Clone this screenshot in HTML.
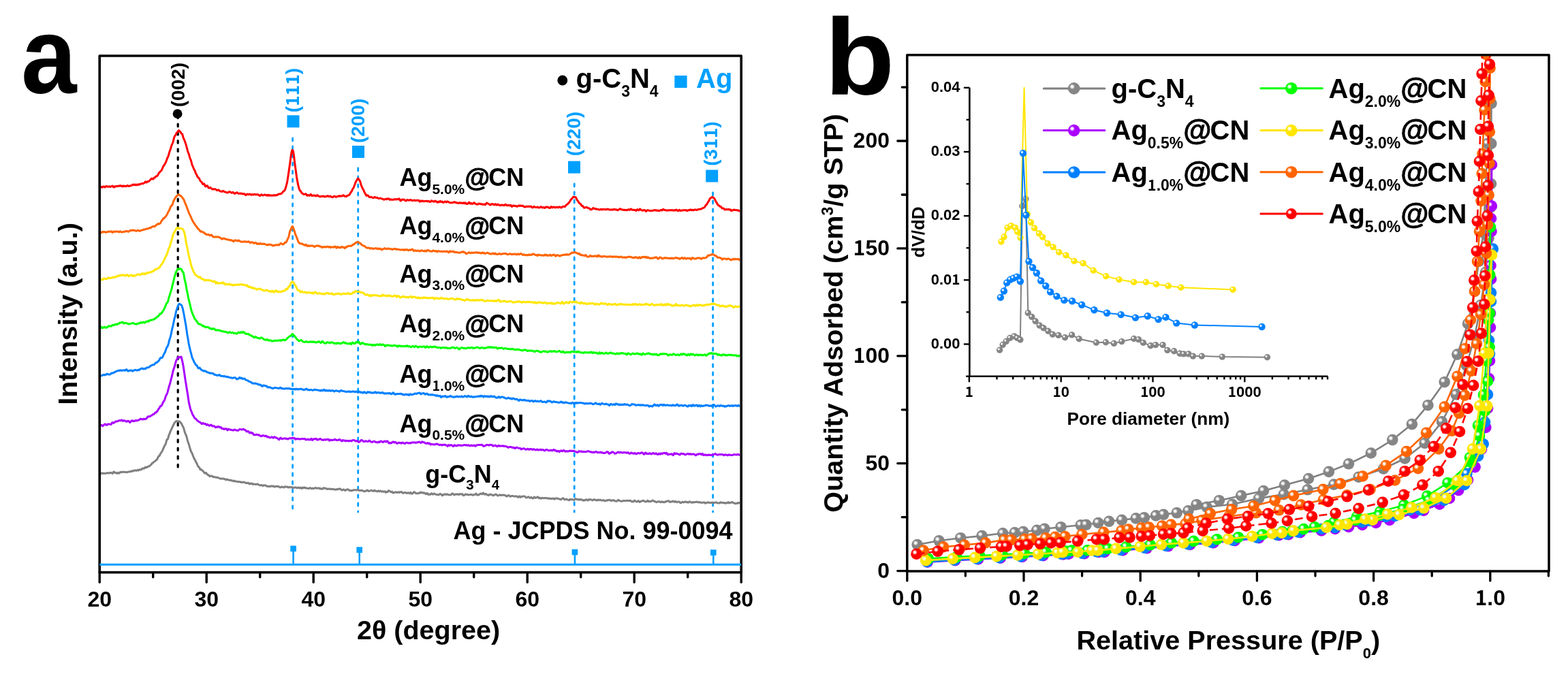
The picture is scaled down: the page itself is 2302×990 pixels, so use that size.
<!DOCTYPE html><html><head><meta charset="utf-8"><style>html,body{margin:0;padding:0;background:#fff;overflow:hidden}svg{display:block}text{font-family:'Liberation Sans',Arial,sans-serif;font-weight:bold}</style></head><body>
<svg width="2302" height="990" viewBox="0 0 2302 990">
<defs><clipPath id="clipA"><rect x="148" y="83.8" width="938.4" height="755.2"/></clipPath></defs>
<rect width="2302" height="990" fill="#fff"/>
<line x1="261.2" y1="170" x2="261.2" y2="692" stroke="#000" stroke-width="3.2" stroke-dasharray="3.6 8.6" stroke-linecap="round"/>
<line x1="429.6" y1="203" x2="429.6" y2="752" stroke="#00A0FF" stroke-width="2.8" stroke-dasharray="4 8" stroke-linecap="round"/>
<line x1="525.7" y1="247" x2="525.7" y2="752" stroke="#00A0FF" stroke-width="2.8" stroke-dasharray="4 8" stroke-linecap="round"/>
<line x1="843.2" y1="270" x2="843.2" y2="752" stroke="#00A0FF" stroke-width="2.8" stroke-dasharray="4 8" stroke-linecap="round"/>
<line x1="1046.6" y1="283" x2="1046.6" y2="752" stroke="#00A0FF" stroke-width="2.8" stroke-dasharray="4 8" stroke-linecap="round"/>
<g clip-path="url(#clipA)">
<polyline fill="none" stroke="#808080" stroke-width="3" stroke-linejoin="round" points="147.5,695.5 148.3,695.7 149.1,695.2 149.9,694.8 150.7,695.3 151.5,695.4 152.3,695.1 153.1,695.3 153.9,695.4 154.7,695.3 155.5,695.2 156.3,695.1 157.1,694.7 157.9,694.6 158.7,694.8 159.5,695.1 160.3,695 161.1,694.5 161.9,694.3 162.7,694.5 163.5,694.6 164.3,694.9 165.1,695.5 165.9,694.8 166.7,693.1 167.5,693 168.3,693.9 169.1,694.3 169.9,694.5 170.7,695.1 171.5,695.2 172.3,694.2 173.1,694.4 173.9,695.3 174.7,695.2 175.5,694.5 176.3,693.6 177.1,693.2 177.9,693.7 178.7,693.7 179.5,693.1 180.3,693.2 181.1,693.3 181.9,693.2 182.7,693.3 183.5,693.6 184.3,693.4 185.1,693.3 185.9,693.7 186.7,693.8 187.5,693.3 188.3,692.9 189.1,692.9 189.9,693 190.7,692.8 191.5,692.5 192.3,692.7 193.1,692.3 193.9,691.6 194.7,691.7 195.5,692 196.3,691.8 197.1,691 197.9,690.8 198.7,691.1 199.5,691.1 200.3,691.3 201.1,690.9 201.9,690.2 202.7,690.6 203.5,691 204.3,690.1 205.1,689.7 205.9,690 206.7,690 207.5,689.7 208.3,688.7 209.1,687.9 209.9,688 210.7,688.2 211.5,688.2 212.3,687.5 213.1,686.2 213.9,686.2 214.7,686.9 215.5,686.6 216.3,685.6 217.1,685.3 217.9,685.2 218.7,685 219.5,684.6 220.3,683.8 221.1,682.9 221.9,682.4 222.7,681.6 223.5,680.2 224.3,679.8 225.1,679.4 225.9,678.4 226.7,677.9 227.5,677.4 228.3,676.8 229.1,676 229.9,675.3 230.7,674.6 231.5,673 232.3,671 233.1,670 233.9,669.8 234.7,668.3 235.5,666.5 236.3,665.3 237.1,664.2 237.9,663 238.7,661.3 239.5,659.4 240.3,657.6 241.1,656 241.9,654.2 242.7,653.1 243.5,651.3 244.3,647.9 245.1,645.5 245.9,645.3 246.7,644.1 247.5,640.7 248.3,638.2 249.1,636.6 249.9,634.5 250.7,632.4 251.5,630.8 252.3,629.2 253.1,627.4 253.9,625.7 254.7,624 255.5,622.3 256.3,621 257.1,620.1 257.9,619.3 258.7,618.4 259.5,618.4 260.3,619.1 261.1,619 261.9,618.8 262.7,618.9 263.5,619 264.3,619.6 265.1,620.8 265.9,621.6 266.7,622.7 267.5,624.6 268.3,626.1 269.1,627.5 269.9,629.7 270.7,632.7 271.5,635.4 272.3,637.3 273.1,639.1 273.9,641.3 274.7,644.5 275.5,647.7 276.3,649.8 277.1,652 277.9,654.8 278.7,657.6 279.5,660.3 280.3,662.8 281.1,664.2 281.9,665.6 282.7,667.7 283.5,669.8 284.3,671.8 285.1,673.6 285.9,674.9 286.7,676.3 287.5,678.3 288.3,679.6 289.1,680.8 289.9,683 290.7,684.8 291.5,685.7 292.3,686.2 293.1,687.6 293.9,689.6 294.7,690 295.5,689.5 296.3,690.3 297.1,691.1 297.9,691.7 298.7,692.7 299.5,693.8 300.3,695 301.1,695 301.9,694.3 302.7,694.8 303.5,695.8 304.3,697 305.1,697.7 305.9,697.6 306.7,698 307.5,699.4 308.3,699.8 309.1,699 309.9,699 310.7,699.3 311.5,699.3 312.3,699.9 313.1,700.7 313.9,700.5 314.7,700.5 315.5,701 316.3,701 317.1,701 317.9,701.3 318.7,701.4 319.5,701.3 320.3,701.7 321.1,702.1 321.9,702.4 322.7,702.6 323.5,703 324.3,703.3 325.1,703.2 325.9,703.1 326.7,703.1 327.5,703 328.3,703.2 329.1,703.7 329.9,703.5 330.7,703.8 331.5,704.6 332.3,704.8 333.1,704.2 333.9,704 334.7,704.9 335.5,705.1 336.3,705 337.1,705.4 337.9,705.3 338.7,705.1 339.5,705.7 340.3,706.1 341.1,705.9 341.9,706.1 342.7,706.9 343.5,706.5 344.3,706.1 345.1,706.8 345.9,707.1 346.7,707.2 347.5,707.2 348.3,707.4 349.1,707.5 349.9,707.6 350.7,707.9 351.5,707.7 352.3,707.6 353.1,708.2 353.9,708.5 354.7,708.3 355.5,708.3 356.3,708.4 357.1,707.9 357.9,708.1 358.7,708.5 359.5,708.6 360.3,709 361.1,709.6 361.9,709.8 362.7,709.3 363.5,709.4 364.3,709.3 365.1,709.7 365.9,710.9 366.7,710.5 367.5,710.1 368.3,710.7 369.1,710.4 369.9,710 370.7,710.9 371.5,711.4 372.3,711 373.1,711 373.9,711.2 374.7,711.2 375.5,711.5 376.3,711.6 377.1,711.1 377.9,710.9 378.7,711.3 379.5,711.8 380.3,712.4 381.1,712.7 381.9,712.8 382.7,712.8 383.5,712.5 384.3,712.5 385.1,713.3 385.9,713.8 386.7,713.1 387.5,712.7 388.3,712.9 389.1,712.9 389.9,713 390.7,713.3 391.5,713.9 392.3,714.4 393.1,714.3 393.9,714.3 394.7,714.5 395.5,714.6 396.3,714.7 397.1,714.2 397.9,713.8 398.7,714.1 399.5,714.2 400.3,714 401.1,714 401.9,714.3 402.7,715.1 403.5,715 404.3,714.4 405.1,714.2 405.9,714.5 406.7,714.6 407.5,714.3 408.3,714.3 409.1,714.7 409.9,715.1 410.7,715.8 411.5,716 412.3,715.7 413.1,715.2 413.9,714.9 414.7,715.3 415.5,715.6 416.3,716 417.1,715.8 417.9,714.8 418.7,714.8 419.5,715.2 420.3,715.3 421.1,715 421.9,715.1 422.7,715.8 423.5,716.1 424.3,715.7 425.1,715.3 425.9,715.6 426.7,716.1 427.5,715.7 428.3,715.3 429.1,716 429.9,716.6 430.7,716.5 431.5,716.3 432.3,716.1 433.1,715.9 433.9,716 434.7,716.2 435.5,716.7 436.3,716.7 437.1,716.1 437.9,716.1 438.7,716.6 439.5,717.1 440.3,716.7 441.1,716.1 441.9,716.6 442.7,717.5 443.5,717.3 444.3,716.1 445.1,716.2 445.9,716.8 446.7,716 447.5,715.9 448.3,716.9 449.1,717.2 449.9,716.8 450.7,716.9 451.5,717.4 452.3,717.6 453.1,717.5 453.9,717.2 454.7,716.7 455.5,716.6 456.3,717.2 457.1,717.7 457.9,717.4 458.7,717 459.5,717.5 460.3,717.7 461.1,717.2 461.9,717 462.7,716.7 463.5,716.4 464.3,717 465.1,717.3 465.9,717.2 466.7,717.2 467.5,716.8 468.3,716.7 469.1,717.6 469.9,718 470.7,717.4 471.5,717.7 472.3,718.3 473.1,718.3 473.9,718.1 474.7,716.9 475.5,716.5 476.3,717.3 477.1,717.3 477.9,717.1 478.7,717.4 479.5,718.3 480.3,718.4 481.1,718 481.9,718.3 482.7,718.3 483.5,718 484.3,718 485.1,718.2 485.9,718.5 486.7,718.4 487.5,718.4 488.3,718.5 489.1,718.3 489.9,718.5 490.7,719 491.5,719.1 492.3,719 493.1,719.3 493.9,719 494.7,718.4 495.5,718.4 496.3,718.8 497.1,718.6 497.9,717.9 498.7,717.8 499.5,718.1 500.3,718.7 501.1,719.6 501.9,720.1 502.7,719.8 503.5,719.3 504.3,718.9 505.1,719.2 505.9,720.1 506.7,720.6 507.5,720.1 508.3,719.3 509.1,719.1 509.9,718.9 510.7,718.8 511.5,719.2 512.3,719.9 513.1,720.4 513.9,720.3 514.7,720.7 515.5,720.8 516.3,720.5 517.1,720.7 517.9,720.4 518.7,719.8 519.5,719.8 520.3,719.8 521.1,719.7 521.9,719.8 522.7,720.1 523.5,720 524.3,719.7 525.1,719.5 525.9,719.4 526.7,720 527.5,720.6 528.3,720.5 529.1,720.6 529.9,720.5 530.7,720.1 531.5,720.2 532.3,720.8 533.1,721.1 533.9,721.5 534.7,721.8 535.5,721.4 536.3,721.4 537.1,721.5 537.9,720.7 538.7,720 539.5,720 540.3,720.8 541.1,721.5 541.9,721.3 542.7,721 543.5,720.9 544.3,720.6 545.1,720.2 545.9,720.6 546.7,720.8 547.5,721 548.3,721.5 549.1,720.8 549.9,720.1 550.7,720.7 551.5,721.3 552.3,721.4 553.1,721.6 553.9,721.9 554.7,721.4 555.5,720.8 556.3,721.3 557.1,721.9 557.9,721.2 558.7,720.9 559.5,721.6 560.3,722.1 561.1,722.3 561.9,722 562.7,721.7 563.5,722.2 564.3,722.1 565.1,721.7 565.9,722.9 566.7,723.4 567.5,722.3 568.3,722.3 569.1,722.5 569.9,721.4 570.7,720.6 571.5,721.1 572.3,721.6 573.1,722.1 573.9,722.7 574.7,722.5 575.5,722.1 576.3,723 577.1,724 577.9,723.9 578.7,723.5 579.5,723.2 580.3,723 581.1,722.8 581.9,723 582.7,723.3 583.5,723.6 584.3,723.2 585.1,722.6 585.9,723.2 586.7,723.5 587.5,722.8 588.3,722.5 589.1,722.4 589.9,722.6 590.7,723.7 591.5,724.4 592.3,724.2 593.1,723.8 593.9,723.6 594.7,723.5 595.5,723.5 596.3,724.1 597.1,724.6 597.9,724.3 598.7,723.7 599.5,723.7 600.3,724.2 601.1,724.7 601.9,724 602.7,723.2 603.5,724.2 604.3,725.2 605.1,725.1 605.9,724.7 606.7,723.9 607.5,722.8 608.3,722.6 609.1,723.2 609.9,724 610.7,724.7 611.5,724.7 612.3,724.7 613.1,724.8 613.9,724.5 614.7,724.4 615.5,724.6 616.3,723.8 617.1,722.9 617.9,723.6 618.7,723.8 619.5,723.3 620.3,723.9 621.1,724.3 621.9,723.8 622.7,723.8 623.5,724.3 624.3,725 625.1,725.7 625.9,725.3 626.7,724.3 627.5,724.6 628.3,725.9 629.1,726.5 629.9,726.1 630.7,726.1 631.5,726.4 632.3,725.9 633.1,725 633.9,724.7 634.7,725.6 635.5,726.2 636.3,725.5 637.1,725.1 637.9,725.1 638.7,725.8 639.5,726.3 640.3,726.2 641.1,726.4 641.9,726.6 642.7,726.8 643.5,727.1 644.3,726.7 645.1,725.9 645.9,725.5 646.7,725.6 647.5,726.1 648.3,726.8 649.1,727.9 649.9,727.7 650.7,726.5 651.5,726.4 652.3,726.5 653.1,725.7 653.9,725.9 654.7,726.5 655.5,726 656.3,725.8 657.1,726.3 657.9,726.7 658.7,726.8 659.5,726.8 660.3,726.9 661.1,726.9 661.9,726.9 662.7,726.1 663.5,725.2 664.3,724.9 665.1,725.2 665.9,726.2 666.7,727 667.5,726.8 668.3,726.1 669.1,725.8 669.9,726 670.7,726.2 671.5,726 672.3,725.7 673.1,726.4 673.9,726.6 674.7,725.8 675.5,725.5 676.3,725.7 677.1,726.1 677.9,725.9 678.7,725.6 679.5,726.7 680.3,727.7 681.1,727.5 681.9,727.3 682.7,726.4 683.5,725.8 684.3,726.3 685.1,726.3 685.9,726.1 686.7,726.8 687.5,726.9 688.3,726.7 689.1,726.8 689.9,726.6 690.7,726.5 691.5,726.5 692.3,726.4 693.1,726.6 693.9,727.1 694.7,727.4 695.5,727.1 696.3,726.4 697.1,726.3 697.9,726.2 698.7,725.1 699.5,725.6 700.3,726.9 701.1,727.2 701.9,727 702.7,726.7 703.5,726.5 704.3,725.9 705.1,725.2 705.9,725.1 706.7,725.6 707.5,725.9 708.3,725.1 709.1,724 709.9,724.4 710.7,725.7 711.5,726.3 712.3,726 713.1,725.3 713.9,725.6 714.7,726.6 715.5,726.8 716.3,727.4 717.1,727.7 717.9,726.9 718.7,726.3 719.5,726.2 720.3,726.1 721.1,726.4 721.9,726.8 722.7,727.1 723.5,727.7 724.3,727.7 725.1,727.2 725.9,727 726.7,726.5 727.5,726.1 728.3,726.2 729.1,726.6 729.9,727.5 730.7,728.1 731.5,728 732.3,727.6 733.1,727.3 733.9,726.8 734.7,726.8 735.5,727.5 736.3,727.5 737.1,727.3 737.9,727.2 738.7,727 739.5,727.1 740.3,727.4 741.1,727.2 741.9,727.6 742.7,728.4 743.5,728.9 744.3,729 745.1,728.3 745.9,727.7 746.7,727.6 747.5,727.9 748.3,728.8 749.1,729.4 749.9,729 750.7,728.5 751.5,728.6 752.3,728.6 753.1,728.4 753.9,728.8 754.7,729.1 755.5,728.9 756.3,729 757.1,729.1 757.9,728.8 758.7,729 759.5,729.8 760.3,730.3 761.1,730.3 761.9,729.2 762.7,728.9 763.5,730.1 764.3,730.4 765.1,729.5 765.9,729.1 766.7,729.3 767.5,729.2 768.3,729.1 769.1,729 769.9,729.1 770.7,729.2 771.5,730.1 772.3,731.1 773.1,730.9 773.9,730.7 774.7,730.2 775.5,729.7 776.3,730 777.1,730.8 777.9,731.4 778.7,731.3 779.5,730.6 780.3,730.5 781.1,731.3 781.9,732.1 782.7,732.1 783.5,730.9 784.3,730 785.1,730.3 785.9,731.4 786.7,731.3 787.5,730.9 788.3,730.5 789.1,729.7 789.9,730.1 790.7,731.5 791.5,731.9 792.3,731.4 793.1,731.2 793.9,732 794.7,732.3 795.5,731.5 796.3,731.3 797.1,731.6 797.9,731.8 798.7,731.8 799.5,731.5 800.3,731.4 801.1,731.5 801.9,731.6 802.7,731.7 803.5,732.1 804.3,732.2 805.1,731.8 805.9,732 806.7,732.5 807.5,732.2 808.3,732.2 809.1,732.6 809.9,732.6 810.7,732.4 811.5,732.1 812.3,731.9 813.1,732.6 813.9,733.3 814.7,732.6 815.5,731.9 816.3,732 817.1,732 817.9,732.2 818.7,732.3 819.5,732.3 820.3,732.9 821.1,733.1 821.9,733.2 822.7,733.5 823.5,733.8 824.3,733.3 825.1,732.4 825.9,731.9 826.7,731.7 827.5,732.3 828.3,733.4 829.1,733.9 829.9,733.7 830.7,733.2 831.5,733.1 832.3,733.5 833.1,734.1 833.9,734.1 834.7,734.3 835.5,734.9 836.3,734 837.1,733.2 837.9,733.6 838.7,733.9 839.5,733.6 840.3,733.5 841.1,733.9 841.9,734.2 842.7,734.5 843.5,734.2 844.3,733 845.1,732.5 845.9,732.9 846.7,733.5 847.5,733.8 848.3,733.6 849.1,733.4 849.9,734 850.7,734.2 851.5,733.4 852.3,733.4 853.1,733.9 853.9,733.8 854.7,734.2 855.5,735 856.3,735.2 857.1,734.5 857.9,734.4 858.7,735 859.5,734.6 860.3,733.8 861.1,733.7 861.9,734.3 862.7,735.1 863.5,734.8 864.3,733.8 865.1,733.4 865.9,733.9 866.7,733.7 867.5,733.7 868.3,734.2 869.1,734.3 869.9,734.9 870.7,734.8 871.5,733.9 872.3,733.6 873.1,733.7 873.9,734.4 874.7,734.7 875.5,734.6 876.3,735.1 877.1,734.7 877.9,734 878.7,734.6 879.5,734.8 880.3,734.3 881.1,734.1 881.9,734.5 882.7,735.1 883.5,735.1 884.3,735 885.1,735 885.9,734.5 886.7,734.9 887.5,735.7 888.3,735.7 889.1,735.7 889.9,735.3 890.7,734.7 891.5,734.8 892.3,735 893.1,734.7 893.9,734.4 894.7,734.2 895.5,734.3 896.3,735 897.1,735.6 897.9,735.2 898.7,734.7 899.5,735.2 900.3,735.1 901.1,734.6 901.9,735.2 902.7,735.9 903.5,736 904.3,736.1 905.1,736.3 905.9,736.1 906.7,735.1 907.5,734.2 908.3,734.7 909.1,735.4 909.9,735.5 910.7,735.9 911.5,736.1 912.3,736.2 913.1,736.3 913.9,735.8 914.7,735.7 915.5,735.5 916.3,735.3 917.1,735.6 917.9,735.8 918.7,735.7 919.5,735.4 920.3,735.3 921.1,735.3 921.9,735.4 922.7,735.3 923.5,735.4 924.3,735.6 925.1,735.2 925.9,735.3 926.7,736.4 927.5,736.8 928.3,736.6 929.1,736.9 929.9,736.9 930.7,735.8 931.5,735.1 932.3,735.6 933.1,736.3 933.9,736.7 934.7,737 935.5,736.8 936.3,736.1 937.1,735.5 937.9,736.1 938.7,737.3 939.5,737.4 940.3,736.7 941.1,736.2 941.9,736 942.7,736 943.5,735.5 944.3,735.1 945.1,735.7 945.9,736.3 946.7,736.5 947.5,736.8 948.3,736.9 949.1,736.9 949.9,736.3 950.7,735.2 951.5,735.8 952.3,736.8 953.1,736.3 953.9,736.3 954.7,736.7 955.5,736.6 956.3,736.4 957.1,735.7 957.9,735.1 958.7,735.2 959.5,735.6 960.3,736.3 961.1,736.7 961.9,736.6 962.7,737 963.5,737.8 964.3,737.4 965.1,736.9 965.9,737 966.7,736.7 967.5,736.5 968.3,737 969.1,737.5 969.9,737.7 970.7,737.4 971.5,736.7 972.3,736.9 973.1,737.7 973.9,737.5 974.7,737.3 975.5,737.8 976.3,737.6 977.1,736.6 977.9,736.4 978.7,736.6 979.5,736.2 980.3,735.8 981.1,735.8 981.9,735.7 982.7,736.7 983.5,737.6 984.3,737.3 985.1,736.9 985.9,737.1 986.7,736.7 987.5,736.1 988.3,736.2 989.1,736.6 989.9,737.3 990.7,737.2 991.5,736.3 992.3,736.7 993.1,737.6 993.9,737.7 994.7,737.3 995.5,737 996.3,737.1 997.1,736.9 997.9,737.4 998.7,738.6 999.5,738.8 1000.3,738.3 1001.1,737.8 1001.9,737.2 1002.7,737.4 1003.5,737.9 1004.3,737.7 1005.1,737.1 1005.9,736.8 1006.7,737.4 1007.5,737.7 1008.3,737.2 1009.1,737.5 1009.9,738.3 1010.7,738 1011.5,737.2 1012.3,736.8 1013.1,737 1013.9,737.7 1014.7,738.1 1015.5,738.1 1016.3,738.2 1017.1,737.6 1017.9,737.5 1018.7,738 1019.5,737.6 1020.3,737.3 1021.1,737.6 1021.9,737.5 1022.7,737 1023.5,737.2 1024.3,737.6 1025.1,737.8 1025.9,738 1026.7,737.7 1027.5,737.6 1028.3,738 1029.1,738.2 1029.9,738.3 1030.7,738.4 1031.5,738.2 1032.3,738.1 1033.1,737.8 1033.9,737.8 1034.7,738.6 1035.5,739.3 1036.3,738.8 1037.1,738.4 1037.9,738.5 1038.7,738.1 1039.5,737.7 1040.3,738.1 1041.1,738.5 1041.9,738.5 1042.7,738.2 1043.5,738.3 1044.3,738.6 1045.1,738.5 1045.9,738.1 1046.7,738.1 1047.5,738.5 1048.3,738.6 1049.1,738.4 1049.9,738.2 1050.7,738 1051.5,737.8 1052.3,738.3 1053.1,738.7 1053.9,738.8 1054.7,738.9 1055.5,739.1 1056.3,739.1 1057.1,738.3 1057.9,737.7 1058.7,738.2 1059.5,738.2 1060.3,738.1 1061.1,738.6 1061.9,738.9 1062.7,738.7 1063.5,738.5 1064.3,738.6 1065.1,739.2 1065.9,739.3 1066.7,738.7 1067.5,738.5 1068.3,738.4 1069.1,737.5 1069.9,738 1070.7,738.9 1071.5,738.5 1072.3,738.4 1073.1,738.3 1073.9,737.7 1074.7,737.4 1075.5,738 1076.3,738.6 1077.1,738.5 1077.9,738.9 1078.7,739.6 1079.5,739.8 1080.3,739.4 1081.1,739.6 1081.9,739.6 1082.7,738.6 1083.5,738.4 1084.3,739 1085.1,738.6 1085.9,738.6 1086.7,739.3"/>
<polyline fill="none" stroke="#AA00FF" stroke-width="3" stroke-linejoin="round" points="147.5,625.2 148.3,624.6 149.1,624.4 149.9,624.8 150.7,625.7 151.5,625.5 152.3,624.3 153.1,623.6 153.9,623 154.7,623.1 155.5,623.9 156.3,624.6 157.1,624.2 157.9,623.2 158.7,622.9 159.5,623 160.3,623.1 161.1,623.1 161.9,623.4 162.7,623.6 163.5,622.7 164.3,621.2 165.1,620.5 165.9,621 166.7,621.4 167.5,620.8 168.3,620.2 169.1,619.8 169.9,618.9 170.7,618.8 171.5,619.1 172.3,618.8 173.1,618.4 173.9,618.3 174.7,617.8 175.5,617.4 176.3,617.6 177.1,617.9 177.9,617.5 178.7,616.9 179.5,617.3 180.3,618.3 181.1,618.4 181.9,617.7 182.7,617.7 183.5,618.1 184.3,618.5 185.1,619 185.9,619.3 186.7,618.9 187.5,618.3 188.3,618.3 189.1,618.9 189.9,619.6 190.7,620.5 191.5,619.9 192.3,618.7 193.1,618.3 193.9,617.7 194.7,617.7 195.5,618.7 196.3,618.7 197.1,618.4 197.9,618.5 198.7,617.7 199.5,617.3 200.3,617.9 201.1,617.9 201.9,617.4 202.7,617.3 203.5,617.1 204.3,616.8 205.1,616.1 205.9,615.2 206.7,615.3 207.5,615.8 208.3,615.7 209.1,616 209.9,616 210.7,615.3 211.5,615.4 212.3,615.8 213.1,615.5 213.9,615.4 214.7,615 215.5,614.1 216.3,612.9 217.1,612 217.9,611.7 218.7,612 219.5,611.9 220.3,611.4 221.1,611 221.9,610.5 222.7,610.2 223.5,609.6 224.3,608.8 225.1,608.3 225.9,608.3 226.7,607.9 227.5,606.4 228.3,605.8 229.1,606 229.9,605 230.7,604.1 231.5,603.3 232.3,601.5 233.1,600.2 233.9,599.6 234.7,597.8 235.5,596.5 236.3,596.6 237.1,596.1 237.9,594.4 238.7,592.5 239.5,590.8 240.3,589.4 241.1,588.5 241.9,586.9 242.7,584.1 243.5,581.4 244.3,580.2 245.1,578.8 245.9,576.4 246.7,573.5 247.5,570.3 248.3,567.4 249.1,564.9 249.9,562.1 250.7,558.8 251.5,555.9 252.3,552.9 253.1,549.2 253.9,545.7 254.7,543 255.5,540.7 256.3,538.3 257.1,535.5 257.9,532.2 258.7,529.6 259.5,528.5 260.3,527 261.1,525.3 261.9,524.5 262.7,524.5 263.5,524.9 264.3,525 265.1,524.3 265.9,524 266.7,526.3 267.5,529.8 268.3,533.5 269.1,537.7 269.9,543 270.7,548.5 271.5,554 272.3,559.4 273.1,564 273.9,569.1 274.7,574.2 275.5,578.8 276.3,584.2 277.1,589.8 277.9,593.9 278.7,597.2 279.5,600.4 280.3,602.7 281.1,604.5 281.9,606.8 282.7,608.8 283.5,610.2 284.3,611.4 285.1,612.9 285.9,614.2 286.7,614.9 287.5,615.1 288.3,615.9 289.1,617.3 289.9,617.9 290.7,618.3 291.5,619.4 292.3,619.7 293.1,619.8 293.9,620.5 294.7,621 295.5,621.9 296.3,622.7 297.1,622.2 297.9,621.5 298.7,621.8 299.5,622.5 300.3,622.6 301.1,622.3 301.9,622.7 302.7,624 303.5,624.2 304.3,623.3 305.1,623.7 305.9,624.5 306.7,625 307.5,625.3 308.3,624.9 309.1,624.3 309.9,624 310.7,624.6 311.5,625.8 312.3,626 313.1,625.8 313.9,625.7 314.7,625.9 315.5,626.9 316.3,627.9 317.1,627.6 317.9,627.1 318.7,627.6 319.5,627.1 320.3,626.4 321.1,626.7 321.9,627.4 322.7,627.9 323.5,627.6 324.3,627.6 325.1,628.8 325.9,629.7 326.7,629.4 327.5,629.4 328.3,630.3 329.1,630.5 329.9,629.8 330.7,629.8 331.5,629.7 332.3,629.7 333.1,631.1 333.9,632 334.7,630.7 335.5,630.1 336.3,631 337.1,631 337.9,630.9 338.7,631.3 339.5,631.5 340.3,631.6 341.1,631.8 341.9,632.1 342.7,632.1 343.5,631.6 344.3,631 345.1,631.2 345.9,631.7 346.7,631.9 347.5,632 348.3,632.4 349.1,632.5 349.9,632.1 350.7,631.5 351.5,630.7 352.3,630.4 353.1,630.6 353.9,630.8 354.7,631.1 355.5,631 356.3,630.6 357.1,630.2 357.9,630.6 358.7,631.5 359.5,631.6 360.3,631.6 361.1,632.7 361.9,633.8 362.7,633.9 363.5,633.5 364.3,633.5 365.1,634 365.9,635.3 366.7,636 367.5,635.3 368.3,635.1 369.1,636.1 369.9,636.3 370.7,635.8 371.5,637.1 372.3,638.7 373.1,638.7 373.9,638.5 374.7,638.7 375.5,638.7 376.3,638.1 377.1,638.2 377.9,638.7 378.7,638.9 379.5,638.7 380.3,638.7 381.1,639.7 381.9,640.3 382.7,640.2 383.5,640.5 384.3,640.8 385.1,640 385.9,639.5 386.7,639.8 387.5,640.1 388.3,640.3 389.1,640.7 389.9,640.6 390.7,640.1 391.5,640.7 392.3,641.9 393.1,642 393.9,641.8 394.7,642 395.5,642.4 396.3,642.9 397.1,642.8 397.9,642.3 398.7,642 399.5,641.9 400.3,642.5 401.1,643.3 401.9,642.5 402.7,641.7 403.5,642.1 404.3,642.7 405.1,643 405.9,643.1 406.7,643.5 407.5,644 408.3,644.6 409.1,645.5 409.9,645.7 410.7,644.5 411.5,643.2 412.3,643.1 413.1,644.1 413.9,644.8 414.7,644.7 415.5,644.4 416.3,644 417.1,644.1 417.9,644.1 418.7,643.9 419.5,644.3 420.3,644.5 421.1,644.3 421.9,644.8 422.7,645 423.5,644.4 424.3,643.9 425.1,643.7 425.9,643.7 426.7,643.9 427.5,643.9 428.3,643.7 429.1,643.3 429.9,643 430.7,643.5 431.5,643.9 432.3,643.6 433.1,644.1 433.9,645.3 434.7,645.1 435.5,644.5 436.3,644.4 437.1,644.7 437.9,645 438.7,644.6 439.5,644.8 440.3,645.1 441.1,644.9 441.9,644.9 442.7,644.6 443.5,644.5 444.3,644.6 445.1,644.7 445.9,644.8 446.7,644.6 447.5,644.5 448.3,645.2 449.1,645.8 449.9,646.1 450.7,645.6 451.5,645 452.3,645.6 453.1,645.9 453.9,645.4 454.7,645.8 455.5,646 456.3,644.9 457.1,644.3 457.9,645.4 458.7,646.6 459.5,645.8 460.3,644.7 461.1,644.7 461.9,644.7 462.7,645 463.5,644.8 464.3,644.3 465.1,645.4 465.9,646.2 466.7,645.7 467.5,645.6 468.3,645.7 469.1,645 469.9,644.4 470.7,644.7 471.5,645.4 472.3,645.9 473.1,646 473.9,646.3 474.7,646.5 475.5,646.1 476.3,645.6 477.1,645.9 477.9,646.2 478.7,645.7 479.5,645.5 480.3,645.7 481.1,645.6 481.9,645.2 482.7,645.8 483.5,647.3 484.3,647.1 485.1,646.1 485.9,646.2 486.7,646.5 487.5,646.5 488.3,646.4 489.1,646.1 489.9,646.1 490.7,646.2 491.5,645.6 492.3,645.2 493.1,646 493.9,646.8 494.7,646.6 495.5,646.3 496.3,646.6 497.1,646.4 497.9,645.4 498.7,645.4 499.5,646.2 500.3,646.7 501.1,647.6 501.9,648 502.7,647 503.5,646.4 504.3,646.9 505.1,647 505.9,646.9 506.7,647.6 507.5,648 508.3,647.5 509.1,647.3 509.9,647.7 510.7,647.5 511.5,647.4 512.3,647.9 513.1,647.7 513.9,647.3 514.7,647.3 515.5,647.7 516.3,647.9 517.1,646.9 517.9,646.4 518.7,646.6 519.5,646.6 520.3,646.8 521.1,647.3 521.9,647.9 522.7,648 523.5,647.6 524.3,647.5 525.1,647.9 525.9,648.9 526.7,649.4 527.5,649 528.3,648.6 529.1,647.7 529.9,646.7 530.7,646.6 531.5,646.7 532.3,647.1 533.1,648 533.9,648.7 534.7,648.8 535.5,648.4 536.3,647.9 537.1,647.7 537.9,648.1 538.7,648.4 539.5,648.5 540.3,648.5 541.1,647.9 541.9,647.1 542.7,647.2 543.5,648.2 544.3,649 545.1,648.9 545.9,649.1 546.7,649.5 547.5,649 548.3,648.4 549.1,648.2 549.9,648.2 550.7,648.9 551.5,649.5 552.3,649.5 553.1,649.5 553.9,649.9 554.7,649.9 555.5,649.1 556.3,649 557.1,649.6 557.9,649.2 558.7,648 559.5,648.1 560.3,648.6 561.1,648.8 561.9,649.4 562.7,649.4 563.5,648.7 564.3,648.1 565.1,648 565.9,648.7 566.7,649.1 567.5,648.4 568.3,647.8 569.1,648.2 569.9,649.3 570.7,650.9 571.5,651.1 572.3,650.3 573.1,650.4 573.9,651 574.7,650.7 575.5,649.8 576.3,649.1 577.1,648.9 577.9,649 578.7,649.9 579.5,650 580.3,649.3 581.1,649.7 581.9,650.6 582.7,651.2 583.5,651.4 584.3,650.8 585.1,650.1 585.9,650.3 586.7,650.7 587.5,650.4 588.3,650.7 589.1,651.3 589.9,650.6 590.7,649.9 591.5,650.3 592.3,650.8 593.1,651 593.9,651.5 594.7,651.5 595.5,650.6 596.3,650.3 597.1,650.3 597.9,650.2 598.7,650.6 599.5,650.9 600.3,650.9 601.1,650.4 601.9,650.6 602.7,651.1 603.5,650.5 604.3,649.9 605.1,649.9 605.9,649.9 606.7,649.8 607.5,649.9 608.3,649.8 609.1,649.9 609.9,650.3 610.7,650.5 611.5,650.1 612.3,649.7 613.1,649.7 613.9,649.7 614.7,649.1 615.5,648.9 616.3,649.4 617.1,650 617.9,650.5 618.7,650 619.5,648.8 620.3,648.9 621.1,649.7 621.9,649.7 622.7,649.8 623.5,650.4 624.3,651 625.1,651.1 625.9,651.4 626.7,651.3 627.5,650.6 628.3,650.8 629.1,651.5 629.9,651.2 630.7,651.1 631.5,652.4 632.3,653.1 633.1,652.6 633.9,652.5 634.7,652.6 635.5,652.7 636.3,652.8 637.1,653.1 637.9,653 638.7,652.7 639.5,652.6 640.3,652.3 641.1,652 641.9,652.2 642.7,652.5 643.5,652.7 644.3,653.3 645.1,653.7 645.9,653.5 646.7,653.2 647.5,653.3 648.3,653.8 649.1,653.9 649.9,653.4 650.7,653.1 651.5,653.4 652.3,653.4 653.1,653.1 653.9,653.5 654.7,654 655.5,654 656.3,654.6 657.1,655.4 657.9,654.6 658.7,653.5 659.5,654 660.3,654.5 661.1,654 661.9,653.6 662.7,653.8 663.5,654.1 664.3,654.7 665.1,655.6 665.9,655.6 666.7,654.2 667.5,653.6 668.3,654.6 669.1,654.8 669.9,654.6 670.7,655 671.5,654.6 672.3,653.7 673.1,653.7 673.9,654 674.7,654.2 675.5,654.2 676.3,654 677.1,654.2 677.9,654.6 678.7,654.4 679.5,654.1 680.3,654.1 681.1,653.7 681.9,653.4 682.7,653.7 683.5,653.9 684.3,653.8 685.1,653.8 685.9,654.4 686.7,654.3 687.5,653.7 688.3,653.9 689.1,654.4 689.9,655 690.7,654.7 691.5,654 692.3,654.1 693.1,654.5 693.9,654.8 694.7,654.7 695.5,654.2 696.3,653.9 697.1,654.7 697.9,655.4 698.7,654.8 699.5,654.2 700.3,653.8 701.1,653.6 701.9,653.6 702.7,653.5 703.5,653.6 704.3,653.5 705.1,653.5 705.9,653.6 706.7,653.3 707.5,653.2 708.3,653.7 709.1,654.9 709.9,655.5 710.7,655.2 711.5,655.1 712.3,654.7 713.1,654.2 713.9,653.6 714.7,653.4 715.5,653.6 716.3,653.6 717.1,653.8 717.9,654.2 718.7,653.7 719.5,653.2 720.3,653.4 721.1,653.6 721.9,653.5 722.7,653.8 723.5,655 724.3,655.2 725.1,654.4 725.9,654.5 726.7,654.6 727.5,654.1 728.3,654.7 729.1,655.5 729.9,655.8 730.7,655.4 731.5,654.5 732.3,654.3 733.1,655 733.9,655.3 734.7,655.1 735.5,654.9 736.3,654.9 737.1,655.1 737.9,654.9 738.7,654.7 739.5,655.6 740.3,655.5 741.1,655.2 741.9,655.5 742.7,655.6 743.5,655.9 744.3,656.3 745.1,656.7 745.9,657.3 746.7,657.2 747.5,656.6 748.3,656.5 749.1,656.4 749.9,656.4 750.7,657 751.5,657 752.3,656.9 753.1,657.9 753.9,658.1 754.7,657.3 755.5,657.9 756.3,658.6 757.1,658.3 757.9,657.3 758.7,657 759.5,657.5 760.3,657.9 761.1,658.1 761.9,658.4 762.7,658.5 763.5,658.3 764.3,659.1 765.1,660 765.9,659.6 766.7,659.2 767.5,659.2 768.3,658.9 769.1,658.7 769.9,659.1 770.7,659.5 771.5,660.1 772.3,660.5 773.1,660.1 773.9,659.6 774.7,659.2 775.5,659.7 776.3,660.4 777.1,659.9 777.9,659.4 778.7,659.7 779.5,659.7 780.3,659.6 781.1,660.2 781.9,660.7 782.7,660 783.5,659.6 784.3,660.1 785.1,660.6 785.9,660.8 786.7,660.9 787.5,660.8 788.3,660.1 789.1,660 789.9,660.9 790.7,661.2 791.5,660.9 792.3,660.6 793.1,660.2 793.9,660.3 794.7,661 795.5,661.1 796.3,660.6 797.1,660.6 797.9,660.9 798.7,661.4 799.5,662 800.3,661.7 801.1,660.8 801.9,660.4 802.7,660.6 803.5,660.8 804.3,661.2 805.1,661.7 805.9,661.9 806.7,661.7 807.5,661.6 808.3,661.5 809.1,661.2 809.9,661.5 810.7,662 811.5,661.6 812.3,660.8 813.1,660.4 813.9,661.1 814.7,661.8 815.5,661.4 816.3,661.8 817.1,662.9 817.9,663.1 818.7,662.7 819.5,662.2 820.3,662.9 821.1,663.6 821.9,662.8 822.7,662.2 823.5,662 824.3,662.1 825.1,662.7 825.9,662.7 826.7,661.8 827.5,661.3 828.3,662 829.1,662.8 829.9,663.3 830.7,662.9 831.5,662.4 832.3,662.9 833.1,663.2 833.9,662.8 834.7,662.6 835.5,662.7 836.3,662.2 837.1,662 837.9,662.6 838.7,662.3 839.5,662.2 840.3,662.5 841.1,662.5 841.9,662.3 842.7,662.2 843.5,662.8 844.3,663.1 845.1,663.3 845.9,663.8 846.7,664.2 847.5,664.4 848.3,664.4 849.1,663.4 849.9,662.6 850.7,662.9 851.5,663.3 852.3,663.2 853.1,662.8 853.9,662.9 854.7,663.8 855.5,663.8 856.3,663.3 857.1,663.4 857.9,663.5 858.7,663.5 859.5,663.8 860.3,663.6 861.1,663.4 861.9,663.1 862.7,662.6 863.5,662.8 864.3,663.1 865.1,663 865.9,663.6 866.7,663.9 867.5,663.6 868.3,663.9 869.1,664.5 869.9,664.5 870.7,664 871.5,664.3 872.3,664.7 873.1,664.2 873.9,663.6 874.7,663.5 875.5,663.6 876.3,664.1 877.1,664.9 877.9,664.6 878.7,664.4 879.5,664.7 880.3,664.7 881.1,664.1 881.9,664.1 882.7,664.9 883.5,664.9 884.3,664.6 885.1,664.9 885.9,665.4 886.7,665.5 887.5,665.5 888.3,665.3 889.1,664.9 889.9,664.6 890.7,663.9 891.5,663.5 892.3,663.8 893.1,664.8 893.9,666.1 894.7,666.4 895.5,665.6 896.3,665.3 897.1,665.3 897.9,664.2 898.7,663.7 899.5,664 900.3,664.3 901.1,664.8 901.9,665.5 902.7,666.2 903.5,666.2 904.3,665.9 905.1,665.5 905.9,664.9 906.7,664.3 907.5,664 908.3,664.2 909.1,664.9 909.9,665 910.7,664.2 911.5,664.2 912.3,664.7 913.1,664.8 913.9,665 914.7,665 915.5,664.5 916.3,664.4 917.1,664.8 917.9,664.8 918.7,664.7 919.5,665 920.3,665.4 921.1,665.1 921.9,664.6 922.7,665.1 923.5,665.9 924.3,666.3 925.1,666.2 925.9,665.6 926.7,664.9 927.5,665.2 928.3,665.7 929.1,665.8 929.9,666.3 930.7,666.3 931.5,665.6 932.3,665.6 933.1,666.3 933.9,666.9 934.7,666.5 935.5,665.8 936.3,665.7 937.1,665.4 937.9,665.6 938.7,666 939.5,666.1 940.3,665.9 941.1,665.1 941.9,664.7 942.7,665.1 943.5,665.3 944.3,666 945.1,667.2 945.9,667.1 946.7,665.9 947.5,665 948.3,665.2 949.1,666.3 949.9,666.7 950.7,666.3 951.5,666.2 952.3,666.6 953.1,666.4 953.9,665.6 954.7,666 955.5,666.8 956.3,667 957.1,666.5 957.9,665.8 958.7,665.5 959.5,665.6 960.3,666.2 961.1,666.7 961.9,666.5 962.7,665.8 963.5,666 964.3,667 965.1,667.4 965.9,667.5 966.7,666.8 967.5,666.1 968.3,666.9 969.1,667.2 969.9,666.2 970.7,665.7 971.5,666.4 972.3,666.8 973.1,666 973.9,665.5 974.7,665.5 975.5,665.2 976.3,665.8 977.1,666.4 977.9,665.5 978.7,665.2 979.5,666.4 980.3,667.8 981.1,667.8 981.9,667.1 982.7,667.2 983.5,667.3 984.3,667.1 985.1,666.8 985.9,666.7 986.7,667.3 987.5,668.2 988.3,668.6 989.1,667.3 989.9,665.6 990.7,665.8 991.5,666.8 992.3,666.5 993.1,666 993.9,666.3 994.7,666.7 995.5,666.8 996.3,667.1 997.1,667.7 997.9,668.1 998.7,667.4 999.5,666.4 1000.3,666.1 1001.1,666.5 1001.9,666.7 1002.7,666.7 1003.5,666.5 1004.3,666.8 1005.1,667.5 1005.9,668 1006.7,667.7 1007.5,667.4 1008.3,667.1 1009.1,666.6 1009.9,666.3 1010.7,666.8 1011.5,667.3 1012.3,667 1013.1,666.6 1013.9,667.1 1014.7,667.5 1015.5,667.2 1016.3,667 1017.1,667 1017.9,667 1018.7,667 1019.5,667.3 1020.3,668.1 1021.1,668.8 1021.9,668.7 1022.7,667.9 1023.5,667.2 1024.3,667 1025.1,667.4 1025.9,667.2 1026.7,666.4 1027.5,666.4 1028.3,666.5 1029.1,667.3 1029.9,667.9 1030.7,666.8 1031.5,666.4 1032.3,667.9 1033.1,668.7 1033.9,668.4 1034.7,668.1 1035.5,667.7 1036.3,668.3 1037.1,668.8 1037.9,668.4 1038.7,668.2 1039.5,668.6 1040.3,668.3 1041.1,667.9 1041.9,668.3 1042.7,668.4 1043.5,668.2 1044.3,668.6 1045.1,668.6 1045.9,668.2 1046.7,667.8 1047.5,667.7 1048.3,667.4 1049.1,667 1049.9,666.5 1050.7,666.6 1051.5,667.6 1052.3,667.9 1053.1,668 1053.9,668.2 1054.7,667.9 1055.5,667.5 1056.3,667.6 1057.1,667.7 1057.9,667.6 1058.7,667.6 1059.5,667.5 1060.3,667.4 1061.1,667.7 1061.9,668.5 1062.7,668.8 1063.5,668.2 1064.3,667.7 1065.1,667.8 1065.9,668.3 1066.7,668.3 1067.5,668.3 1068.3,668.9 1069.1,668.5 1069.9,667.7 1070.7,667.9 1071.5,668.3 1072.3,668.4 1073.1,668.5 1073.9,668.6 1074.7,668.4 1075.5,668.4 1076.3,668.3 1077.1,667.6 1077.9,667.4 1078.7,667.6 1079.5,667.8 1080.3,667.9 1081.1,667.9 1081.9,667.9 1082.7,667.5 1083.5,667.3 1084.3,667.9 1085.1,668.3 1085.9,667.9 1086.7,667.9"/>
<polyline fill="none" stroke="#0080FF" stroke-width="3" stroke-linejoin="round" points="147.5,551.6 148.3,552.1 149.1,551.9 149.9,551.4 150.7,551 151.5,550.5 152.3,550.8 153.1,551 153.9,550.3 154.7,550.3 155.5,550.5 156.3,549.8 157.1,549.1 157.9,549.3 158.7,549.9 159.5,549.9 160.3,550 161.1,550 161.9,549.8 162.7,549.1 163.5,548.1 164.3,548 165.1,548 165.9,547.8 166.7,547.8 167.5,547.3 168.3,546.4 169.1,546 169.9,545.9 170.7,545.4 171.5,544.9 172.3,544.8 173.1,544.7 173.9,544.2 174.7,544.2 175.5,544.5 176.3,544 177.1,543.7 177.9,544.2 178.7,544.4 179.5,544.1 180.3,543.8 181.1,543.9 181.9,543.9 182.7,543.8 183.5,544.2 184.3,544.1 185.1,543 185.9,542.7 186.7,543.7 187.5,544.7 188.3,545.2 189.1,544.9 189.9,544.2 190.7,544 191.5,544.3 192.3,544.2 193.1,544 193.9,544.6 194.7,545.2 195.5,544.6 196.3,544.1 197.1,544 197.9,543.4 198.7,543.2 199.5,543.7 200.3,543.9 201.1,544.2 201.9,543.8 202.7,543.1 203.5,543.4 204.3,543.7 205.1,542.8 205.9,542 206.7,541.7 207.5,541.5 208.3,541 209.1,541.1 209.9,541.8 210.7,542 211.5,541.5 212.3,541.5 213.1,541.8 213.9,541.5 214.7,540.5 215.5,539.9 216.3,539.9 217.1,539.7 217.9,539.7 218.7,539.5 219.5,538.7 220.3,538 221.1,537.4 221.9,537 222.7,536.6 223.5,536.2 224.3,535.9 225.1,535.7 225.9,535.7 226.7,535.1 227.5,534.2 228.3,533.5 229.1,532.6 229.9,532.6 230.7,532.4 231.5,531.3 232.3,530.4 233.1,529.9 233.9,528.8 234.7,526.9 235.5,525.8 236.3,525.4 237.1,525.5 237.9,525.4 238.7,524.3 239.5,522.7 240.3,520.8 241.1,519.2 241.9,518.2 242.7,516.4 243.5,513.7 244.3,511.4 245.1,510 245.9,508.9 246.7,507.1 247.5,504.3 248.3,500.8 249.1,498.1 249.9,495.9 250.7,492.8 251.5,489.1 252.3,485.1 253.1,481.7 253.9,478.5 254.7,474.8 255.5,470.7 256.3,467.2 257.1,464.6 257.9,460.8 258.7,457 259.5,454.7 260.3,452.3 261.1,450 261.9,447.9 262.7,446.4 263.5,446.2 264.3,447 265.1,447.5 265.9,447.7 266.7,448.7 267.5,450.7 268.3,453.4 269.1,457.1 269.9,461.3 270.7,465.5 271.5,469.9 272.3,474.5 273.1,479.1 273.9,484.5 274.7,490.4 275.5,495 276.3,499.5 277.1,504.5 277.9,508.5 278.7,511.8 279.5,515.2 280.3,518.1 281.1,521.3 281.9,524.6 282.7,526.6 283.5,528.1 284.3,530.2 285.1,532.1 285.9,533 286.7,534.4 287.5,536.1 288.3,536.5 289.1,536.8 289.9,538.6 290.7,540.4 291.5,540.9 292.3,540.6 293.1,540.1 293.9,541.1 294.7,542.5 295.5,543 296.3,543.7 297.1,544.1 297.9,544.6 298.7,545.1 299.5,544.7 300.3,544.6 301.1,545.3 301.9,545.3 302.7,545.4 303.5,546.4 304.3,546.8 305.1,546.9 305.9,547.2 306.7,547.5 307.5,548 308.3,548.3 309.1,548.2 309.9,547.9 310.7,548.2 311.5,548.6 312.3,548.4 313.1,548.6 313.9,549.4 314.7,550.3 315.5,550.6 316.3,550.6 317.1,550.7 317.9,551.2 318.7,551.5 319.5,551.3 320.3,551.3 321.1,551 321.9,550.4 322.7,551 323.5,552 324.3,552.2 325.1,552.2 325.9,552.4 326.7,552.2 327.5,552.7 328.3,553.1 329.1,552.5 329.9,552.6 330.7,553.1 331.5,553.2 332.3,553.5 333.1,553.7 333.9,553.3 334.7,553.4 335.5,554 336.3,554.2 337.1,554.6 337.9,554.8 338.7,554.6 339.5,554.8 340.3,555.2 341.1,555.4 341.9,555.2 342.7,555 343.5,554.8 344.3,554.7 345.1,554.7 345.9,555.1 346.7,556 347.5,556.9 348.3,556.8 349.1,556.2 349.9,556.2 350.7,555.7 351.5,554.6 352.3,554.5 353.1,555.7 353.9,555.7 354.7,555.1 355.5,556 356.3,556.5 357.1,556.3 357.9,556.3 358.7,556 359.5,556.5 360.3,557.5 361.1,558.1 361.9,558.4 362.7,558.7 363.5,558.9 364.3,559.3 365.1,560 365.9,560.4 366.7,560.7 367.5,560.9 368.3,561.2 369.1,561.8 369.9,562.5 370.7,563.2 371.5,563.2 372.3,562.9 373.1,563.2 373.9,563.3 374.7,563 375.5,563.2 376.3,563.8 377.1,563.8 377.9,563.7 378.7,564.4 379.5,565.1 380.3,565 381.1,564.7 381.9,565.3 382.7,566.1 383.5,565.8 384.3,566.4 385.1,567.5 385.9,567.1 386.7,566.1 387.5,565.9 388.3,566.4 389.1,566.7 389.9,566.9 390.7,566.8 391.5,567.2 392.3,568.4 393.1,568.8 393.9,569 394.7,569 395.5,568.6 396.3,568.7 397.1,569.2 397.9,569.8 398.7,569.9 399.5,570 400.3,570.7 401.1,570.6 401.9,570 402.7,569.8 403.5,569.6 404.3,569.5 405.1,569.7 405.9,569.8 406.7,569.9 407.5,570.1 408.3,570.3 409.1,570.5 409.9,570.3 410.7,569.9 411.5,569.2 412.3,569.4 413.1,570.8 413.9,570.7 414.7,570.4 415.5,571 416.3,570.9 417.1,570.8 417.9,571.1 418.7,571 419.5,570.8 420.3,570.3 421.1,570.5 421.9,570.8 422.7,570.9 423.5,570.7 424.3,570.5 425.1,570.8 425.9,571.2 426.7,571 427.5,571.2 428.3,571.5 429.1,571.4 429.9,571.6 430.7,571.6 431.5,571.3 432.3,571.9 433.1,572.2 433.9,571.4 434.7,571 435.5,571.6 436.3,572.1 437.1,571.5 437.9,571.6 438.7,572 439.5,571.6 440.3,571.4 441.1,571.2 441.9,571.1 442.7,571.7 443.5,572.1 444.3,572 445.1,572.2 445.9,572.8 446.7,572.6 447.5,572 448.3,572.1 449.1,571.6 449.9,571 450.7,571.7 451.5,572.6 452.3,572.5 453.1,572.4 453.9,573.1 454.7,573.1 455.5,572.5 456.3,572.4 457.1,572.6 457.9,572.9 458.7,573.3 459.5,573.3 460.3,573.1 461.1,572.5 461.9,572.2 462.7,572.6 463.5,572.6 464.3,572.7 465.1,572.8 465.9,572.9 466.7,573 467.5,573 468.3,573.4 469.1,573.5 469.9,573.9 470.7,574 471.5,573.1 472.3,573.1 473.1,573.8 473.9,573.8 474.7,573.2 475.5,572.3 476.3,572.5 477.1,573.8 477.9,574.3 478.7,573.5 479.5,573.2 480.3,573.8 481.1,574.2 481.9,574.1 482.7,573.3 483.5,573.2 484.3,574.1 485.1,574.4 485.9,574 486.7,573.5 487.5,573.7 488.3,573.7 489.1,573.8 489.9,574.7 490.7,575 491.5,574.5 492.3,574.2 493.1,573.8 493.9,573.8 494.7,574.1 495.5,574.4 496.3,574.4 497.1,574.3 497.9,575 498.7,575.3 499.5,574.5 500.3,573.5 501.1,573.3 501.9,574 502.7,574.4 503.5,574.4 504.3,574.4 505.1,574.6 505.9,574.9 506.7,575 507.5,575.2 508.3,575.5 509.1,575.4 509.9,575.1 510.7,575.3 511.5,575.3 512.3,574.8 513.1,575 513.9,575.8 514.7,575.7 515.5,575.2 516.3,575.3 517.1,575.3 517.9,574.9 518.7,574.7 519.5,575.2 520.3,575.5 521.1,575.7 521.9,575.7 522.7,575 523.5,575 524.3,575.8 525.1,576.4 525.9,576.5 526.7,575.8 527.5,575.1 528.3,575.7 529.1,576.4 529.9,576.3 530.7,576 531.5,576.4 532.3,577.1 533.1,577.2 533.9,576.4 534.7,575.6 535.5,576.1 536.3,576.7 537.1,577.2 537.9,577.4 538.7,576.5 539.5,575.7 540.3,576.1 541.1,576.5 541.9,576.1 542.7,575.7 543.5,576.2 544.3,577.1 545.1,577 545.9,576.8 546.7,577.2 547.5,577.1 548.3,576.7 549.1,577.1 549.9,576.7 550.7,575.7 551.5,576 552.3,577 553.1,577.3 553.9,576.8 554.7,576.6 555.5,576.6 556.3,576.5 557.1,577 557.9,577.3 558.7,577.1 559.5,577.2 560.3,577 561.1,576.3 561.9,576.6 562.7,577.4 563.5,577.7 564.3,578.2 565.1,578 565.9,577.6 566.7,578 567.5,578.1 568.3,577.9 569.1,577.5 569.9,577.6 570.7,578.1 571.5,578 572.3,577.4 573.1,577.6 573.9,578.6 574.7,578.9 575.5,578.3 576.3,577.6 577.1,576.7 577.9,577.1 578.7,578.7 579.5,579.3 580.3,578.9 581.1,578.8 581.9,579 582.7,578.8 583.5,578.4 584.3,578.5 585.1,578.5 585.9,578.4 586.7,578.6 587.5,578.5 588.3,578.3 589.1,578.3 589.9,578.7 590.7,579.6 591.5,579.5 592.3,579.3 593.1,580 593.9,580.1 594.7,579.5 595.5,579 596.3,579.2 597.1,579.8 597.9,579.9 598.7,579.2 599.5,579.3 600.3,580.4 601.1,580.3 601.9,579.3 602.7,578.7 603.5,579.2 604.3,579.7 605.1,579.7 605.9,579.4 606.7,579.2 607.5,579.1 608.3,578.5 609.1,578 609.9,577.9 610.7,578.4 611.5,578.6 612.3,577.9 613.1,577.6 613.9,577.3 614.7,577.2 615.5,577.3 616.3,577.1 617.1,578 617.9,578.9 618.7,578.5 619.5,577.9 620.3,577.8 621.1,577.7 621.9,577.5 622.7,577.8 623.5,578.7 624.3,579.3 625.1,578.9 625.9,578.3 626.7,578.1 627.5,578.4 628.3,579.5 629.1,580 629.9,579.7 630.7,579.7 631.5,579.8 632.3,580.1 633.1,580 633.9,579.4 634.7,579.8 635.5,580.2 636.3,579.9 637.1,580.1 637.9,580.4 638.7,580.4 639.5,580.9 640.3,581.4 641.1,580.9 641.9,580.5 642.7,581.4 643.5,581.8 644.3,581.8 645.1,581.6 645.9,581.3 646.7,582.2 647.5,583.6 648.3,583.2 649.1,582 649.9,582.1 650.7,582.6 651.5,582.5 652.3,582.1 653.1,581.7 653.9,581.6 654.7,582.4 655.5,583.4 656.3,583.3 657.1,582.6 657.9,582.4 658.7,582.7 659.5,582.8 660.3,582.4 661.1,581.6 661.9,581.5 662.7,582.3 663.5,582.9 664.3,582.9 665.1,583.1 665.9,583.4 666.7,582.9 667.5,582.7 668.3,583.1 669.1,583.1 669.9,582.5 670.7,581.9 671.5,582.1 672.3,582.8 673.1,583 673.9,582.6 674.7,582.4 675.5,582.6 676.3,582.9 677.1,582.7 677.9,581.9 678.7,582.4 679.5,583.2 680.3,582.9 681.1,582.4 681.9,582.1 682.7,581.6 683.5,581.9 684.3,582.4 685.1,582.9 685.9,583.1 686.7,581.9 687.5,581.2 688.3,581.7 689.1,582.3 689.9,582.9 690.7,582.8 691.5,582.4 692.3,582.1 693.1,582.7 693.9,583.3 694.7,583.3 695.5,583 696.3,582.8 697.1,582.9 697.9,582.8 698.7,582.6 699.5,582.4 700.3,582.4 701.1,582.5 701.9,582.2 702.7,581.8 703.5,582.2 704.3,582.5 705.1,581.5 705.9,581.3 706.7,582 707.5,581.8 708.3,581.6 709.1,582.4 709.9,583.1 710.7,582.3 711.5,581.6 712.3,581.9 713.1,582.4 713.9,582.2 714.7,581.8 715.5,582.6 716.3,582.9 717.1,582.1 717.9,582.4 718.7,582.9 719.5,582.6 720.3,581.8 721.1,581.6 721.9,582.5 722.7,582.7 723.5,582.7 724.3,582.6 725.1,581.9 725.9,582.3 726.7,583.3 727.5,583.6 728.3,583.9 729.1,584.3 729.9,584 730.7,584 731.5,583.5 732.3,582.6 733.1,583.2 733.9,584.3 734.7,584 735.5,583.3 736.3,583.1 737.1,583.1 737.9,583.1 738.7,583.6 739.5,584.1 740.3,583.9 741.1,584.2 741.9,585.1 742.7,585.3 743.5,585.3 744.3,585.3 745.1,584.8 745.9,584.2 746.7,584.2 747.5,585 748.3,585.4 749.1,585.1 749.9,585.1 750.7,585.8 751.5,586.2 752.3,585.7 753.1,585 753.9,585.2 754.7,585.7 755.5,585.9 756.3,586.5 757.1,586.8 757.9,586.3 758.7,586.1 759.5,586.6 760.3,587.3 761.1,588.2 761.9,588.5 762.7,587.5 763.5,586.8 764.3,587.1 765.1,587.3 765.9,587.7 766.7,588 767.5,587.9 768.3,587.4 769.1,587.1 769.9,587.8 770.7,588.1 771.5,587.7 772.3,588 773.1,588.5 773.9,588.5 774.7,588.6 775.5,588.3 776.3,588.3 777.1,589.1 777.9,589.6 778.7,589.2 779.5,588.7 780.3,588.6 781.1,588.4 781.9,588.8 782.7,589.9 783.5,589.9 784.3,589 785.1,588.6 785.9,588.7 786.7,589.4 787.5,589.7 788.3,589.2 789.1,589.1 789.9,589.6 790.7,589.8 791.5,589.7 792.3,589.5 793.1,588.9 793.9,588.7 794.7,589 795.5,589.9 796.3,590.6 797.1,590.5 797.9,590.4 798.7,590 799.5,589.9 800.3,590.5 801.1,590.8 801.9,591.1 802.7,590.7 803.5,589.3 804.3,588.7 805.1,589.3 805.9,589.3 806.7,588.9 807.5,589 808.3,589.6 809.1,590.1 809.9,590.8 810.7,591.1 811.5,590.4 812.3,589.9 813.1,589.7 813.9,589.8 814.7,590.5 815.5,590.5 816.3,590.4 817.1,590.7 817.9,590.8 818.7,591 819.5,591.2 820.3,591.4 821.1,591.3 821.9,591 822.7,590.8 823.5,590.1 824.3,590 825.1,590.9 825.9,591.5 826.7,590.9 827.5,591.1 828.3,591.9 829.1,591.6 829.9,591 830.7,590.8 831.5,591.2 832.3,591.6 833.1,591.7 833.9,591.9 834.7,592.1 835.5,592.3 836.3,592.1 837.1,591.9 837.9,592.4 838.7,592.8 839.5,592 840.3,591.2 841.1,591.5 841.9,592.3 842.7,593.2 843.5,592.6 844.3,591.5 845.1,591.9 845.9,592.3 846.7,591.6 847.5,591.5 848.3,591.9 849.1,591.9 849.9,591.8 850.7,591.7 851.5,591.4 852.3,591.4 853.1,591.7 853.9,591.9 854.7,592.1 855.5,592.2 856.3,592.1 857.1,592.2 857.9,592.7 858.7,593.2 859.5,592.9 860.3,592.3 861.1,592.6 861.9,593 862.7,592.8 863.5,592.8 864.3,592.8 865.1,592.5 865.9,592.2 866.7,592.6 867.5,592.6 868.3,592.3 869.1,592.8 869.9,593.6 870.7,593.8 871.5,593.6 872.3,593.4 873.1,592.8 873.9,592 874.7,591.9 875.5,592.7 876.3,593.2 877.1,593.3 877.9,593.6 878.7,593.7 879.5,593 880.3,593.3 881.1,594.3 881.9,594.2 882.7,593 883.5,592.2 884.3,592.5 885.1,593.1 885.9,593.4 886.7,593.6 887.5,593.8 888.3,593.8 889.1,593.2 889.9,593 890.7,593.4 891.5,593.9 892.3,594.1 893.1,594.1 893.9,594.8 894.7,595.7 895.5,594.8 896.3,593.6 897.1,593.5 897.9,593.8 898.7,594.3 899.5,594.6 900.3,594.2 901.1,593.7 901.9,593.9 902.7,594.8 903.5,594.2 904.3,592.8 905.1,593.1 905.9,593.5 906.7,594 907.5,594.5 908.3,593.7 909.1,593.9 909.9,594.9 910.7,594.4 911.5,594.2 912.3,594.5 913.1,594.2 913.9,594.1 914.7,594.7 915.5,594.6 916.3,593.6 917.1,593.4 917.9,594.2 918.7,594.6 919.5,594.3 920.3,594.3 921.1,594.1 921.9,594.4 922.7,594.9 923.5,595.3 924.3,595.9 925.1,595.6 925.9,595.3 926.7,594.7 927.5,593.6 928.3,593.5 929.1,594.1 929.9,594 930.7,594 931.5,594.1 932.3,594.4 933.1,595.2 933.9,595.4 934.7,595.1 935.5,594.8 936.3,594.6 937.1,594.7 937.9,594.9 938.7,595.2 939.5,594.7 940.3,594.7 941.1,595.4 941.9,595.2 942.7,594.7 943.5,594.9 944.3,595 945.1,595.1 945.9,595.4 946.7,595.7 947.5,595.7 948.3,595.6 949.1,595.3 949.9,595.4 950.7,595.6 951.5,595.5 952.3,596.4 953.1,597.2 953.9,596.7 954.7,596.1 955.5,596.4 956.3,596.5 957.1,596.8 957.9,597.1 958.7,596.3 959.5,595.3 960.3,594.3 961.1,594 961.9,595 962.7,595.7 963.5,595.8 964.3,595.1 965.1,594.5 965.9,595.3 966.7,596.4 967.5,596.2 968.3,595.1 969.1,594.5 969.9,594.7 970.7,594.5 971.5,594.3 972.3,595 973.1,595.7 973.9,594.8 974.7,594.2 975.5,594.7 976.3,595.3 977.1,595.5 977.9,595.2 978.7,595 979.5,594.8 980.3,594.9 981.1,595.4 981.9,595.6 982.7,595.6 983.5,595.5 984.3,595.2 985.1,595.4 985.9,595.9 986.7,595.7 987.5,594.8 988.3,595 989.1,595.5 989.9,595.4 990.7,595.6 991.5,596 992.3,595.5 993.1,594.6 993.9,593.9 994.7,594.1 995.5,595.3 996.3,596.2 997.1,596.3 997.9,595.7 998.7,595.3 999.5,595.6 1000.3,595.3 1001.1,595.3 1001.9,595.7 1002.7,596.2 1003.5,596.2 1004.3,595.5 1005.1,595.2 1005.9,595.3 1006.7,595.6 1007.5,596.1 1008.3,596.5 1009.1,597.1 1009.9,597.1 1010.7,595.8 1011.5,595.4 1012.3,595.9 1013.1,596 1013.9,595.3 1014.7,595.5 1015.5,596.6 1016.3,596.2 1017.1,594.7 1017.9,594.7 1018.7,596 1019.5,596.3 1020.3,595.7 1021.1,595.3 1021.9,595.4 1022.7,595 1023.5,595.2 1024.3,596.7 1025.1,596.7 1025.9,595.6 1026.7,595.2 1027.5,596 1028.3,597 1029.1,596.4 1029.9,595.6 1030.7,596.2 1031.5,596.5 1032.3,596.3 1033.1,596 1033.9,595.9 1034.7,596 1035.5,595.6 1036.3,595 1037.1,595.2 1037.9,595.4 1038.7,595.2 1039.5,595.5 1040.3,596 1041.1,596.3 1041.9,596.2 1042.7,595.8 1043.5,595.9 1044.3,596.4 1045.1,596.3 1045.9,595.4 1046.7,594.8 1047.5,594.7 1048.3,594.5 1049.1,595.3 1049.9,596.5 1050.7,597.1 1051.5,597.1 1052.3,596.5 1053.1,596 1053.9,595.7 1054.7,595.8 1055.5,596.3 1056.3,596.7 1057.1,596 1057.9,595.3 1058.7,595.8 1059.5,596.1 1060.3,595.9 1061.1,596.3 1061.9,596.6 1062.7,596.2 1063.5,596.6 1064.3,597.4 1065.1,596.8 1065.9,596.5 1066.7,596.7 1067.5,596.2 1068.3,596 1069.1,595.8 1069.9,595.6 1070.7,596.1 1071.5,596.5 1072.3,596 1073.1,596.1 1073.9,595.8 1074.7,595.6 1075.5,596.4 1076.3,596.3 1077.1,596 1077.9,596 1078.7,595.6 1079.5,595.6 1080.3,595.8 1081.1,595.8 1081.9,596.3 1082.7,596.6 1083.5,595.6 1084.3,595.2 1085.1,595.9 1085.9,596.5 1086.7,596.7"/>
<polyline fill="none" stroke="#00FF00" stroke-width="3" stroke-linejoin="round" points="147.5,480 148.3,479.9 149.1,481 149.9,481.9 150.7,481.5 151.5,480.8 152.3,481 153.1,480.8 153.9,480.2 154.7,480.9 155.5,481.5 156.3,481 157.1,480.8 157.9,480.5 158.7,479.6 159.5,478.8 160.3,478.8 161.1,478.9 161.9,479.1 162.7,479.3 163.5,478.9 164.3,478 165.1,477.5 165.9,477.6 166.7,477.9 167.5,477.6 168.3,476.8 169.1,476.5 169.9,476.3 170.7,476.3 171.5,476.9 172.3,476.3 173.1,475.5 173.9,475.4 174.7,475.1 175.5,474.5 176.3,473.9 177.1,473.8 177.9,474.1 178.7,473.8 179.5,473.1 180.3,473.2 181.1,474.2 181.9,475 182.7,474.9 183.5,474.4 184.3,474.2 185.1,474.6 185.9,474.8 186.7,475.1 187.5,475.6 188.3,476 189.1,476 189.9,475.7 190.7,475.5 191.5,475.6 192.3,475.4 193.1,475.1 193.9,475.1 194.7,474.6 195.5,474.4 196.3,474.9 197.1,475.5 197.9,475.8 198.7,475.8 199.5,476.1 200.3,476.3 201.1,475.8 201.9,475.3 202.7,475 203.5,475.2 204.3,475.1 205.1,474.5 205.9,473.8 206.7,473.5 207.5,473.8 208.3,474.3 209.1,474.2 209.9,473.2 210.7,473 211.5,473.8 212.3,474.3 213.1,473.4 213.9,472.8 214.7,472.6 215.5,472.2 216.3,471.8 217.1,471.8 217.9,472.3 218.7,471.9 219.5,470.7 220.3,470.2 221.1,470.3 221.9,470.2 222.7,470 223.5,470 224.3,469.5 225.1,469 225.9,469.1 226.7,468.8 227.5,467.9 228.3,467.3 229.1,467.1 229.9,466.2 230.7,465.2 231.5,465.2 232.3,464.5 233.1,463.4 233.9,462.4 234.7,461.1 235.5,460.6 236.3,460.7 237.1,460.2 237.9,458.9 238.7,457.5 239.5,456.3 240.3,455.1 241.1,453.7 241.9,452.1 242.7,450.2 243.5,448 244.3,446.1 245.1,444.8 245.9,444.2 246.7,442.6 247.5,439 248.3,435.8 249.1,433.7 249.9,431.1 250.7,428.4 251.5,426.1 252.3,423.2 253.1,419.7 253.9,416.2 254.7,413.1 255.5,409.9 256.3,406.2 257.1,403.4 257.9,401 258.7,399 259.5,397.8 260.3,396.1 261.1,394.9 261.9,395.2 262.7,395.7 263.5,395.2 264.3,394.6 265.1,394.7 265.9,395.2 266.7,396.2 267.5,398.3 268.3,399.3 269.1,399.9 269.9,403.3 270.7,408.4 271.5,412.4 272.3,415.2 273.1,419.4 273.9,424.3 274.7,428.2 275.5,432 276.3,436.2 277.1,440 277.9,443.3 278.7,446.4 279.5,449.8 280.3,453.5 281.1,456.5 281.9,458.6 282.7,460.8 283.5,462.7 284.3,464.6 285.1,466.5 285.9,468.1 286.7,469.2 287.5,470.1 288.3,471.1 289.1,472.3 289.9,473.5 290.7,474.8 291.5,475.8 292.3,475.9 293.1,475.9 293.9,476.3 294.7,476.8 295.5,477.1 296.3,477.4 297.1,478.6 297.9,479.3 298.7,478.8 299.5,478.8 300.3,479.5 301.1,480.4 301.9,480.8 302.7,480.5 303.5,480.3 304.3,480.4 305.1,480.5 305.9,480.8 306.7,481.2 307.5,482.2 308.3,482.7 309.1,482.3 309.9,482.5 310.7,483.3 311.5,483.6 312.3,483.2 313.1,482.4 313.9,482.6 314.7,483.2 315.5,483.7 316.3,484.8 317.1,485.1 317.9,485 318.7,485 319.5,484.7 320.3,485 321.1,484.9 321.9,484.9 322.7,485.6 323.5,485.9 324.3,485.9 325.1,486 325.9,486.5 326.7,486.9 327.5,486.8 328.3,486.8 329.1,487.3 329.9,487.4 330.7,487.2 331.5,487.4 332.3,487.6 333.1,487.9 333.9,488.8 334.7,489.1 335.5,488.4 336.3,488 337.1,487.7 337.9,488.1 338.7,488.8 339.5,488.9 340.3,488.6 341.1,488.3 341.9,488.5 342.7,489.3 343.5,489.5 344.3,489.4 345.1,489.4 345.9,489.5 346.7,490 347.5,490.2 348.3,489.6 349.1,488.7 349.9,488.1 350.7,488.2 351.5,488.8 352.3,488.9 353.1,488 353.9,487.6 354.7,488.2 355.5,488.8 356.3,488.3 357.1,487.4 357.9,487.8 358.7,488.6 359.5,489.1 360.3,490.2 361.1,490.6 361.9,490.1 362.7,490.3 363.5,490.7 364.3,490.4 365.1,490.7 365.9,491.6 366.7,492.4 367.5,492.5 368.3,492.4 369.1,493.1 369.9,493.8 370.7,493.8 371.5,494.3 372.3,495.4 373.1,495.8 373.9,495.2 374.7,494.7 375.5,494.6 376.3,495.3 377.1,496.1 377.9,496.3 378.7,496.4 379.5,496.5 380.3,496.8 381.1,497.3 381.9,496.9 382.7,496.2 383.5,495.9 384.3,495.9 385.1,496.6 385.9,497.2 386.7,497.7 387.5,498.6 388.3,498.9 389.1,499 389.9,499.3 390.7,499.4 391.5,498.8 392.3,498.5 393.1,499.4 393.9,500.1 394.7,499.5 395.5,499.5 396.3,500.3 397.1,500.2 397.9,500.1 398.7,500.7 399.5,500.9 400.3,501 401.1,500.9 401.9,500.4 402.7,500.3 403.5,500.4 404.3,500.1 405.1,500.3 405.9,500.6 406.7,500.3 407.5,500.1 408.3,500.2 409.1,500.4 409.9,500.1 410.7,499.5 411.5,500 412.3,500.5 413.1,499.5 413.9,499.5 414.7,499.8 415.5,499.1 416.3,498.8 417.1,499.5 417.9,499.9 418.7,499.5 419.5,499 420.3,498.6 421.1,497.8 421.9,496.8 422.7,495.9 423.5,495.4 424.3,494.6 425.1,494.1 425.9,493.6 426.7,493.2 427.5,493 428.3,492 429.1,490.6 429.9,490.9 430.7,492.2 431.5,492.6 432.3,493.4 433.1,494.6 433.9,495.5 434.7,496.5 435.5,497.6 436.3,498.5 437.1,499.1 437.9,499.8 438.7,500.8 439.5,500.9 440.3,500.3 441.1,499.9 441.9,499.6 442.7,499.7 443.5,500.5 444.3,501.5 445.1,501.9 445.9,502.1 446.7,502.4 447.5,502.4 448.3,502.1 449.1,501.6 449.9,501.6 450.7,502.3 451.5,502.5 452.3,502.4 453.1,502.3 453.9,502.3 454.7,502.2 455.5,502 456.3,502.3 457.1,502.3 457.9,501.7 458.7,501.9 459.5,502.5 460.3,502.4 461.1,502.1 461.9,501.9 462.7,502.4 463.5,503.1 464.3,503 465.1,502.7 465.9,502.6 466.7,502.3 467.5,501.6 468.3,501.7 469.1,502.3 469.9,502.5 470.7,503.4 471.5,503.4 472.3,502.1 473.1,501.1 473.9,501.5 474.7,502.7 475.5,503.5 476.3,504 477.1,504.2 477.9,504.4 478.7,503.9 479.5,503 480.3,502.8 481.1,502.9 481.9,503 482.7,503.1 483.5,503.6 484.3,504 485.1,503.3 485.9,502.7 486.7,502.9 487.5,503.2 488.3,503.3 489.1,503.4 489.9,503.8 490.7,504.5 491.5,504.4 492.3,504 493.1,504.6 493.9,504.9 494.7,504.1 495.5,503.7 496.3,504 497.1,504.2 497.9,504 498.7,504.2 499.5,504.9 500.3,504.8 501.1,504.3 501.9,504.1 502.7,503.7 503.5,502.9 504.3,502.6 505.1,503.1 505.9,503.9 506.7,503.6 507.5,503.6 508.3,504.5 509.1,504.5 509.9,504.5 510.7,505.1 511.5,505.1 512.3,504.9 513.1,504.4 513.9,503.9 514.7,504.8 515.5,505.7 516.3,504.9 517.1,503.3 517.9,503 518.7,503.8 519.5,504.6 520.3,504.7 521.1,504.6 521.9,503.8 522.7,502.7 523.5,502.1 524.3,502.7 525.1,503.3 525.9,502.5 526.7,502.1 527.5,503.2 528.3,504.7 529.1,505.4 529.9,505.2 530.7,504.4 531.5,503.5 532.3,503.7 533.1,504.4 533.9,504.6 534.7,504.8 535.5,505.6 536.3,506.1 537.1,505.7 537.9,505.5 538.7,505.7 539.5,506.1 540.3,506.1 541.1,506 541.9,506.4 542.7,506.3 543.5,506.1 544.3,506.2 545.1,506.2 545.9,507 546.7,507.6 547.5,507.1 548.3,506.4 549.1,506.5 549.9,507.3 550.7,507 551.5,506.3 552.3,506.5 553.1,506.2 553.9,505.8 554.7,506.1 555.5,506.6 556.3,506.8 557.1,506.1 557.9,505.6 558.7,506 559.5,506.7 560.3,506.9 561.1,506.4 561.9,506 562.7,506 563.5,506.3 564.3,507.1 565.1,508.4 565.9,508.4 566.7,507.2 567.5,507.2 568.3,507.3 569.1,507 569.9,507.1 570.7,507.5 571.5,507.3 572.3,507.2 573.1,507.7 573.9,508 574.7,507.8 575.5,507.7 576.3,508 577.1,508 577.9,507.6 578.7,507.2 579.5,507.3 580.3,507.7 581.1,507.9 581.9,507.8 582.7,508.5 583.5,509.3 584.3,508.4 585.1,507.6 585.9,508.2 586.7,508.2 587.5,507.9 588.3,508.5 589.1,508.7 589.9,508.5 590.7,508.4 591.5,508.5 592.3,508.6 593.1,508.9 593.9,508.7 594.7,508.1 595.5,508.4 596.3,508.7 597.1,508.1 597.9,507.7 598.7,508.2 599.5,508.8 600.3,508.9 601.1,508.7 601.9,508.9 602.7,509.6 603.5,509.8 604.3,509.1 605.1,508.9 605.9,508.6 606.7,508.5 607.5,509.3 608.3,509.8 609.1,509.2 609.9,508.2 610.7,508.2 611.5,508.9 612.3,509.2 613.1,510 613.9,510.3 614.7,509.6 615.5,509.2 616.3,509.2 617.1,509.2 617.9,509.2 618.7,509.4 619.5,509.5 620.3,509.3 621.1,509.1 621.9,509.1 622.7,509.2 623.5,509.5 624.3,510.4 625.1,510.4 625.9,509.1 626.7,508.6 627.5,509.4 628.3,509.8 629.1,510.3 629.9,510.3 630.7,509.4 631.5,509.1 632.3,509.2 633.1,509.7 633.9,509.8 634.7,509.7 635.5,510 636.3,509.7 637.1,509 637.9,509 638.7,509.3 639.5,509.9 640.3,510.1 641.1,509.8 641.9,510.3 642.7,510.8 643.5,510.7 644.3,510.6 645.1,510.4 645.9,510.4 646.7,511 647.5,511.4 648.3,510.9 649.1,510.5 649.9,510.6 650.7,510.4 651.5,510.5 652.3,511 653.1,511.1 653.9,510.7 654.7,510.6 655.5,510.9 656.3,511.3 657.1,511.5 657.9,511.3 658.7,511.6 659.5,511.6 660.3,511.4 661.1,511.7 661.9,511.3 662.7,510.4 663.5,510.4 664.3,510.3 665.1,510.2 665.9,510.2 666.7,510.7 667.5,511.3 668.3,511.5 669.1,511.2 669.9,510.6 670.7,510.5 671.5,510.8 672.3,511.3 673.1,512 673.9,512.9 674.7,512.8 675.5,511.9 676.3,511.1 677.1,510.9 677.9,510.7 678.7,510.8 679.5,511.3 680.3,511.4 681.1,511.3 681.9,511.2 682.7,511.7 683.5,512.1 684.3,511.9 685.1,511.4 685.9,510.8 686.7,510.7 687.5,510.9 688.3,511.2 689.1,511.1 689.9,510.8 690.7,511 691.5,510.7 692.3,510.2 693.1,510.8 693.9,511.2 694.7,511 695.5,511.3 696.3,511.5 697.1,511.2 697.9,510.8 698.7,510.6 699.5,510.5 700.3,509.9 701.1,509.9 701.9,510.4 702.7,510.7 703.5,511.4 704.3,511.5 705.1,511.3 705.9,511.1 706.7,510.6 707.5,510.5 708.3,510.7 709.1,511 709.9,511.5 710.7,511.4 711.5,511.1 712.3,511.2 713.1,511 713.9,510.9 714.7,510.7 715.5,510.2 716.3,509.8 717.1,509.9 717.9,510.5 718.7,510.2 719.5,509.5 720.3,510 721.1,510.7 721.9,510.4 722.7,509.8 723.5,510.3 724.3,510.9 725.1,510.3 725.9,510.4 726.7,510.6 727.5,510.3 728.3,510.4 729.1,510.6 729.9,511.8 730.7,512.3 731.5,511.2 732.3,510.9 733.1,511.3 733.9,511.3 734.7,511.4 735.5,511.1 736.3,510.9 737.1,511.1 737.9,511.6 738.7,512.2 739.5,512.4 740.3,511.9 741.1,511.4 741.9,511.5 742.7,511.7 743.5,512.1 744.3,512.5 745.1,512.5 745.9,512.6 746.7,512.6 747.5,512.6 748.3,512.7 749.1,513.1 749.9,513.1 750.7,512.7 751.5,512.4 752.3,512.4 753.1,513 753.9,513.1 754.7,512.9 755.5,513.5 756.3,513.7 757.1,513.2 757.9,513.3 758.7,513.9 759.5,513.7 760.3,512.9 761.1,513 761.9,513.5 762.7,513.8 763.5,514.1 764.3,514.3 765.1,514.2 765.9,514.5 766.7,515 767.5,514.7 768.3,514.4 769.1,514.3 769.9,513.8 770.7,513.7 771.5,514.3 772.3,514.3 773.1,514.4 773.9,515.3 774.7,515.7 775.5,515.3 776.3,514.9 777.1,514.9 777.9,515.2 778.7,515.3 779.5,514.9 780.3,515.2 781.1,515.3 781.9,515.1 782.7,515.5 783.5,516 784.3,516.7 785.1,516.7 785.9,515.9 786.7,515.4 787.5,515.2 788.3,515.4 789.1,515.5 789.9,515.5 790.7,516.2 791.5,516.5 792.3,516.3 793.1,516.9 793.9,517.4 794.7,517.2 795.5,516.9 796.3,516.3 797.1,516 797.9,516.1 798.7,515.8 799.5,516.3 800.3,516.4 801.1,516.1 801.9,516.3 802.7,516.7 803.5,517.2 804.3,517.2 805.1,516.7 805.9,516.2 806.7,516 807.5,515.7 808.3,515.6 809.1,516.4 809.9,516.4 810.7,515.9 811.5,516.3 812.3,516.2 813.1,515.8 813.9,515.5 814.7,515.9 815.5,516.6 816.3,516.8 817.1,516.7 817.9,516.6 818.7,516.5 819.5,516.1 820.3,515.6 821.1,515.3 821.9,515.9 822.7,516.5 823.5,516.8 824.3,517.5 825.1,517.4 825.9,516.6 826.7,516.1 827.5,516.4 828.3,517.7 829.1,518.2 829.9,517.8 830.7,517.9 831.5,517.5 832.3,517 833.1,517.4 833.9,517.8 834.7,517.5 835.5,516.9 836.3,517.1 837.1,517.9 837.9,517.5 838.7,516.6 839.5,516.2 840.3,516.6 841.1,516.6 841.9,516.5 842.7,517 843.5,517 844.3,517.1 845.1,516.9 845.9,516.6 846.7,517.2 847.5,517.4 848.3,516.6 849.1,516.1 849.9,516.7 850.7,517.3 851.5,517.4 852.3,517.8 853.1,517.9 853.9,517.7 854.7,518.1 855.5,518 856.3,518 857.1,518.6 857.9,518.1 858.7,517.3 859.5,517.4 860.3,517.6 861.1,517.8 861.9,517.8 862.7,518 863.5,518 864.3,517.6 865.1,517.8 865.9,518.2 866.7,517.7 867.5,516.9 868.3,517.1 869.1,518.2 869.9,518.7 870.7,517.8 871.5,517.4 872.3,518.1 873.1,518.3 873.9,518.2 874.7,517.9 875.5,518.1 876.3,518.8 877.1,518.8 877.9,519.2 878.7,519.8 879.5,518.7 880.3,517.6 881.1,518.2 881.9,519.2 882.7,518.8 883.5,518.2 884.3,518.5 885.1,518.9 885.9,519.4 886.7,519.4 887.5,519.2 888.3,518.9 889.1,518.2 889.9,518.1 890.7,518.8 891.5,519.2 892.3,519.1 893.1,519.2 893.9,519 894.7,518.4 895.5,518.3 896.3,518 897.1,518 897.9,518.7 898.7,519.1 899.5,519.3 900.3,519.2 901.1,519.1 901.9,519.6 902.7,519.8 903.5,520.1 904.3,520.1 905.1,519.2 905.9,518.8 906.7,519.4 907.5,520 908.3,519.5 909.1,518.9 909.9,519.3 910.7,519.5 911.5,519.1 912.3,518.5 913.1,518.6 913.9,518.8 914.7,518.7 915.5,519.2 916.3,519.4 917.1,519.4 917.9,519.4 918.7,519.5 919.5,520.5 920.3,521 921.1,519.9 921.9,518.8 922.7,519.1 923.5,519.6 924.3,519.9 925.1,520.3 925.9,520.8 926.7,520.6 927.5,520 928.3,519.4 929.1,519.1 929.9,519.4 930.7,519.8 931.5,520 932.3,519.8 933.1,519.6 933.9,519.6 934.7,519.3 935.5,518.9 936.3,519.2 937.1,520 937.9,520.2 938.7,519.9 939.5,519.8 940.3,520 941.1,520.7 941.9,521.4 942.7,520.6 943.5,519.2 944.3,519 945.1,519.9 945.9,520.5 946.7,520.5 947.5,520.4 948.3,520 949.1,519.8 949.9,519.7 950.7,519.3 951.5,518.9 952.3,518.8 953.1,519.1 953.9,520 954.7,520.2 955.5,519.9 956.3,520.1 957.1,520.3 957.9,520.4 958.7,521.1 959.5,521 960.3,520.1 961.1,520.2 961.9,520.8 962.7,520.9 963.5,520.1 964.3,520.5 965.1,521.7 965.9,521.6 966.7,521.5 967.5,521.6 968.3,521 969.1,519.9 969.9,519.7 970.7,520.1 971.5,520.2 972.3,520 973.1,519.5 973.9,519.7 974.7,520 975.5,519.7 976.3,519.7 977.1,520 977.9,520.1 978.7,519.9 979.5,520.4 980.3,521.5 981.1,522 981.9,521.9 982.7,521.2 983.5,520.6 984.3,520.8 985.1,521.1 985.9,521.3 986.7,521.3 987.5,520.6 988.3,520 989.1,519.8 989.9,520.4 990.7,521.2 991.5,521.2 992.3,521.2 993.1,521.4 993.9,521.1 994.7,520.7 995.5,521 996.3,521.5 997.1,521.9 997.9,521.7 998.7,520.6 999.5,519.9 1000.3,520.5 1001.1,521.1 1001.9,520.4 1002.7,519.6 1003.5,519.6 1004.3,520.1 1005.1,520.8 1005.9,520.6 1006.7,520.7 1007.5,521.6 1008.3,521.9 1009.1,521.4 1009.9,520.4 1010.7,520.1 1011.5,521.2 1012.3,521.9 1013.1,521.2 1013.9,520 1014.7,519.8 1015.5,521 1016.3,520.9 1017.1,520.1 1017.9,520.5 1018.7,520.9 1019.5,521.8 1020.3,522.1 1021.1,521.3 1021.9,520.9 1022.7,520.8 1023.5,520.8 1024.3,521.6 1025.1,522.1 1025.9,521.6 1026.7,521.1 1027.5,521.3 1028.3,521.5 1029.1,521.4 1029.9,521 1030.7,521.4 1031.5,521.9 1032.3,521.6 1033.1,521.4 1033.9,521.2 1034.7,520.7 1035.5,521.1 1036.3,522.2 1037.1,522.2 1037.9,521.7 1038.7,521 1039.5,519.9 1040.3,519.5 1041.1,519.4 1041.9,518.8 1042.7,519.2 1043.5,519.4 1044.3,518.6 1045.1,518.6 1045.9,519.3 1046.7,519.6 1047.5,519.5 1048.3,519.7 1049.1,519.6 1049.9,519.3 1050.7,519.5 1051.5,519.6 1052.3,519.8 1053.1,520.9 1053.9,521.4 1054.7,520.6 1055.5,520.4 1056.3,521.3 1057.1,521.5 1057.9,521.5 1058.7,522 1059.5,522.2 1060.3,521.4 1061.1,520.6 1061.9,521.1 1062.7,521.4 1063.5,520.9 1064.3,521.2 1065.1,521.9 1065.9,521.9 1066.7,521.6 1067.5,522 1068.3,521.8 1069.1,521.3 1069.9,521.2 1070.7,521.1 1071.5,521.4 1072.3,521.7 1073.1,521.2 1073.9,521.3 1074.7,521.7 1075.5,521.7 1076.3,521.7 1077.1,521.9 1077.9,522.1 1078.7,522.2 1079.5,521.9 1080.3,521.6 1081.1,522.1 1081.9,523 1082.7,523 1083.5,522.8 1084.3,523.1 1085.1,522.7 1085.9,522.4 1086.7,522.9"/>
<polyline fill="none" stroke="#FFE600" stroke-width="3" stroke-linejoin="round" points="147.5,412 148.3,410.9 149.1,410.1 149.9,410.8 150.7,410.9 151.5,409.7 152.3,409 153.1,409.3 153.9,409.6 154.7,409.4 155.5,409.6 156.3,409.8 157.1,409.6 157.9,409 158.7,408.1 159.5,408.1 160.3,408.4 161.1,408.3 161.9,408.4 162.7,408.4 163.5,408.2 164.3,408 165.1,407.6 165.9,406.9 166.7,407.1 167.5,407.5 168.3,407.3 169.1,407.2 169.9,406.7 170.7,405.9 171.5,406 172.3,406.1 173.1,405.1 173.9,404.5 174.7,404.9 175.5,405.3 176.3,404.7 177.1,403.9 177.9,404.1 178.7,404.3 179.5,404 180.3,404 181.1,404.3 181.9,404.3 182.7,404.8 183.5,405.4 184.3,404.7 185.1,403.8 185.9,403.7 186.7,403.7 187.5,404 188.3,405.4 189.1,405.8 189.9,405.2 190.7,404.9 191.5,404.5 192.3,403.9 193.1,403.7 193.9,404.6 194.7,405.6 195.5,405.6 196.3,405 197.1,404.7 197.9,405.2 198.7,405.1 199.5,404.2 200.3,403.9 201.1,403.7 201.9,403.2 202.7,402.7 203.5,402.9 204.3,403.4 205.1,403.5 205.9,403.7 206.7,403.6 207.5,402.7 208.3,401.8 209.1,402 209.9,402.4 210.7,401.9 211.5,401.6 212.3,402.5 213.1,402.9 213.9,402.4 214.7,401.7 215.5,400.6 216.3,400.3 217.1,400.8 217.9,400.9 218.7,400.5 219.5,400 220.3,400.1 221.1,400.2 221.9,399.5 222.7,399.2 223.5,399.2 224.3,398.4 225.1,398 225.9,398 226.7,397.1 227.5,395.9 228.3,395.6 229.1,395.8 229.9,395.8 230.7,395 231.5,394.2 232.3,394 233.1,393.6 233.9,393 234.7,392.2 235.5,390.8 236.3,389.3 237.1,388.4 237.9,387.5 238.7,386.3 239.5,385 240.3,383.4 241.1,381.7 241.9,380 242.7,378 243.5,376.4 244.3,375.1 245.1,373.2 245.9,370.9 246.7,368.3 247.5,365.7 248.3,364.1 249.1,362.6 249.9,359.7 250.7,356.8 251.5,354.5 252.3,351.7 253.1,348.6 253.9,345.6 254.7,343.5 255.5,342.3 256.3,340.7 257.1,339 257.9,337.7 258.7,336.3 259.5,335.3 260.3,334.7 261.1,334.5 261.9,334.9 262.7,335.9 263.5,335.9 264.3,335.3 265.1,335.5 265.9,335.7 266.7,335.9 267.5,336.2 268.3,336.5 269.1,337.8 269.9,339.7 270.7,341.8 271.5,345.1 272.3,349.8 273.1,354.9 273.9,359.3 274.7,363 275.5,366.7 276.3,370.7 277.1,375 277.9,378.5 278.7,381.3 279.5,384.5 280.3,388.1 281.1,391.3 281.9,393.2 282.7,395.1 283.5,397.4 284.3,399.2 285.1,400.6 285.9,401.9 286.7,403.5 287.5,404.2 288.3,404.6 289.1,405.2 289.9,405.9 290.7,406.4 291.5,407.2 292.3,407.4 293.1,406.8 293.9,407 294.7,408.1 295.5,409.1 296.3,410 297.1,410.1 297.9,409.7 298.7,410.1 299.5,411.2 300.3,412 301.1,411.8 301.9,411.3 302.7,411.6 303.5,411.5 304.3,411.2 305.1,411.7 305.9,412 306.7,411.7 307.5,411.5 308.3,411.8 309.1,412.1 309.9,412.4 310.7,412.6 311.5,413 312.3,413.6 313.1,413.9 313.9,413.4 314.7,412.8 315.5,413.3 316.3,415.1 317.1,416.2 317.9,414.8 318.7,414.6 319.5,415.8 320.3,416.2 321.1,416.2 321.9,416.1 322.7,416 323.5,415.7 324.3,415.5 325.1,415.8 325.9,416 326.7,415.9 327.5,414.9 328.3,415.1 329.1,416.4 329.9,417.5 330.7,417.9 331.5,417.5 332.3,417.1 333.1,417.4 333.9,417.8 334.7,417.5 335.5,417.9 336.3,417.8 337.1,417 337.9,417.7 338.7,418.5 339.5,418.3 340.3,418 341.1,418.4 341.9,418.8 342.7,419.2 343.5,419 344.3,418.3 345.1,418.1 345.9,418.3 346.7,418.5 347.5,418.3 348.3,418 349.1,418 349.9,418.1 350.7,418.4 351.5,418.4 352.3,417.7 353.1,417.6 353.9,418.1 354.7,418 355.5,417.8 356.3,418.3 357.1,418.5 357.9,418.3 358.7,418.1 359.5,418.5 360.3,419.3 361.1,419.4 361.9,418.9 362.7,418.8 363.5,419.8 364.3,421.2 365.1,421.5 365.9,421.1 366.7,421.5 367.5,421.9 368.3,421.5 369.1,422.1 369.9,423.2 370.7,423.3 371.5,422.5 372.3,422.8 373.1,423.8 373.9,424 374.7,423.8 375.5,424 376.3,424.8 377.1,425.4 377.9,425.2 378.7,424.6 379.5,424.2 380.3,424.1 381.1,424 381.9,424.5 382.7,425 383.5,425.2 384.3,425.3 385.1,425.6 385.9,426.2 386.7,426.8 387.5,427 388.3,426.9 389.1,426.7 389.9,426.8 390.7,426.5 391.5,426 392.3,426.1 393.1,426.8 393.9,427.7 394.7,428 395.5,427.9 396.3,427.7 397.1,427.2 397.9,427.9 398.7,428.9 399.5,428.2 400.3,427.3 401.1,427.9 401.9,429.2 402.7,429.1 403.5,428 404.3,427.1 405.1,426.7 405.9,427.8 406.7,428.4 407.5,427.8 408.3,428.3 409.1,429 409.9,428.9 410.7,428.2 411.5,428.3 412.3,428.8 413.1,428.7 413.9,428.2 414.7,427.7 415.5,427.3 416.3,427.2 417.1,427.2 417.9,427 418.7,426 419.5,424.8 420.3,424.4 421.1,424.9 421.9,424.5 422.7,422.9 423.5,421.5 424.3,420.8 425.1,420.2 425.9,419 426.7,417 427.5,415.1 428.3,414.1 429.1,413.9 429.9,414.2 430.7,414.7 431.5,415.9 432.3,417.6 433.1,418.6 433.9,419.5 434.7,421.1 435.5,422.6 436.3,424.5 437.1,426.1 437.9,426.5 438.7,426.5 439.5,426.6 440.3,427.7 441.1,429.2 441.9,429.1 442.7,428.1 443.5,428.1 444.3,428.9 445.1,429.2 445.9,429.4 446.7,429.3 447.5,428.8 448.3,429.1 449.1,429.9 449.9,430 450.7,429.6 451.5,429.8 452.3,430.2 453.1,430 453.9,429.4 454.7,429.5 455.5,429.9 456.3,430.2 457.1,430.6 457.9,430 458.7,429.9 459.5,431 460.3,431.3 461.1,430.1 461.9,429.1 462.7,429.2 463.5,429.3 464.3,430 465.1,431.1 465.9,431.2 466.7,431 467.5,431 468.3,431 469.1,430.6 469.9,430.8 470.7,431.4 471.5,431.7 472.3,431.7 473.1,431.5 473.9,431.4 474.7,431.7 475.5,432 476.3,432.2 477.1,431.7 477.9,430.9 478.7,430.6 479.5,430.7 480.3,430.9 481.1,430.6 481.9,430.6 482.7,431.6 483.5,431.8 484.3,431.2 485.1,431.5 485.9,431.5 486.7,430.8 487.5,430.8 488.3,431.8 489.1,432.7 489.9,432.6 490.7,432.3 491.5,432 492.3,432.2 493.1,432.1 493.9,431.4 494.7,431.4 495.5,431.4 496.3,431.1 497.1,431.1 497.9,431.2 498.7,431.6 499.5,432.2 500.3,432.4 501.1,432.2 501.9,431.8 502.7,431.4 503.5,431.2 504.3,431.3 505.1,431.5 505.9,431.6 506.7,431.7 507.5,431.3 508.3,431.2 509.1,431.7 509.9,431.3 510.7,430.6 511.5,430.8 512.3,431.3 513.1,431.5 513.9,432 514.7,432 515.5,431.4 516.3,431.5 517.1,431.2 517.9,429.9 518.7,429 519.5,429.4 520.3,429.6 521.1,428.5 521.9,427.6 522.7,427.6 523.5,428.1 524.3,428.6 525.1,428.7 525.9,428.4 526.7,428.2 527.5,428 528.3,428.6 529.1,429.5 529.9,429.7 530.7,429.8 531.5,429.6 532.3,429.8 533.1,430.2 533.9,430.5 534.7,431.5 535.5,432.4 536.3,432.4 537.1,432.8 537.9,433.4 538.7,433 539.5,432.6 540.3,432.9 541.1,433.7 541.9,434.4 542.7,435 543.5,434.4 544.3,433.3 545.1,434 545.9,434.8 546.7,434.3 547.5,433.5 548.3,433.4 549.1,433.7 549.9,433.6 550.7,433.6 551.5,433.8 552.3,433.9 553.1,433.7 553.9,433.9 554.7,434.4 555.5,434.5 556.3,434.4 557.1,434.4 557.9,434.8 558.7,435.1 559.5,435.1 560.3,434.6 561.1,433.1 561.9,433 562.7,434.2 563.5,434.3 564.3,433.9 565.1,433.9 565.9,434.1 566.7,434.8 567.5,435.1 568.3,434.2 569.1,433.7 569.9,434.6 570.7,434.9 571.5,434.3 572.3,433.7 573.1,434.2 573.9,435.1 574.7,435.3 575.5,435.4 576.3,435.4 577.1,435.2 577.9,434.6 578.7,434.3 579.5,434.4 580.3,434 581.1,434.3 581.9,435.6 582.7,436.3 583.5,435.5 584.3,434.4 585.1,434.6 585.9,435.3 586.7,436.1 587.5,437.2 588.3,437.1 589.1,436.5 589.9,436.4 590.7,435.5 591.5,435.4 592.3,436 593.1,435.5 593.9,435.7 594.7,436.5 595.5,436.5 596.3,436.7 597.1,436.6 597.9,436.2 598.7,436.6 599.5,437.1 600.3,436.7 601.1,436.2 601.9,435.9 602.7,435.3 603.5,435.6 604.3,436.5 605.1,437.2 605.9,437 606.7,436 607.5,435.9 608.3,436.2 609.1,436.4 609.9,436.8 610.7,437.2 611.5,437.1 612.3,437.5 613.1,438 613.9,437 614.7,436.8 615.5,437.8 616.3,437.9 617.1,437.9 617.9,437.8 618.7,437.3 619.5,437.4 620.3,438.1 621.1,437.9 621.9,436.9 622.7,436.7 623.5,437.4 624.3,437.5 625.1,437.2 625.9,437.4 626.7,437.5 627.5,437.8 628.3,438.2 629.1,438.1 629.9,437.6 630.7,437.6 631.5,437.5 632.3,437.5 633.1,437.8 633.9,437.7 634.7,437.7 635.5,437.2 636.3,437.2 637.1,438.5 637.9,439.3 638.7,438.5 639.5,437.8 640.3,437.9 641.1,437.9 641.9,437.8 642.7,438.2 643.5,438.7 644.3,438.5 645.1,438.4 645.9,438.8 646.7,438.2 647.5,437.3 648.3,437.7 649.1,438.1 649.9,438.2 650.7,438.2 651.5,438.4 652.3,438.9 653.1,438.9 653.9,438.8 654.7,438.9 655.5,438.5 656.3,438.6 657.1,439.2 657.9,439.2 658.7,439.3 659.5,439.3 660.3,439 661.1,438.7 661.9,438.6 662.7,438.6 663.5,438.3 664.3,438.3 665.1,438.7 665.9,438.9 666.7,439.7 667.5,440.1 668.3,440.1 669.1,440.1 669.9,439.5 670.7,438.6 671.5,438.7 672.3,439.2 673.1,439 673.9,439.1 674.7,439.6 675.5,439.5 676.3,439.1 677.1,439.7 677.9,440.4 678.7,440.7 679.5,440.6 680.3,440.4 681.1,441.1 681.9,441.6 682.7,441.2 683.5,441 684.3,440.4 685.1,439.2 685.9,439.6 686.7,440.3 687.5,440.1 688.3,440.3 689.1,441.1 689.9,441.2 690.7,440.9 691.5,440.9 692.3,441.2 693.1,441.2 693.9,440.6 694.7,440.4 695.5,441.2 696.3,441.7 697.1,441.3 697.9,440.7 698.7,440.8 699.5,441.1 700.3,440.8 701.1,440.6 701.9,441.1 702.7,441.3 703.5,440.8 704.3,440.6 705.1,441.1 705.9,440.9 706.7,440.3 707.5,440.4 708.3,440.8 709.1,441 709.9,441.5 710.7,442.3 711.5,442.4 712.3,442.3 713.1,442.1 713.9,442 714.7,442 715.5,441.3 716.3,440.9 717.1,441.4 717.9,441.9 718.7,442.1 719.5,441.8 720.3,441.8 721.1,441.9 721.9,441.6 722.7,441.7 723.5,441.9 724.3,442.2 725.1,442.3 725.9,442.2 726.7,441.6 727.5,441.5 728.3,442.5 729.1,442.6 729.9,441.6 730.7,441.1 731.5,440.4 732.3,440.3 733.1,441.9 733.9,443.2 734.7,443 735.5,442.7 736.3,442.8 737.1,442.9 737.9,442.5 738.7,442.1 739.5,442.3 740.3,442.8 741.1,442.2 741.9,441.9 742.7,442.7 743.5,443.4 744.3,443.6 745.1,443.3 745.9,442.9 746.7,442.7 747.5,442.6 748.3,442.8 749.1,442.6 749.9,442.4 750.7,442.8 751.5,443.2 752.3,443.5 753.1,444.1 753.9,444.4 754.7,444 755.5,443.9 756.3,443.7 757.1,443.6 757.9,443.6 758.7,443.2 759.5,443.3 760.3,443.4 761.1,442.7 761.9,442.6 762.7,443.1 763.5,443.6 764.3,443.7 765.1,443.5 765.9,444.2 766.7,444.5 767.5,443.7 768.3,443 769.1,443.3 769.9,443.7 770.7,444 771.5,443.9 772.3,443.4 773.1,443.3 773.9,443.8 774.7,443.8 775.5,443.2 776.3,443.2 777.1,443.7 777.9,443.8 778.7,443.9 779.5,444.2 780.3,443.8 781.1,443.5 781.9,443.9 782.7,444.1 783.5,444.7 784.3,444.6 785.1,443.7 785.9,444.3 786.7,445.4 787.5,445.5 788.3,444.7 789.1,444.5 789.9,444.6 790.7,443.8 791.5,443.7 792.3,444.3 793.1,444.4 793.9,444.4 794.7,444.2 795.5,444.5 796.3,445.2 797.1,445.2 797.9,445.1 798.7,444.8 799.5,444.4 800.3,444.2 801.1,444.4 801.9,445 802.7,445.7 803.5,446 804.3,445.5 805.1,445 805.9,445.5 806.7,445.5 807.5,445.1 808.3,445.3 809.1,444.9 809.9,445.1 810.7,446.4 811.5,446.1 812.3,445.3 813.1,445.7 813.9,446.2 814.7,446.1 815.5,445.9 816.3,445.7 817.1,445.2 817.9,444.5 818.7,444.4 819.5,444.7 820.3,444.7 821.1,445.2 821.9,445.6 822.7,446 823.5,445.8 824.3,444.5 825.1,443.4 825.9,443.8 826.7,445.3 827.5,446.1 828.3,445.7 829.1,445.3 829.9,444.5 830.7,443.8 831.5,444.4 832.3,444.4 833.1,444.1 833.9,444.5 834.7,445.3 835.5,445.2 836.3,443.6 837.1,443.1 837.9,443.6 838.7,443.7 839.5,444 840.3,444.1 841.1,443.8 841.9,443.2 842.7,443 843.5,443.4 844.3,443.9 845.1,443.2 845.9,443 846.7,444 847.5,444.4 848.3,444.4 849.1,444.6 849.9,444.9 850.7,445.2 851.5,445.8 852.3,445.9 853.1,444.4 853.9,443.8 854.7,444.6 855.5,445.3 856.3,445.9 857.1,445.9 857.9,445.3 858.7,445 859.5,445.5 860.3,446.5 861.1,446.6 861.9,446.1 862.7,446.2 863.5,446.4 864.3,445.7 865.1,445.5 865.9,446.3 866.7,446.1 867.5,445.7 868.3,445.7 869.1,445.4 869.9,445.4 870.7,445.8 871.5,446 872.3,446.3 873.1,447 873.9,447.2 874.7,446.6 875.5,446.1 876.3,446.3 877.1,446.9 877.9,446.9 878.7,447.1 879.5,447.4 880.3,447 881.1,446.3 881.9,445.4 882.7,445.1 883.5,445.8 884.3,446.1 885.1,445.7 885.9,445.9 886.7,446.5 887.5,446.3 888.3,446 889.1,446 889.9,446.1 890.7,447.1 891.5,447.7 892.3,447.8 893.1,447.1 893.9,446.2 894.7,446.5 895.5,447.1 896.3,447.1 897.1,446.9 897.9,447.3 898.7,447.9 899.5,447.5 900.3,446.9 901.1,446.8 901.9,446.9 902.7,446.5 903.5,446.3 904.3,447.2 905.1,447.9 905.9,447.7 906.7,447.8 907.5,447.7 908.3,447.2 909.1,446.7 909.9,446.5 910.7,447 911.5,447 912.3,446.5 913.1,446.8 913.9,447.2 914.7,447.1 915.5,447.3 916.3,447.3 917.1,447.2 917.9,447.5 918.7,447.5 919.5,447.2 920.3,447.2 921.1,447.4 921.9,447.5 922.7,447.6 923.5,447.4 924.3,447.4 925.1,447.7 925.9,447.4 926.7,447.4 927.5,448 928.3,447.5 929.1,446.5 929.9,446.9 930.7,447.7 931.5,447.3 932.3,446.4 933.1,446.3 933.9,446.9 934.7,447.6 935.5,448 936.3,447.7 937.1,447.2 937.9,447.2 938.7,447.1 939.5,446.7 940.3,447.2 941.1,447.9 941.9,447.7 942.7,447.5 943.5,447.6 944.3,447.6 945.1,447.4 945.9,447.6 946.7,447.7 947.5,446.9 948.3,445.9 949.1,446.1 949.9,446.9 950.7,447.3 951.5,447.4 952.3,447.3 953.1,448 953.9,448.3 954.7,447.7 955.5,447.1 956.3,446.6 957.1,446.5 957.9,446.9 958.7,447.6 959.5,448.1 960.3,448.4 961.1,448.6 961.9,448.3 962.7,447.5 963.5,447.5 964.3,447.9 965.1,447.8 965.9,448.1 966.7,447.7 967.5,447.2 968.3,447.7 969.1,447.8 969.9,446.9 970.7,446.5 971.5,447.5 972.3,448.3 973.1,448.5 973.9,448.1 974.7,447.3 975.5,446.9 976.3,447.7 977.1,448.4 977.9,447.9 978.7,447 979.5,446.2 980.3,446.4 981.1,447.6 981.9,447.8 982.7,447 983.5,447.6 984.3,448.1 985.1,447.8 985.9,448.6 986.7,449.3 987.5,449 988.3,448.7 989.1,448.7 989.9,449 990.7,448.9 991.5,447.7 992.3,446.6 993.1,446.9 993.9,448.2 994.7,448.7 995.5,448.3 996.3,448.4 997.1,448.8 997.9,449.1 998.7,449.1 999.5,448.6 1000.3,448.1 1001.1,448.3 1001.9,448.8 1002.7,449 1003.5,449 1004.3,448.7 1005.1,448.7 1005.9,448.7 1006.7,448.2 1007.5,447.9 1008.3,448.2 1009.1,448.5 1009.9,449.1 1010.7,449.1 1011.5,448.8 1012.3,449.5 1013.1,450.1 1013.9,450.1 1014.7,449.6 1015.5,449.1 1016.3,449 1017.1,448.3 1017.9,448.3 1018.7,448.4 1019.5,448.3 1020.3,449 1021.1,449.3 1021.9,448.3 1022.7,447.5 1023.5,448.1 1024.3,449.1 1025.1,449 1025.9,448.1 1026.7,447.8 1027.5,448.1 1028.3,447.7 1029.1,447.9 1029.9,448.9 1030.7,449 1031.5,448.6 1032.3,448.6 1033.1,449 1033.9,448.9 1034.7,448.2 1035.5,447.7 1036.3,447.8 1037.1,448.1 1037.9,447.5 1038.7,447.1 1039.5,447.5 1040.3,447.4 1041.1,447.3 1041.9,447.4 1042.7,447.1 1043.5,446.6 1044.3,446.3 1045.1,446.4 1045.9,446.6 1046.7,446.4 1047.5,446.2 1048.3,446.2 1049.1,446.4 1049.9,446.8 1050.7,447 1051.5,447.4 1052.3,447.8 1053.1,448.3 1053.9,448.3 1054.7,448.2 1055.5,448.3 1056.3,449 1057.1,449.9 1057.9,449.4 1058.7,449.3 1059.5,449.8 1060.3,449.2 1061.1,448.7 1061.9,449.1 1062.7,449.7 1063.5,449.8 1064.3,450.4 1065.1,450.5 1065.9,450.2 1066.7,450.4 1067.5,450.2 1068.3,449.6 1069.1,449 1069.9,449.1 1070.7,449.4 1071.5,448.9 1072.3,448.6 1073.1,449.1 1073.9,449.5 1074.7,449.5 1075.5,450.5 1076.3,451.5 1077.1,451.4 1077.9,451.3 1078.7,450.6 1079.5,449.8 1080.3,449.8 1081.1,450.1 1081.9,450.7 1082.7,451 1083.5,450.7 1084.3,450.3 1085.1,450.1 1085.9,450.1 1086.7,450.2"/>
<polyline fill="none" stroke="#FF6400" stroke-width="3" stroke-linejoin="round" points="147.5,341 148.3,342 149.1,341.6 149.9,340.5 150.7,340.6 151.5,340.9 152.3,340.7 153.1,340.5 153.9,340.8 154.7,341 155.5,341.3 156.3,341.2 157.1,340.7 157.9,340.5 158.7,340.3 159.5,340 160.3,340.2 161.1,340.5 161.9,340.1 162.7,339.8 163.5,340 164.3,340.8 165.1,341.6 165.9,341.1 166.7,340 167.5,340.1 168.3,340.6 169.1,340.3 169.9,340 170.7,339.9 171.5,340.2 172.3,340.1 173.1,340 173.9,340.6 174.7,341 175.5,340.4 176.3,339.8 177.1,340.2 177.9,340.9 178.7,341.1 179.5,341.1 180.3,340.7 181.1,340.3 181.9,340.3 182.7,340.4 183.5,340.2 184.3,339.8 185.1,339.4 185.9,339.5 186.7,339.5 187.5,339.9 188.3,340.4 189.1,340.1 189.9,339.5 190.7,338.8 191.5,338.2 192.3,338.3 193.1,338.7 193.9,338.5 194.7,338 195.5,338.2 196.3,338.5 197.1,338.3 197.9,338.4 198.7,338.9 199.5,339.2 200.3,339.3 201.1,338.9 201.9,338.3 202.7,338.5 203.5,338.6 204.3,339 205.1,339.4 205.9,338.9 206.7,338.6 207.5,338.4 208.3,338 209.1,337.9 209.9,337.8 210.7,337.3 211.5,336.9 212.3,337 213.1,337 213.9,336.7 214.7,336.2 215.5,335.9 216.3,336.1 217.1,336 217.9,335.5 218.7,335.1 219.5,334.7 220.3,334.8 221.1,334.9 221.9,334.1 222.7,333.5 223.5,333.2 224.3,332.6 225.1,332.4 225.9,332.7 226.7,332.7 227.5,332.5 228.3,331.7 229.1,330.5 229.9,330.1 230.7,329.8 231.5,328.8 232.3,328.7 233.1,329.1 233.9,328.8 234.7,328.3 235.5,327.7 236.3,326.4 237.1,324.5 237.9,323.6 238.7,322.8 239.5,321.1 240.3,320.7 241.1,320.6 241.9,319.5 242.7,318.6 243.5,317.8 244.3,316.6 245.1,315.2 245.9,313.7 246.7,311.9 247.5,310.3 248.3,309.2 249.1,307.2 249.9,305.1 250.7,303.5 251.5,302.1 252.3,301.7 253.1,300.7 253.9,298.1 254.7,295.5 255.5,294 256.3,292.6 257.1,290.9 257.9,289.7 258.7,288.8 259.5,287.8 260.3,287.1 261.1,286.4 261.9,285.7 262.7,285.8 263.5,286.6 264.3,287.4 265.1,287.7 265.9,288.1 266.7,288.9 267.5,289.9 268.3,291.2 269.1,292.2 269.9,293.3 270.7,295.5 271.5,297.6 272.3,299.4 273.1,301.1 273.9,303.2 274.7,305.6 275.5,307.7 276.3,309.8 277.1,311.9 277.9,313.8 278.7,315.4 279.5,317 280.3,318.9 281.1,320.9 281.9,322.5 282.7,324.1 283.5,325.7 284.3,327 285.1,327.9 285.9,329.4 286.7,330.7 287.5,331.5 288.3,332.6 289.1,333.8 289.9,334.8 290.7,336 291.5,336.7 292.3,337.3 293.1,338.3 293.9,339.6 294.7,340.3 295.5,339.8 296.3,340.1 297.1,340.9 297.9,340.9 298.7,341 299.5,341.8 300.3,342.7 301.1,343.1 301.9,343.6 302.7,344.5 303.5,344.5 304.3,344.4 305.1,344.6 305.9,344.3 306.7,344.7 307.5,345.7 308.3,346 309.1,345.6 309.9,345 310.7,345.1 311.5,346.1 312.3,347.4 313.1,347.9 313.9,348 314.7,348.1 315.5,348.2 316.3,347.9 317.1,347.8 317.9,348.2 318.7,348.1 319.5,347.8 320.3,348.2 321.1,348.4 321.9,348.6 322.7,349 323.5,349.2 324.3,349.8 325.1,350.6 325.9,351.2 326.7,351 327.5,350.3 328.3,350.1 329.1,350.2 329.9,350.5 330.7,351.2 331.5,351.4 332.3,351.3 333.1,351.6 333.9,352 334.7,352 335.5,352.2 336.3,352.2 337.1,352.6 337.9,352.9 338.7,352.5 339.5,352.7 340.3,353.2 341.1,353.3 341.9,354 342.7,354.7 343.5,354.2 344.3,353.2 345.1,352.9 345.9,353.1 346.7,353.1 347.5,353.2 348.3,354 349.1,353.9 349.9,353.2 350.7,353.1 351.5,353.7 352.3,354.4 353.1,354.9 353.9,355 354.7,354.9 355.5,355.1 356.3,355.2 357.1,355.3 357.9,355 358.7,354.7 359.5,354.9 360.3,354.8 361.1,355 361.9,355.6 362.7,355.4 363.5,355.1 364.3,355 365.1,354.8 365.9,355.2 366.7,356.2 367.5,356.7 368.3,356.3 369.1,355.8 369.9,355.7 370.7,356 371.5,356.5 372.3,357.2 373.1,357.4 373.9,356.8 374.7,356.7 375.5,356.5 376.3,357 377.1,358.1 377.9,358.5 378.7,358.1 379.5,357.7 380.3,358.4 381.1,358.4 381.9,357.4 382.7,357.4 383.5,358 384.3,358.4 385.1,358.4 385.9,358.1 386.7,358.2 387.5,358.4 388.3,358.3 389.1,358.5 389.9,359 390.7,359.4 391.5,359.7 392.3,359.8 393.1,360 393.9,359.7 394.7,359 395.5,359.2 396.3,359.5 397.1,359.4 397.9,359.6 398.7,359.7 399.5,360.1 400.3,361.1 401.1,361.1 401.9,360.2 402.7,360.3 403.5,360.4 404.3,360 405.1,359.8 405.9,359.9 406.7,359.7 407.5,359.6 408.3,359.9 409.1,360 409.9,359.7 410.7,358.8 411.5,357.8 412.3,357.3 413.1,357.8 413.9,358.3 414.7,358.8 415.5,359 416.3,358.5 417.1,357.9 417.9,356.7 418.7,356 419.5,356.2 420.3,355.5 421.1,353.8 421.9,352 422.7,350.4 423.5,348.9 424.3,346.1 425.1,341.8 425.9,339 426.7,337.7 427.5,335.8 428.3,333.8 429.1,332.6 429.9,333.1 430.7,335.3 431.5,337.4 432.3,339.5 433.1,342.3 433.9,345 434.7,346.5 435.5,348.4 436.3,350.7 437.1,352.7 437.9,354.8 438.7,356.4 439.5,357.2 440.3,357.4 441.1,357.9 441.9,358.2 442.7,357.8 443.5,357.9 444.3,358.4 445.1,359 445.9,359.5 446.7,359.8 447.5,360.4 448.3,360.2 449.1,359.2 449.9,359.6 450.7,361.2 451.5,361.6 452.3,361.2 453.1,360.7 453.9,360.9 454.7,361.4 455.5,361 456.3,360.9 457.1,361.1 457.9,360.9 458.7,360.9 459.5,361.1 460.3,361.6 461.1,362.3 461.9,362.4 462.7,362.1 463.5,361.5 464.3,361.2 465.1,361.1 465.9,361 466.7,361.2 467.5,361 468.3,361.1 469.1,361.9 469.9,362.1 470.7,361.9 471.5,362.3 472.3,363.2 473.1,363.5 473.9,363 474.7,362.7 475.5,362.8 476.3,362.5 477.1,362.4 477.9,362.9 478.7,363 479.5,362.6 480.3,362.2 481.1,362.3 481.9,362.8 482.7,363.1 483.5,362.6 484.3,362.5 485.1,363.5 485.9,363.4 486.7,362.8 487.5,363.1 488.3,362.9 489.1,363 489.9,363.3 490.7,362.5 491.5,361.9 492.3,362.1 493.1,363.2 493.9,364.3 494.7,363.3 495.5,362.4 496.3,363 497.1,363.7 497.9,363.6 498.7,363.4 499.5,363.9 500.3,363.4 501.1,362.5 501.9,362.6 502.7,363.2 503.5,363.1 504.3,362.9 505.1,363.6 505.9,364.6 506.7,364.2 507.5,363 508.3,362.8 509.1,363 509.9,362.1 510.7,361.4 511.5,361.4 512.3,361.3 513.1,361.2 513.9,361.4 514.7,361.3 515.5,361.2 516.3,361.1 517.1,360.2 517.9,359.2 518.7,359.2 519.5,359.1 520.3,358 521.1,357.3 521.9,357.1 522.7,356.3 523.5,355.8 524.3,355.9 525.1,355.7 525.9,355.4 526.7,356 527.5,356.9 528.3,357.2 529.1,357.2 529.9,358.2 530.7,359.4 531.5,359.8 532.3,360.3 533.1,360.8 533.9,361.1 534.7,361.4 535.5,361.7 536.3,362.4 537.1,363.3 537.9,363.7 538.7,364.1 539.5,364.2 540.3,364.1 541.1,363.9 541.9,363.9 542.7,364.8 543.5,365.3 544.3,364.9 545.1,364.5 545.9,364.5 546.7,365 547.5,365.5 548.3,365.5 549.1,365.1 549.9,364.9 550.7,364.9 551.5,364.6 552.3,364.9 553.1,365.5 553.9,364.9 554.7,364.8 555.5,365.7 556.3,365.9 557.1,365.5 557.9,365.1 558.7,365.3 559.5,366.4 560.3,367 561.1,366.4 561.9,365.8 562.7,365.9 563.5,365.5 564.3,364.8 565.1,364.7 565.9,365.1 566.7,365.4 567.5,365.8 568.3,365.7 569.1,365.2 569.9,364.9 570.7,364.9 571.5,365.4 572.3,365.8 573.1,365.8 573.9,365.7 574.7,365.9 575.5,366.3 576.3,366.5 577.1,366.2 577.9,365.6 578.7,365.3 579.5,365.6 580.3,365.7 581.1,365.6 581.9,366.4 582.7,366.5 583.5,366.1 584.3,366.3 585.1,366.3 585.9,366.4 586.7,366.8 587.5,366.9 588.3,366.9 589.1,367 589.9,366.7 590.7,366.9 591.5,366.9 592.3,366.6 593.1,367.4 593.9,367.4 594.7,366.6 595.5,366.9 596.3,367.2 597.1,366.7 597.9,366.5 598.7,367.3 599.5,367.9 600.3,367.5 601.1,366.9 601.9,367 602.7,367.3 603.5,367 604.3,366.4 605.1,366.1 605.9,366.4 606.7,367.6 607.5,368.7 608.3,368.6 609.1,367.7 609.9,367.7 610.7,368.2 611.5,368.6 612.3,368.6 613.1,368.2 613.9,367.9 614.7,368.5 615.5,368.9 616.3,369 617.1,368.8 617.9,368 618.7,367.7 619.5,368.1 620.3,368.3 621.1,368.6 621.9,368.7 622.7,369 623.5,368.8 624.3,368 625.1,368.4 625.9,369.2 626.7,368.4 627.5,367.6 628.3,367.5 629.1,367.7 629.9,368.2 630.7,368.7 631.5,369 632.3,369 633.1,369 633.9,369.3 634.7,369.1 635.5,368.1 636.3,368.1 637.1,368.5 637.9,368.7 638.7,369 639.5,368.7 640.3,368.5 641.1,369.5 641.9,369.9 642.7,369.1 643.5,368.6 644.3,368.9 645.1,369.2 645.9,369.2 646.7,369.3 647.5,369.4 648.3,369.3 649.1,369.4 649.9,369.6 650.7,369.4 651.5,369.1 652.3,369.1 653.1,369.5 653.9,369.7 654.7,369.4 655.5,369.1 656.3,369 657.1,369.5 657.9,370.5 658.7,370.9 659.5,370.5 660.3,369 661.1,368.7 661.9,369.6 662.7,369.8 663.5,369.5 664.3,369.5 665.1,369.1 665.9,369.3 666.7,370.5 667.5,370.5 668.3,370.2 669.1,370.5 669.9,370.4 670.7,370.5 671.5,370.9 672.3,371 673.1,371.1 673.9,371.3 674.7,371.3 675.5,370.9 676.3,370.7 677.1,370.6 677.9,370.5 678.7,369.9 679.5,369.5 680.3,370.1 681.1,370.7 681.9,370.5 682.7,370.8 683.5,371.8 684.3,372.5 685.1,372.6 685.9,372.2 686.7,371.7 687.5,371.2 688.3,370.7 689.1,370.9 689.9,371.4 690.7,371.8 691.5,371.5 692.3,370.9 693.1,371 693.9,371.5 694.7,371.4 695.5,371.3 696.3,371.2 697.1,370.9 697.9,371.1 698.7,370.8 699.5,370.5 700.3,371.3 701.1,371.6 701.9,371 702.7,371.1 703.5,371.5 704.3,371.3 705.1,371.3 705.9,371.6 706.7,372.2 707.5,371.9 708.3,370.9 709.1,371.5 709.9,371.9 710.7,371.4 711.5,372.1 712.3,372.5 713.1,372.1 713.9,371.9 714.7,371.5 715.5,371.2 716.3,371.4 717.1,371.9 717.9,372.3 718.7,372.3 719.5,372.6 720.3,373.2 721.1,373.1 721.9,372.8 722.7,372.4 723.5,371.9 724.3,372.1 725.1,373.2 725.9,373.1 726.7,372 727.5,372.3 728.3,373.2 729.1,373.4 729.9,373.6 730.7,373.6 731.5,373.2 732.3,372.8 733.1,372.3 733.9,372.6 734.7,373.4 735.5,373.6 736.3,373.3 737.1,372.9 737.9,372.8 738.7,372.8 739.5,372.4 740.3,372.4 741.1,372.5 741.9,372.3 742.7,372.4 743.5,372.9 744.3,373.6 745.1,373.7 745.9,373.5 746.7,373.4 747.5,373.2 748.3,372.7 749.1,372.7 749.9,373.2 750.7,373.6 751.5,373.7 752.3,373.3 753.1,373.2 753.9,373.6 754.7,373.2 755.5,372.7 756.3,373.2 757.1,373.5 757.9,373.7 758.7,374 759.5,373.4 760.3,372.8 761.1,373.1 761.9,373.7 762.7,373.6 763.5,372.9 764.3,372.4 765.1,372.6 765.9,373.3 766.7,373.9 767.5,374.5 768.3,374.3 769.1,373.7 769.9,374 770.7,374.7 771.5,374.7 772.3,374.7 773.1,374.8 773.9,374.5 774.7,374.7 775.5,374.9 776.3,373.9 777.1,373.9 777.9,374.5 778.7,374.3 779.5,374.1 780.3,374.2 781.1,374.2 781.9,373.3 782.7,372.9 783.5,373.1 784.3,373.4 785.1,373.9 785.9,374.6 786.7,374.7 787.5,374.2 788.3,374.7 789.1,375.6 789.9,374.9 790.7,374 791.5,374.4 792.3,374.7 793.1,374.6 793.9,374.9 794.7,375.1 795.5,375.1 796.3,375.2 797.1,375.2 797.9,375.3 798.7,374.9 799.5,374 800.3,374.2 801.1,375.1 801.9,374.5 802.7,374.3 803.5,375.3 804.3,375.5 805.1,375.3 805.9,375.3 806.7,374.8 807.5,374.2 808.3,374.6 809.1,375.6 809.9,375.6 810.7,374.9 811.5,374.4 812.3,374.4 813.1,374 813.9,374.4 814.7,375.5 815.5,376.2 816.3,376.1 817.1,375.1 817.9,374.5 818.7,374.8 819.5,375.1 820.3,375.4 821.1,375.9 821.9,376.2 822.7,375.7 823.5,375.2 824.3,375.1 825.1,374.8 825.9,374.5 826.7,374.5 827.5,374.4 828.3,374.4 829.1,374.2 829.9,373.8 830.7,374 831.5,374.3 832.3,373.6 833.1,373.7 833.9,374.2 834.7,374.1 835.5,373.9 836.3,373.4 837.1,373 837.9,372.6 838.7,371.6 839.5,371.1 840.3,371.1 841.1,371.3 841.9,371.2 842.7,370.7 843.5,370.6 844.3,370.9 845.1,370.8 845.9,371.1 846.7,371.8 847.5,371.9 848.3,372.2 849.1,373.1 849.9,373 850.7,372.4 851.5,373.4 852.3,374.7 853.1,374.7 853.9,374.5 854.7,374.8 855.5,374.8 856.3,375.1 857.1,375.3 857.9,375.7 858.7,375.7 859.5,374.6 860.3,374.7 861.1,376.1 861.9,376.8 862.7,377.2 863.5,377.1 864.3,377 865.1,376.8 865.9,375.9 866.7,375.3 867.5,375.8 868.3,376.6 869.1,376.4 869.9,376.3 870.7,376.6 871.5,376.3 872.3,376 873.1,376.3 873.9,376.3 874.7,375.8 875.5,375.9 876.3,376.9 877.1,377 877.9,375.4 878.7,374.8 879.5,375.7 880.3,376.6 881.1,376.7 881.9,376.3 882.7,376.7 883.5,377.3 884.3,377.3 885.1,376.7 885.9,376.4 886.7,376.5 887.5,376.6 888.3,376.5 889.1,376.9 889.9,377.2 890.7,377.1 891.5,377.1 892.3,377.3 893.1,377.2 893.9,376.9 894.7,376.6 895.5,376.9 896.3,377.2 897.1,376.9 897.9,376.7 898.7,377.1 899.5,377.7 900.3,377.4 901.1,376.9 901.9,376.7 902.7,376.9 903.5,377.3 904.3,377.4 905.1,376.9 905.9,377 906.7,377.2 907.5,377.4 908.3,378 909.1,377.8 909.9,377.4 910.7,377.1 911.5,376.9 912.3,377.3 913.1,377.7 913.9,378.2 914.7,378.2 915.5,377.9 916.3,378.2 917.1,377.9 917.9,377.8 918.7,378.5 919.5,378.4 920.3,377.8 921.1,377.6 921.9,377.4 922.7,377.1 923.5,377.5 924.3,377.5 925.1,377.2 925.9,377.4 926.7,377.6 927.5,378 928.3,378.6 929.1,378.4 929.9,378.4 930.7,378.5 931.5,377.8 932.3,378 933.1,378.3 933.9,377.8 934.7,378 935.5,378.6 936.3,379.1 937.1,379.2 937.9,378.3 938.7,377.6 939.5,378.2 940.3,379.2 941.1,378.9 941.9,378.1 942.7,377.6 943.5,377.5 944.3,377.8 945.1,377.6 945.9,377.2 946.7,377.8 947.5,378.2 948.3,377.2 949.1,377.3 949.9,378.7 950.7,378.7 951.5,377.9 952.3,378.2 953.1,379 953.9,379.4 954.7,379.3 955.5,379.3 956.3,379.3 957.1,379 957.9,378.9 958.7,379.2 959.5,379 960.3,378.6 961.1,378.3 961.9,378 962.7,378.2 963.5,378.1 964.3,378.1 965.1,379.2 965.9,380.2 966.7,380.1 967.5,379.3 968.3,378.3 969.1,378 969.9,378.3 970.7,378.6 971.5,379.3 972.3,380.1 973.1,379.9 973.9,379.5 974.7,378.9 975.5,378.6 976.3,379.1 977.1,379.2 977.9,378.8 978.7,378.8 979.5,379.1 980.3,379.2 981.1,379.3 981.9,379.6 982.7,379.3 983.5,379.3 984.3,379.7 985.1,379.5 985.9,378.9 986.7,379 987.5,379.6 988.3,379.7 989.1,379.5 989.9,379.4 990.7,379.1 991.5,378.7 992.3,378.5 993.1,378.5 993.9,379.1 994.7,379.5 995.5,379.3 996.3,379.3 997.1,379.9 997.9,380.5 998.7,379.8 999.5,379.2 1000.3,379.3 1001.1,378.6 1001.9,378.4 1002.7,379.6 1003.5,380.1 1004.3,379.2 1005.1,378.7 1005.9,379.1 1006.7,379.9 1007.5,380.3 1008.3,379.8 1009.1,379.3 1009.9,379.3 1010.7,379.7 1011.5,379.6 1012.3,379.2 1013.1,379.4 1013.9,380.5 1014.7,381 1015.5,379.8 1016.3,378.5 1017.1,378.9 1017.9,379.6 1018.7,379.8 1019.5,380 1020.3,379.9 1021.1,379.9 1021.9,379.9 1022.7,379.4 1023.5,379.1 1024.3,379 1025.1,379 1025.9,379.1 1026.7,379.2 1027.5,379 1028.3,379.3 1029.1,380 1029.9,380.3 1030.7,379.8 1031.5,379 1032.3,378.8 1033.1,379 1033.9,379 1034.7,378.9 1035.5,378.8 1036.3,378.6 1037.1,378.1 1037.9,377.5 1038.7,376.3 1039.5,375 1040.3,375.2 1041.1,375.4 1041.9,374.8 1042.7,374.6 1043.5,374.4 1044.3,374.1 1045.1,373.5 1045.9,373.5 1046.7,374 1047.5,374 1048.3,374.4 1049.1,375.2 1049.9,375.5 1050.7,375.5 1051.5,376 1052.3,377.1 1053.1,377.9 1053.9,378.3 1054.7,378.4 1055.5,378.2 1056.3,378.3 1057.1,378.7 1057.9,379 1058.7,379.2 1059.5,380.3 1060.3,381.1 1061.1,380.3 1061.9,379.9 1062.7,380.2 1063.5,380 1064.3,379.9 1065.1,380.1 1065.9,380.5 1066.7,381 1067.5,380.7 1068.3,380 1069.1,379.9 1069.9,380.2 1070.7,380.5 1071.5,380.9 1072.3,381.7 1073.1,382 1073.9,381.3 1074.7,381.1 1075.5,381.2 1076.3,380.5 1077.1,380.3 1077.9,381 1078.7,380.9 1079.5,380.3 1080.3,380.5 1081.1,380.7 1081.9,380.8 1082.7,380.7 1083.5,380.2 1084.3,380.5 1085.1,381.7 1085.9,381.9 1086.7,381.5"/>
<polyline fill="none" stroke="#FF0000" stroke-width="3" stroke-linejoin="round" points="147.5,274.3 148.3,274.4 149.1,274.8 149.9,275.2 150.7,274.6 151.5,274 152.3,273.9 153.1,274.6 153.9,275.1 154.7,274.4 155.5,273.4 156.3,273.4 157.1,274.1 157.9,274.1 158.7,274.2 159.5,274.3 160.3,273.8 161.1,274.2 161.9,274.5 162.7,273.9 163.5,273.7 164.3,273.6 165.1,273.1 165.9,273.6 166.7,274.8 167.5,274.9 168.3,274 169.1,273.8 169.9,274 170.7,273.7 171.5,273.4 172.3,273.5 173.1,273.3 173.9,273.2 174.7,273.4 175.5,273 176.3,272.5 177.1,273.1 177.9,273.5 178.7,273 179.5,273 180.3,273.9 181.1,273.5 181.9,272.8 182.7,273.5 183.5,273.6 184.3,273.3 185.1,273.7 185.9,273.3 186.7,272.4 187.5,272.4 188.3,273.3 189.1,273.5 189.9,273.2 190.7,273.2 191.5,272.7 192.3,272.4 193.1,272.6 193.9,272.1 194.7,271.3 195.5,270.9 196.3,271.4 197.1,271.8 197.9,270.9 198.7,270.9 199.5,271.9 200.3,271.8 201.1,270.9 201.9,271.2 202.7,271.5 203.5,270.8 204.3,270.8 205.1,270.9 205.9,270.5 206.7,270.2 207.5,269.9 208.3,269.4 209.1,269.5 209.9,269.8 210.7,269.2 211.5,268.9 212.3,268.5 213.1,267.1 213.9,266.8 214.7,267.8 215.5,267.9 216.3,267.2 217.1,266.5 217.9,266.4 218.7,266.3 219.5,265.5 220.3,264.6 221.1,263.7 221.9,262.7 222.7,262.1 223.5,262.4 224.3,263 225.1,263.1 225.9,261.6 226.7,260.8 227.5,260.8 228.3,259.7 229.1,258.9 229.9,258.9 230.7,258.5 231.5,257.6 232.3,256.2 233.1,254.5 233.9,253.3 234.7,252.7 235.5,252 236.3,251.1 237.1,250.1 237.9,248.8 238.7,246.7 239.5,244.7 240.3,243.5 241.1,242.4 241.9,241.2 242.7,239.7 243.5,238.1 244.3,236.1 245.1,233.6 245.9,231.6 246.7,230.4 247.5,228.3 248.3,224.9 249.1,222.3 249.9,220.3 250.7,217.8 251.5,214.9 252.3,212.6 253.1,211.1 253.9,208.9 254.7,205.8 255.5,202.6 256.3,200.2 257.1,199.3 257.9,198.5 258.7,196.5 259.5,194.8 260.3,194.3 261.1,193.4 261.9,191.9 262.7,191.5 263.5,192.4 264.3,193.4 265.1,194.1 265.9,195.6 266.7,196.4 267.5,196.6 268.3,199.2 269.1,202.4 269.9,204 270.7,205.7 271.5,208 272.3,210.1 273.1,212.6 273.9,215.7 274.7,218.7 275.5,221.6 276.3,224 277.1,225.8 277.9,228.4 278.7,231.7 279.5,233.8 280.3,235.3 281.1,238.4 281.9,241.9 282.7,243.6 283.5,245.2 284.3,247.6 285.1,249.2 285.9,250.3 286.7,252.5 287.5,254.8 288.3,255.9 289.1,257.7 289.9,259.6 290.7,260.5 291.5,261.2 292.3,262 293.1,263.5 293.9,265.3 294.7,266.4 295.5,266.9 296.3,267.8 297.1,269.5 297.9,270.5 298.7,270.2 299.5,269.9 300.3,271 301.1,273.3 301.9,274 302.7,273.3 303.5,272.8 304.3,272.7 305.1,273.9 305.9,275.6 306.7,276.2 307.5,276 308.3,275.6 309.1,275.5 309.9,276.4 310.7,277.4 311.5,277.7 312.3,278 313.1,278 313.9,277.7 314.7,277.8 315.5,277.7 316.3,278 317.1,278.5 317.9,278.9 318.7,279.7 319.5,279.6 320.3,278.9 321.1,279 321.9,279.6 322.7,280.6 323.5,280.9 324.3,281.1 325.1,281.6 325.9,281.3 326.7,280.7 327.5,280.4 328.3,280.6 329.1,281.6 329.9,282.1 330.7,282 331.5,282 332.3,282.5 333.1,283 333.9,283.1 334.7,282.9 335.5,282.5 336.3,281.7 337.1,281.4 337.9,282 338.7,282.6 339.5,282.9 340.3,283.3 341.1,282.8 341.9,282.3 342.7,282.9 343.5,283.7 344.3,284.5 345.1,284.2 345.9,283.4 346.7,283.2 347.5,282.8 348.3,282.8 349.1,283.7 349.9,284.2 350.7,284.4 351.5,284.3 352.3,283.9 353.1,284.3 353.9,284.4 354.7,284 355.5,284.4 356.3,284.9 357.1,284.9 357.9,284.5 358.7,284.8 359.5,285.4 360.3,286.4 361.1,286.7 361.9,285.6 362.7,285 363.5,285.2 364.3,285.5 365.1,285.8 365.9,285.3 366.7,285 367.5,285.4 368.3,286 369.1,286.3 369.9,285.7 370.7,285.5 371.5,286.1 372.3,286.1 373.1,285.5 373.9,285.3 374.7,285.5 375.5,285.9 376.3,285.8 377.1,285.6 377.9,285.7 378.7,285.8 379.5,286.3 380.3,286.9 381.1,287.3 381.9,287.6 382.7,286.7 383.5,285.7 384.3,286 385.1,286.5 385.9,286.9 386.7,286.9 387.5,286.5 388.3,286 389.1,286.1 389.9,286.6 390.7,286.7 391.5,287.1 392.3,287.3 393.1,286.3 393.9,286.3 394.7,287.3 395.5,287.1 396.3,286.7 397.1,287.1 397.9,287.3 398.7,287 399.5,287.1 400.3,287.3 401.1,286.9 401.9,286.4 402.7,287 403.5,287.2 404.3,286.8 405.1,286.5 405.9,286.6 406.7,286.8 407.5,286.2 408.3,285.4 409.1,285 409.9,285 410.7,285.1 411.5,284.8 412.3,284.7 413.1,284.3 413.9,283.5 414.7,282.7 415.5,281.7 416.3,280.8 417.1,280.4 417.9,279.7 418.7,278.1 419.5,275.5 420.3,272.6 421.1,269.7 421.9,265.8 422.7,260.7 423.5,255.2 424.3,249.8 425.1,244.3 425.9,238.6 426.7,232.3 427.5,226.4 428.3,222.4 429.1,220.2 429.9,220.7 430.7,223.7 431.5,228.8 432.3,235.6 433.1,242.2 433.9,247.9 434.7,253.9 435.5,259.7 436.3,264.4 437.1,268.6 437.9,272.5 438.7,275.5 439.5,278 440.3,279.9 441.1,280.5 441.9,281.5 442.7,283 443.5,283.9 444.3,284.2 445.1,285 445.9,285.5 446.7,285.3 447.5,285.2 448.3,285 449.1,284.8 449.9,285.9 450.7,287.2 451.5,287.2 452.3,286.5 453.1,286.7 453.9,287.4 454.7,287.2 455.5,286 456.3,285.4 457.1,286.6 457.9,287.6 458.7,287.5 459.5,287.1 460.3,287 461.1,287.2 461.9,287 462.7,287.2 463.5,287.9 464.3,287.9 465.1,287.1 465.9,286.6 466.7,287.2 467.5,288 468.3,288.2 469.1,288.5 469.9,288.9 470.7,288.8 471.5,288.3 472.3,288.4 473.1,288.6 473.9,288 474.7,287.9 475.5,288.9 476.3,289.1 477.1,288.4 477.9,288.5 478.7,288.7 479.5,288.5 480.3,288 481.1,287.6 481.9,287.9 482.7,288.6 483.5,288.9 484.3,288.3 485.1,288 485.9,288.8 486.7,289.4 487.5,289.5 488.3,289.8 489.1,289.3 489.9,288.6 490.7,288.1 491.5,288.3 492.3,288.9 493.1,289.3 493.9,289.2 494.7,288.8 495.5,288.6 496.3,288.3 497.1,288.2 497.9,287.8 498.7,287.6 499.5,288.3 500.3,288.1 501.1,288 501.9,288.1 502.7,287.7 503.5,287 504.3,286.8 505.1,287.8 505.9,288.3 506.7,288.2 507.5,288.6 508.3,288.8 509.1,288 509.9,287.3 510.7,287.2 511.5,286.9 512.3,286.4 513.1,285.9 513.9,284.7 514.7,283 515.5,282.1 516.3,281 517.1,279 517.9,277.4 518.7,276.4 519.5,274.8 520.3,272.5 521.1,270.5 521.9,268.1 522.7,266.3 523.5,265.5 524.3,264 525.1,262.2 525.9,262.2 526.7,263.4 527.5,264.5 528.3,265.7 529.1,267.6 529.9,270.7 530.7,273.4 531.5,274.9 532.3,276.9 533.1,278.2 533.9,279.6 534.7,281.8 535.5,283.1 536.3,284.3 537.1,286.2 537.9,287.4 538.7,287.2 539.5,286.7 540.3,287.1 541.1,288.3 541.9,289.3 542.7,289.6 543.5,289.8 544.3,289.6 545.1,289.2 545.9,289.8 546.7,290.3 547.5,290.4 548.3,290.5 549.1,290.2 549.9,289.5 550.7,289.6 551.5,290.2 552.3,290.4 553.1,290.3 553.9,290.2 554.7,290.9 555.5,291.4 556.3,291.4 557.1,291.3 557.9,291.1 558.7,291.2 559.5,291.6 560.3,291.9 561.1,292 561.9,292.2 562.7,292.8 563.5,293.2 564.3,293 565.1,292.8 565.9,292.3 566.7,292 567.5,292.7 568.3,292.7 569.1,292 569.9,291.7 570.7,291.8 571.5,292.7 572.3,293.5 573.1,292.9 573.9,292.7 574.7,293.2 575.5,293.4 576.3,293.3 577.1,293.3 577.9,293.3 578.7,293 579.5,292.4 580.3,292.6 581.1,293 581.9,293 582.7,292.5 583.5,292.4 584.3,292.8 585.1,292.2 585.9,291.8 586.7,293.1 587.5,294.5 588.3,295.1 589.1,294.3 589.9,293.1 590.7,292.9 591.5,293.3 592.3,293.1 593.1,293.1 593.9,293.7 594.7,294.4 595.5,294.9 596.3,294.9 597.1,294 597.9,293.4 598.7,293.8 599.5,294 600.3,294.3 601.1,294.3 601.9,293.5 602.7,293.4 603.5,293.8 604.3,294.3 605.1,294.8 605.9,294.8 606.7,294.6 607.5,294.1 608.3,294.1 609.1,294.5 609.9,294.7 610.7,294.5 611.5,294.2 612.3,294.4 613.1,294.5 613.9,294.1 614.7,294.3 615.5,295.5 616.3,296.3 617.1,295.4 617.9,294.9 618.7,295.7 619.5,295.5 620.3,294.9 621.1,295.2 621.9,295.8 622.7,295.7 623.5,295.4 624.3,295.6 625.1,295.6 625.9,295.2 626.7,295.3 627.5,295.9 628.3,295.8 629.1,295.3 629.9,295.8 630.7,296.4 631.5,296.6 632.3,296 633.1,294.8 633.9,294.8 634.7,295.6 635.5,295.7 636.3,295.7 637.1,296.3 637.9,296.1 638.7,295 639.5,295.4 640.3,296 641.1,296.1 641.9,297.2 642.7,297.3 643.5,296.2 644.3,296.5 645.1,296.7 645.9,295.5 646.7,295.6 647.5,296.7 648.3,296.4 649.1,296 649.9,297 650.7,297.6 651.5,297.2 652.3,296.6 653.1,295.9 653.9,295.9 654.7,296.9 655.5,297 656.3,296.1 657.1,296 657.9,296.3 658.7,296.6 659.5,297.3 660.3,297.8 661.1,297.8 661.9,297.8 662.7,297.8 663.5,297.8 664.3,297.8 665.1,297.6 665.9,296.9 666.7,296.7 667.5,297.3 668.3,296.9 669.1,297.1 669.9,298 670.7,297.9 671.5,297.8 672.3,298.1 673.1,298.4 673.9,298.4 674.7,297.8 675.5,297.7 676.3,298.2 677.1,298.1 677.9,298 678.7,298.5 679.5,298.7 680.3,298 681.1,297.8 681.9,298.8 682.7,298.5 683.5,297.8 684.3,298.7 685.1,299.6 685.9,299.5 686.7,299.2 687.5,298.5 688.3,297.2 689.1,297.2 689.9,298.7 690.7,299.3 691.5,298.6 692.3,298.6 693.1,299.2 693.9,299.3 694.7,298.9 695.5,298 696.3,297.7 697.1,298.8 697.9,299.2 698.7,299.4 699.5,300 700.3,300 701.1,300.2 701.9,299.9 702.7,299.1 703.5,299.1 704.3,299.3 705.1,299.4 705.9,299.8 706.7,299.9 707.5,299.7 708.3,300 709.1,300.6 709.9,300.4 710.7,299.9 711.5,300.3 712.3,300.8 713.1,300.1 713.9,298.7 714.7,298.1 715.5,298.5 716.3,299.1 717.1,299.3 717.9,299.6 718.7,300.3 719.5,301 720.3,300.9 721.1,300.3 721.9,299.8 722.7,299.4 723.5,299.7 724.3,300.2 725.1,300.8 725.9,300.9 726.7,299.8 727.5,299.8 728.3,300.8 729.1,301.3 729.9,300.8 730.7,299.9 731.5,300.2 732.3,301 733.1,301.5 733.9,301.8 734.7,301.6 735.5,301.1 736.3,301.2 737.1,301.4 737.9,301.1 738.7,301.3 739.5,301.8 740.3,301.6 741.1,301 741.9,300.2 742.7,300.5 743.5,301.5 744.3,301.9 745.1,301.8 745.9,301.5 746.7,301.4 747.5,301.8 748.3,302 749.1,301.3 749.9,301.3 750.7,302.6 751.5,303.5 752.3,303.1 753.1,302.1 753.9,301.8 754.7,302.1 755.5,302.6 756.3,302.7 757.1,302.3 757.9,302.6 758.7,303.2 759.5,303.3 760.3,302.9 761.1,302.3 761.9,301.7 762.7,302.2 763.5,302.6 764.3,302.1 765.1,302.1 765.9,302.5 766.7,302.5 767.5,302.2 768.3,302.6 769.1,303.5 769.9,304.1 770.7,304 771.5,303.8 772.3,303.5 773.1,303.1 773.9,303.5 774.7,303.6 775.5,303.2 776.3,303.1 777.1,303.4 777.9,303.5 778.7,303.1 779.5,303 780.3,304 781.1,304.8 781.9,304.9 782.7,304.4 783.5,303.6 784.3,303.3 785.1,304 785.9,304.6 786.7,304.5 787.5,304.6 788.3,304.5 789.1,303.9 789.9,304.4 790.7,305.1 791.5,304.9 792.3,304.8 793.1,304.5 793.9,303.7 794.7,303.7 795.5,304.4 796.3,305.1 797.1,305.1 797.9,304.5 798.7,304.7 799.5,305.4 800.3,305.3 801.1,304.3 801.9,303.9 802.7,304.3 803.5,304.1 804.3,303.9 805.1,304.7 805.9,305.2 806.7,305.5 807.5,305.6 808.3,304.5 809.1,303.5 809.9,303.9 810.7,304.9 811.5,304.8 812.3,304.2 813.1,303.9 813.9,304.2 814.7,304.8 815.5,305 816.3,304.5 817.1,304.1 817.9,304.2 818.7,304.7 819.5,305 820.3,304.2 821.1,303.8 821.9,304.1 822.7,304.3 823.5,305 824.3,305 825.1,304.1 825.9,303.7 826.7,303.5 827.5,303.1 828.3,303.6 829.1,303.8 829.9,302.9 830.7,301.9 831.5,300.9 832.3,300.2 833.1,300 833.9,299.2 834.7,298.2 835.5,297.4 836.3,296.4 837.1,295 837.9,293.5 838.7,292.6 839.5,292 840.3,291 841.1,289.8 841.9,289.1 842.7,289.3 843.5,289.5 844.3,289.4 845.1,289.6 845.9,290.9 846.7,292.9 847.5,294.2 848.3,294.9 849.1,296.3 849.9,297.7 850.7,298.6 851.5,299.2 852.3,299.5 853.1,300.6 853.9,302.3 854.7,302.6 855.5,302.5 856.3,303.6 857.1,304.9 857.9,305.3 858.7,304.9 859.5,304.8 860.3,304.5 861.1,304.2 861.9,304.8 862.7,305.4 863.5,305.6 864.3,305.7 865.1,305.9 865.9,306.8 866.7,307.7 867.5,307.5 868.3,307.7 869.1,307.5 869.9,306.2 870.7,305.6 871.5,305.8 872.3,306.3 873.1,306.9 873.9,306.5 874.7,306.7 875.5,307.2 876.3,307.1 877.1,307.4 877.9,307.6 878.7,307.5 879.5,308 880.3,308.1 881.1,307.8 881.9,307.3 882.7,307.5 883.5,308.1 884.3,307.7 885.1,307.3 885.9,307.4 886.7,307.7 887.5,307.7 888.3,307.4 889.1,307.7 889.9,307.9 890.7,307.4 891.5,307.2 892.3,307.1 893.1,307.5 893.9,307.7 894.7,307.9 895.5,308.2 896.3,307.9 897.1,308.1 897.9,308.2 898.7,307.8 899.5,307.7 900.3,308.1 901.1,307.9 901.9,307.2 902.7,307.4 903.5,308.1 904.3,308.1 905.1,307.8 905.9,308.2 906.7,308.8 907.5,308.6 908.3,308.1 909.1,307.6 909.9,306.7 910.7,306.8 911.5,307.4 912.3,307.7 913.1,308.1 913.9,308.1 914.7,308.1 915.5,308.4 916.3,308.4 917.1,308.3 917.9,308.5 918.7,308.5 919.5,308.6 920.3,308.8 921.1,308.5 921.9,307.9 922.7,307.7 923.5,308 924.3,308.4 925.1,308 925.9,306.9 926.7,307 927.5,308 928.3,308.2 929.1,308.2 929.9,308.3 930.7,308.5 931.5,308.4 932.3,308.3 933.1,309.1 933.9,309.5 934.7,308.6 935.5,307.6 936.3,307.9 937.1,308.8 937.9,308.9 938.7,307.8 939.5,306.9 940.3,307.6 941.1,308.5 941.9,308.7 942.7,309.1 943.5,309.2 944.3,309.1 945.1,308.5 945.9,308.6 946.7,308.8 947.5,309.3 948.3,310.5 949.1,310.1 949.9,309 950.7,308.8 951.5,308.7 952.3,308.9 953.1,309.4 953.9,309.6 954.7,309.7 955.5,309.4 956.3,309.4 957.1,309.7 957.9,309.5 958.7,309.1 959.5,309.1 960.3,308.8 961.1,308.5 961.9,309 962.7,309 963.5,308.7 964.3,309.3 965.1,309.4 965.9,309 966.7,309.4 967.5,309.8 968.3,309.4 969.1,309 969.9,308.6 970.7,308.6 971.5,309.1 972.3,308.8 973.1,307.7 973.9,307.2 974.7,308 975.5,308.5 976.3,308.6 977.1,308.7 977.9,308.8 978.7,309.2 979.5,309.3 980.3,308.9 981.1,308.7 981.9,308.8 982.7,309 983.5,308.8 984.3,308.7 985.1,308.9 985.9,308.7 986.7,308.6 987.5,308.9 988.3,309.2 989.1,308.8 989.9,308.8 990.7,309.2 991.5,308.9 992.3,308.2 993.1,308.1 993.9,308.7 994.7,309.5 995.5,309.8 996.3,309.1 997.1,308.2 997.9,308.6 998.7,309.5 999.5,309.5 1000.3,309.2 1001.1,309.1 1001.9,308.8 1002.7,308.9 1003.5,308.8 1004.3,308.6 1005.1,308.8 1005.9,308.8 1006.7,308.6 1007.5,308.6 1008.3,309.6 1009.1,309.8 1009.9,309 1010.7,308.5 1011.5,308.7 1012.3,308.8 1013.1,308.2 1013.9,307.8 1014.7,308.5 1015.5,308.8 1016.3,308.3 1017.1,308.5 1017.9,308.9 1018.7,308.5 1019.5,308.1 1020.3,308 1021.1,308 1021.9,308.3 1022.7,308.4 1023.5,308.3 1024.3,308.1 1025.1,307.5 1025.9,307.3 1026.7,307.5 1027.5,307.4 1028.3,307 1029.1,307.1 1029.9,306.9 1030.7,306.3 1031.5,305.6 1032.3,305.4 1033.1,305.2 1033.9,304.6 1034.7,304 1035.5,302.6 1036.3,301.2 1037.1,300.8 1037.9,299.8 1038.7,298.2 1039.5,296.9 1040.3,295.7 1041.1,294.3 1041.9,292.3 1042.7,291.2 1043.5,291 1044.3,290.2 1045.1,289.6 1045.9,289.6 1046.7,289.9 1047.5,290.6 1048.3,291.1 1049.1,292 1049.9,293.8 1050.7,295.6 1051.5,296.9 1052.3,298 1053.1,299.4 1053.9,300.8 1054.7,301.7 1055.5,301.9 1056.3,302.6 1057.1,303.3 1057.9,303.3 1058.7,303.9 1059.5,305.3 1060.3,306.1 1061.1,306 1061.9,305.9 1062.7,306.3 1063.5,307.3 1064.3,308 1065.1,307.7 1065.9,307.6 1066.7,307.6 1067.5,307.8 1068.3,307.8 1069.1,307.2 1069.9,307.4 1070.7,308.1 1071.5,307.8 1072.3,307.8 1073.1,309.2 1073.9,309.7 1074.7,308.8 1075.5,308.7 1076.3,308.8 1077.1,308.2 1077.9,308 1078.7,308.6 1079.5,308.6 1080.3,308.4 1081.1,308.6 1081.9,308.8 1082.7,309 1083.5,308.8 1084.3,308.9 1085.1,309.9 1085.9,310 1086.7,309.4"/>
</g>
<circle cx="260.6" cy="167.2" r="6.9" fill="#000"/>
<rect x="421.5" y="169.3" width="18" height="18" fill="#00A0FF"/>
<rect x="517" y="214" width="18" height="18" fill="#00A0FF"/>
<rect x="834" y="236.6" width="18" height="18" fill="#00A0FF"/>
<rect x="1036.2" y="249.5" width="18" height="18" fill="#00A0FF"/>
<text x="270.6" y="157.2" font-size="28" text-anchor="start" fill="#000" transform="rotate(-90 270.6 157.2)">(002)</text>
<text x="438.6" y="165.3" font-size="28" text-anchor="start" fill="#00A0FF" transform="rotate(-90 438.6 165.3)">(<tspan font-family="Noto Sans CJK SC" font-size="26.4">1</tspan><tspan font-family="Noto Sans CJK SC" font-size="26.4">1</tspan><tspan font-family="Noto Sans CJK SC" font-size="26.4">1</tspan>)</text>
<text x="535.2" y="210.1" font-size="28" text-anchor="start" fill="#00A0FF" transform="rotate(-90 535.2 210.1)">(200)</text>
<text x="851.9" y="229.3" font-size="28" text-anchor="start" fill="#00A0FF" transform="rotate(-90 851.9 229.3)">(220)</text>
<text x="1053.4" y="243.7" font-size="28" text-anchor="start" fill="#00A0FF" transform="rotate(-90 1053.4 243.7)">(3<tspan font-family="Noto Sans CJK SC" font-size="26.4">1</tspan><tspan font-family="Noto Sans CJK SC" font-size="26.4">1</tspan>)</text>
<rect x="146.2" y="82" width="942" height="758.8" fill="none" stroke="#000" stroke-width="3.6" stroke-linejoin="round"/>
<line x1="146.2" y1="840.8" x2="146.2" y2="855.3" stroke="#000" stroke-width="3.4" stroke-linecap="round"/>
<line x1="224.7" y1="840.8" x2="224.7" y2="847.8" stroke="#000" stroke-width="3.4" stroke-linecap="round"/>
<line x1="303.2" y1="840.8" x2="303.2" y2="855.3" stroke="#000" stroke-width="3.4" stroke-linecap="round"/>
<line x1="381.7" y1="840.8" x2="381.7" y2="847.8" stroke="#000" stroke-width="3.4" stroke-linecap="round"/>
<line x1="460.2" y1="840.8" x2="460.2" y2="855.3" stroke="#000" stroke-width="3.4" stroke-linecap="round"/>
<line x1="538.7" y1="840.8" x2="538.7" y2="847.8" stroke="#000" stroke-width="3.4" stroke-linecap="round"/>
<line x1="617.2" y1="840.8" x2="617.2" y2="855.3" stroke="#000" stroke-width="3.4" stroke-linecap="round"/>
<line x1="695.7" y1="840.8" x2="695.7" y2="847.8" stroke="#000" stroke-width="3.4" stroke-linecap="round"/>
<line x1="774.2" y1="840.8" x2="774.2" y2="855.3" stroke="#000" stroke-width="3.4" stroke-linecap="round"/>
<line x1="852.7" y1="840.8" x2="852.7" y2="847.8" stroke="#000" stroke-width="3.4" stroke-linecap="round"/>
<line x1="931.2" y1="840.8" x2="931.2" y2="855.3" stroke="#000" stroke-width="3.4" stroke-linecap="round"/>
<line x1="1009.7" y1="840.8" x2="1009.7" y2="847.8" stroke="#000" stroke-width="3.4" stroke-linecap="round"/>
<line x1="1088.2" y1="840.8" x2="1088.2" y2="855.3" stroke="#000" stroke-width="3.4" stroke-linecap="round"/>
<text x="146.2" y="890.5" font-size="32" text-anchor="middle" fill="#000">20</text>
<text x="303.2" y="890.5" font-size="32" text-anchor="middle" fill="#000">30</text>
<text x="460.2" y="890.5" font-size="32" text-anchor="middle" fill="#000">40</text>
<text x="617.2" y="890.5" font-size="32" text-anchor="middle" fill="#000">50</text>
<text x="774.2" y="890.5" font-size="32" text-anchor="middle" fill="#000">60</text>
<text x="931.2" y="890.5" font-size="32" text-anchor="middle" fill="#000">70</text>
<text x="1088.2" y="890.5" font-size="32" text-anchor="middle" fill="#000">80</text>
<line x1="146.2" y1="829.3" x2="1088.2" y2="829.3" stroke="#00A0FF" stroke-width="3"/>
<line x1="430.6" y1="805.6" x2="430.6" y2="829.3" stroke="#00A0FF" stroke-width="2.6"/>
<rect x="426.3" y="801.6" width="8.6" height="8.6" fill="#00A0FF"/>
<line x1="527.7" y1="807.4" x2="527.7" y2="829.3" stroke="#00A0FF" stroke-width="2.6"/>
<rect x="523.4" y="803.4" width="8.6" height="8.6" fill="#00A0FF"/>
<line x1="843.9" y1="810.7" x2="843.9" y2="829.3" stroke="#00A0FF" stroke-width="2.6"/>
<rect x="839.6" y="806.7" width="8.6" height="8.6" fill="#00A0FF"/>
<line x1="1047.3" y1="811.3" x2="1047.3" y2="829.3" stroke="#00A0FF" stroke-width="2.6"/>
<rect x="1043" y="807.3" width="8.6" height="8.6" fill="#00A0FF"/>
<text x="665.5" y="791.5" font-size="36" text-anchor="start" fill="#000">Ag - JCPDS No. 99-0094</text>
<circle cx="825.8" cy="118" r="7.4" fill="#000"/>
<text x="845.5" y="128.8" font-size="40">g-C<tspan font-size="23" dy="13.2">3</tspan><tspan dy="-13.2">N</tspan><tspan font-size="23" dy="13.2">4</tspan></text>
<rect x="990.3" y="111" width="18.3" height="18" fill="#00A0FF"/>
<text x="1022" y="128.8" font-size="40" text-anchor="start" fill="#00A0FF">Ag</text>
<text x="586.4" y="272.7" font-size="36">Ag<tspan font-size="21" dy="11.8">5.0%</tspan><tspan dy="-10.3" font-size="38" stroke="#000" stroke-width="0.8">@</tspan><tspan dy="-1.5" dx="-2.1">CN</tspan></text>
<text x="586.4" y="344.2" font-size="36">Ag<tspan font-size="21" dy="11.8">4.0%</tspan><tspan dy="-10.3" font-size="38" stroke="#000" stroke-width="0.8">@</tspan><tspan dy="-1.5" dx="-2.1">CN</tspan></text>
<text x="586.4" y="414.5" font-size="36">Ag<tspan font-size="21" dy="11.8">3.0%</tspan><tspan dy="-10.3" font-size="38" stroke="#000" stroke-width="0.8">@</tspan><tspan dy="-1.5" dx="-2.1">CN</tspan></text>
<text x="586.4" y="488.4" font-size="36">Ag<tspan font-size="21" dy="11.8">2.0%</tspan><tspan dy="-10.3" font-size="38" stroke="#000" stroke-width="0.8">@</tspan><tspan dy="-1.5" dx="-2.1">CN</tspan></text>
<text x="586.4" y="561.9" font-size="36">Ag<tspan font-size="21" dy="11.8"><tspan font-family="Noto Sans CJK SC" font-size="19.8">1</tspan>.0%</tspan><tspan dy="-10.3" font-size="38" stroke="#000" stroke-width="0.8">@</tspan><tspan dy="-1.5" dx="-2.1">CN</tspan></text>
<text x="586.4" y="634.6" font-size="36">Ag<tspan font-size="21" dy="11.8">0.5%</tspan><tspan dy="-10.3" font-size="38" stroke="#000" stroke-width="0.8">@</tspan><tspan dy="-1.5" dx="-2.1">CN</tspan></text>
<text x="624.3" y="708.7" font-size="36">g-C<tspan font-size="20.5" dy="10.5">3</tspan><tspan dy="-10.5">N</tspan><tspan font-size="20.5" dy="10.5">4</tspan></text>
<text x="524" y="938.5" font-size="39.5" text-anchor="start" fill="#000">2θ (degree)</text>
<text x="113.4" y="461" font-size="39.5" text-anchor="middle" fill="#000" transform="rotate(-90 113.4 461)">Intensity (a.u.)</text>
<text x="0" y="0" font-size="160" transform="translate(30.95 136.3) scale(0.916 1)">a</text>
<defs><radialGradient id="g_gray" cx="0.35" cy="0.355" r="0.5"><stop offset="0" stop-color="#fff"/><stop offset="0.14" stop-color="#fff" stop-opacity="0.92"/><stop offset="0.46" stop-color="#858585"/><stop offset="1" stop-color="#858585"/></radialGradient><radialGradient id="g_purple" cx="0.35" cy="0.355" r="0.5"><stop offset="0" stop-color="#fff"/><stop offset="0.14" stop-color="#fff" stop-opacity="0.92"/><stop offset="0.46" stop-color="#AA00FF"/><stop offset="1" stop-color="#AA00FF"/></radialGradient><radialGradient id="g_blue" cx="0.35" cy="0.355" r="0.5"><stop offset="0" stop-color="#fff"/><stop offset="0.14" stop-color="#fff" stop-opacity="0.92"/><stop offset="0.46" stop-color="#0080FF"/><stop offset="1" stop-color="#0080FF"/></radialGradient><radialGradient id="g_green" cx="0.35" cy="0.355" r="0.5"><stop offset="0" stop-color="#fff"/><stop offset="0.14" stop-color="#fff" stop-opacity="0.92"/><stop offset="0.46" stop-color="#00FF00"/><stop offset="1" stop-color="#00FF00"/></radialGradient><radialGradient id="g_yellow" cx="0.35" cy="0.355" r="0.5"><stop offset="0" stop-color="#fff"/><stop offset="0.14" stop-color="#fff" stop-opacity="0.92"/><stop offset="0.46" stop-color="#FFE600"/><stop offset="1" stop-color="#FFE600"/></radialGradient><radialGradient id="g_orange" cx="0.35" cy="0.355" r="0.5"><stop offset="0" stop-color="#fff"/><stop offset="0.14" stop-color="#fff" stop-opacity="0.92"/><stop offset="0.46" stop-color="#FF6400"/><stop offset="1" stop-color="#FF6400"/></radialGradient><radialGradient id="g_red" cx="0.35" cy="0.355" r="0.5"><stop offset="0" stop-color="#fff"/><stop offset="0.14" stop-color="#fff" stop-opacity="0.92"/><stop offset="0.46" stop-color="#FF0000"/><stop offset="1" stop-color="#FF0000"/></radialGradient><clipPath id="clipB"><rect x="1333.5" y="82.4" width="938.8" height="755"/></clipPath></defs>
<g clip-path="url(#clipB)">
<polyline fill="none" stroke="#808080" stroke-width="2.6" stroke-linejoin="round" points="1346.7,800 1378.6,794.3 1410.2,790.2 1441.6,787.1 1472.2,783.3 1489.7,782.3 1502.2,781.1 1522.3,778.8 1533.5,776.8 1557.5,774.2 1586.7,771.3 1594.5,770.8 1612.3,768 1628.2,765.8 1646.9,763.8 1667.7,761.4 1679.8,760.4 1697,757.4 1708.1,755.8 1727.7,753.3 1744.4,750.3 1771.7,744.8 1809.1,740.8 1848.1,732.1 1884.8,726.1 1919.6,719.3 1958.2,711.6 1994.6,700.7 2031,688.5 2062.5,673.5 2091.6,651 2117,619.4 2137.7,579.4 2153,537 2165,494 2174,448 2181,400 2185.5,350 2188,305 2189,270 2189.3,211 2189.5,152"/>
<polyline fill="none" stroke="#808080" stroke-width="2.6" stroke-linejoin="round" points="1727.7,753.3 1744.4,750.3 1756.6,741.2 1789.9,735.2 1822.2,728.1 1855,721 1885.9,712.5 1921,703 1950.9,692.9 1980,681.3 2012.8,665.5 2044.3,646.1 2072.9,623.1 2096.4,595.2 2120.7,561.2 2139.4,520.6 2155.1,475.4 2165,428 2171,384 2178,342 2181,275 2184,211 2189.5,152"/>
<circle cx="1346.7" cy="800" r="8.3" fill="url(#g_gray)"/><circle cx="1378.6" cy="794.3" r="8.3" fill="url(#g_gray)"/><circle cx="1410.2" cy="790.2" r="8.3" fill="url(#g_gray)"/><circle cx="1441.6" cy="787.1" r="8.3" fill="url(#g_gray)"/><circle cx="1472.2" cy="783.3" r="8.3" fill="url(#g_gray)"/><circle cx="1489.7" cy="782.3" r="8.3" fill="url(#g_gray)"/><circle cx="1502.2" cy="781.1" r="8.3" fill="url(#g_gray)"/><circle cx="1522.3" cy="778.8" r="8.3" fill="url(#g_gray)"/><circle cx="1533.5" cy="776.8" r="8.3" fill="url(#g_gray)"/><circle cx="1557.5" cy="774.2" r="8.3" fill="url(#g_gray)"/><circle cx="1586.7" cy="771.3" r="8.3" fill="url(#g_gray)"/><circle cx="1594.5" cy="770.8" r="8.3" fill="url(#g_gray)"/><circle cx="1612.3" cy="768" r="8.3" fill="url(#g_gray)"/><circle cx="1628.2" cy="765.8" r="8.3" fill="url(#g_gray)"/><circle cx="1646.9" cy="763.8" r="8.3" fill="url(#g_gray)"/><circle cx="1667.7" cy="761.4" r="8.3" fill="url(#g_gray)"/><circle cx="1679.8" cy="760.4" r="8.3" fill="url(#g_gray)"/><circle cx="1697" cy="757.4" r="8.3" fill="url(#g_gray)"/><circle cx="1708.1" cy="755.8" r="8.3" fill="url(#g_gray)"/><circle cx="1727.7" cy="753.3" r="8.3" fill="url(#g_gray)"/><circle cx="1744.4" cy="750.3" r="8.3" fill="url(#g_gray)"/><circle cx="1771.7" cy="744.8" r="8.3" fill="url(#g_gray)"/><circle cx="1809.1" cy="740.8" r="8.3" fill="url(#g_gray)"/><circle cx="1848.1" cy="732.1" r="8.3" fill="url(#g_gray)"/><circle cx="1884.8" cy="726.1" r="8.3" fill="url(#g_gray)"/><circle cx="1919.6" cy="719.3" r="8.3" fill="url(#g_gray)"/><circle cx="1958.2" cy="711.6" r="8.3" fill="url(#g_gray)"/><circle cx="1994.6" cy="700.7" r="8.3" fill="url(#g_gray)"/><circle cx="2031" cy="688.5" r="8.3" fill="url(#g_gray)"/><circle cx="2062.5" cy="673.5" r="8.3" fill="url(#g_gray)"/><circle cx="2091.6" cy="651" r="8.3" fill="url(#g_gray)"/><circle cx="2117" cy="619.4" r="8.3" fill="url(#g_gray)"/><circle cx="2137.7" cy="579.4" r="8.3" fill="url(#g_gray)"/><circle cx="2153" cy="537" r="8.3" fill="url(#g_gray)"/><circle cx="2165" cy="494" r="8.3" fill="url(#g_gray)"/><circle cx="2174" cy="448" r="8.3" fill="url(#g_gray)"/><circle cx="2181" cy="400" r="8.3" fill="url(#g_gray)"/><circle cx="2185.5" cy="350" r="8.3" fill="url(#g_gray)"/><circle cx="2188" cy="305" r="8.3" fill="url(#g_gray)"/><circle cx="2189" cy="270" r="8.3" fill="url(#g_gray)"/><circle cx="2189.3" cy="211" r="8.3" fill="url(#g_gray)"/><circle cx="2189.5" cy="152" r="8.3" fill="url(#g_gray)"/><circle cx="1756.6" cy="741.2" r="8.3" fill="url(#g_gray)"/><circle cx="1789.9" cy="735.2" r="8.3" fill="url(#g_gray)"/><circle cx="1822.2" cy="728.1" r="8.3" fill="url(#g_gray)"/><circle cx="1855" cy="721" r="8.3" fill="url(#g_gray)"/><circle cx="1885.9" cy="712.5" r="8.3" fill="url(#g_gray)"/><circle cx="1921" cy="703" r="8.3" fill="url(#g_gray)"/><circle cx="1950.9" cy="692.9" r="8.3" fill="url(#g_gray)"/><circle cx="1980" cy="681.3" r="8.3" fill="url(#g_gray)"/><circle cx="2012.8" cy="665.5" r="8.3" fill="url(#g_gray)"/><circle cx="2044.3" cy="646.1" r="8.3" fill="url(#g_gray)"/><circle cx="2072.9" cy="623.1" r="8.3" fill="url(#g_gray)"/><circle cx="2096.4" cy="595.2" r="8.3" fill="url(#g_gray)"/><circle cx="2120.7" cy="561.2" r="8.3" fill="url(#g_gray)"/><circle cx="2139.4" cy="520.6" r="8.3" fill="url(#g_gray)"/><circle cx="2155.1" cy="475.4" r="8.3" fill="url(#g_gray)"/><circle cx="2165" cy="428" r="8.3" fill="url(#g_gray)"/><circle cx="2171" cy="384" r="8.3" fill="url(#g_gray)"/><circle cx="2178" cy="342" r="8.3" fill="url(#g_gray)"/><circle cx="2181" cy="275" r="8.3" fill="url(#g_gray)"/><circle cx="2184" cy="211" r="8.3" fill="url(#g_gray)"/>
<polyline fill="none" stroke="#AA00FF" stroke-width="2.6" stroke-linejoin="round" points="1361.7,825.6 1402.4,823.1 1436,821.4 1468.8,819.6 1500.7,817.9 1531.6,816.2 1560.9,814.5 1568.9,813.6 1591.9,813.3 1613.1,811 1621.6,811 1648.4,808.4 1683.7,805.3 1715,802.3 1747.4,799.9 1781.7,797.2 1813,794.2 1848.4,790.2 1877.7,786.1 1891.8,785.1 1909,782.1 1940,779.5 1980,774 2020,768 2075.8,754 2113.4,740.7 2141.3,720.1 2165.6,686.1 2181.3,627.9 2186,556 2188,481 2189,410 2189.5,340 2189.9,302.5 2190,242"/>
<polyline fill="none" stroke="#AA00FF" stroke-width="2.6" stroke-linejoin="round" points="1960,777 2000,771 2040,764 2090,750 2128,732 2155,705 2175,660 2184,600 2187,530 2188,460 2188.5,390 2189,321 2190,242"/>
<circle cx="1361.7" cy="825.6" r="8.3" fill="url(#g_purple)"/><circle cx="1402.4" cy="823.1" r="8.3" fill="url(#g_purple)"/><circle cx="1436" cy="821.4" r="8.3" fill="url(#g_purple)"/><circle cx="1468.8" cy="819.6" r="8.3" fill="url(#g_purple)"/><circle cx="1500.7" cy="817.9" r="8.3" fill="url(#g_purple)"/><circle cx="1531.6" cy="816.2" r="8.3" fill="url(#g_purple)"/><circle cx="1560.9" cy="814.5" r="8.3" fill="url(#g_purple)"/><circle cx="1568.9" cy="813.6" r="8.3" fill="url(#g_purple)"/><circle cx="1591.9" cy="813.3" r="8.3" fill="url(#g_purple)"/><circle cx="1613.1" cy="811" r="8.3" fill="url(#g_purple)"/><circle cx="1621.6" cy="811" r="8.3" fill="url(#g_purple)"/><circle cx="1648.4" cy="808.4" r="8.3" fill="url(#g_purple)"/><circle cx="1683.7" cy="805.3" r="8.3" fill="url(#g_purple)"/><circle cx="1715" cy="802.3" r="8.3" fill="url(#g_purple)"/><circle cx="1747.4" cy="799.9" r="8.3" fill="url(#g_purple)"/><circle cx="1781.7" cy="797.2" r="8.3" fill="url(#g_purple)"/><circle cx="1813" cy="794.2" r="8.3" fill="url(#g_purple)"/><circle cx="1848.4" cy="790.2" r="8.3" fill="url(#g_purple)"/><circle cx="1877.7" cy="786.1" r="8.3" fill="url(#g_purple)"/><circle cx="1891.8" cy="785.1" r="8.3" fill="url(#g_purple)"/><circle cx="1909" cy="782.1" r="8.3" fill="url(#g_purple)"/><circle cx="1940" cy="779.5" r="8.3" fill="url(#g_purple)"/><circle cx="1980" cy="774" r="8.3" fill="url(#g_purple)"/><circle cx="2020" cy="768" r="8.3" fill="url(#g_purple)"/><circle cx="2075.8" cy="754" r="8.3" fill="url(#g_purple)"/><circle cx="2113.4" cy="740.7" r="8.3" fill="url(#g_purple)"/><circle cx="2141.3" cy="720.1" r="8.3" fill="url(#g_purple)"/><circle cx="2165.6" cy="686.1" r="8.3" fill="url(#g_purple)"/><circle cx="2181.3" cy="627.9" r="8.3" fill="url(#g_purple)"/><circle cx="2186" cy="556" r="8.3" fill="url(#g_purple)"/><circle cx="2188" cy="481" r="8.3" fill="url(#g_purple)"/><circle cx="2189" cy="410" r="8.3" fill="url(#g_purple)"/><circle cx="2189.5" cy="340" r="8.3" fill="url(#g_purple)"/><circle cx="2189.9" cy="302.5" r="8.3" fill="url(#g_purple)"/><circle cx="2190" cy="242" r="8.3" fill="url(#g_purple)"/><circle cx="1960" cy="777" r="8.3" fill="url(#g_purple)"/><circle cx="2000" cy="771" r="8.3" fill="url(#g_purple)"/><circle cx="2040" cy="764" r="8.3" fill="url(#g_purple)"/><circle cx="2090" cy="750" r="8.3" fill="url(#g_purple)"/><circle cx="2128" cy="732" r="8.3" fill="url(#g_purple)"/><circle cx="2155" cy="705" r="8.3" fill="url(#g_purple)"/><circle cx="2175" cy="660" r="8.3" fill="url(#g_purple)"/><circle cx="2184" cy="600" r="8.3" fill="url(#g_purple)"/><circle cx="2187" cy="530" r="8.3" fill="url(#g_purple)"/><circle cx="2188" cy="460" r="8.3" fill="url(#g_purple)"/><circle cx="2188.5" cy="390" r="8.3" fill="url(#g_purple)"/><circle cx="2189" cy="321" r="8.3" fill="url(#g_purple)"/>
<polyline fill="none" stroke="#0080FF" stroke-width="2.6" stroke-linejoin="round" points="1361,825.1 1401.3,822.6 1434.6,820.9 1467.1,819.1 1498.7,817.4 1529.3,815.7 1558.4,814 1566.2,813.1 1589,812.8 1610.1,810.5 1618.6,810.5 1645.4,807.9 1680.7,804.8 1712,801.8 1744.4,799.4 1778.7,796.7 1810,793.7 1845.4,789.7 1874.7,785.6 1888.8,784.6 1906,781.6 1940,777 1975,771 2010,765 2048,758 2085,749 2120,735 2150,712 2170,670 2180,620 2184,579.4 2187,520 2189,443 2191.8,365.5"/>
<polyline fill="none" stroke="#0080FF" stroke-width="2.6" stroke-linejoin="round" points="1960,775 2000,767 2035,759 2070,749 2105,735 2140,710 2153.4,695.8 2170,665 2177.7,652.2 2182.5,579.4 2186,500 2189,430 2191.8,365.5"/>
<circle cx="1361" cy="825.1" r="8.3" fill="url(#g_blue)"/><circle cx="1401.3" cy="822.6" r="8.3" fill="url(#g_blue)"/><circle cx="1434.6" cy="820.9" r="8.3" fill="url(#g_blue)"/><circle cx="1467.1" cy="819.1" r="8.3" fill="url(#g_blue)"/><circle cx="1498.7" cy="817.4" r="8.3" fill="url(#g_blue)"/><circle cx="1529.3" cy="815.7" r="8.3" fill="url(#g_blue)"/><circle cx="1558.4" cy="814" r="8.3" fill="url(#g_blue)"/><circle cx="1566.2" cy="813.1" r="8.3" fill="url(#g_blue)"/><circle cx="1589" cy="812.8" r="8.3" fill="url(#g_blue)"/><circle cx="1610.1" cy="810.5" r="8.3" fill="url(#g_blue)"/><circle cx="1618.6" cy="810.5" r="8.3" fill="url(#g_blue)"/><circle cx="1645.4" cy="807.9" r="8.3" fill="url(#g_blue)"/><circle cx="1680.7" cy="804.8" r="8.3" fill="url(#g_blue)"/><circle cx="1712" cy="801.8" r="8.3" fill="url(#g_blue)"/><circle cx="1744.4" cy="799.4" r="8.3" fill="url(#g_blue)"/><circle cx="1778.7" cy="796.7" r="8.3" fill="url(#g_blue)"/><circle cx="1810" cy="793.7" r="8.3" fill="url(#g_blue)"/><circle cx="1845.4" cy="789.7" r="8.3" fill="url(#g_blue)"/><circle cx="1874.7" cy="785.6" r="8.3" fill="url(#g_blue)"/><circle cx="1888.8" cy="784.6" r="8.3" fill="url(#g_blue)"/><circle cx="1906" cy="781.6" r="8.3" fill="url(#g_blue)"/><circle cx="1940" cy="777" r="8.3" fill="url(#g_blue)"/><circle cx="1975" cy="771" r="8.3" fill="url(#g_blue)"/><circle cx="2010" cy="765" r="8.3" fill="url(#g_blue)"/><circle cx="2048" cy="758" r="8.3" fill="url(#g_blue)"/><circle cx="2085" cy="749" r="8.3" fill="url(#g_blue)"/><circle cx="2120" cy="735" r="8.3" fill="url(#g_blue)"/><circle cx="2150" cy="712" r="8.3" fill="url(#g_blue)"/><circle cx="2170" cy="670" r="8.3" fill="url(#g_blue)"/><circle cx="2180" cy="620" r="8.3" fill="url(#g_blue)"/><circle cx="2184" cy="579.4" r="8.3" fill="url(#g_blue)"/><circle cx="2187" cy="520" r="8.3" fill="url(#g_blue)"/><circle cx="2189" cy="443" r="8.3" fill="url(#g_blue)"/><circle cx="2191.8" cy="365.5" r="8.3" fill="url(#g_blue)"/><circle cx="1960" cy="775" r="8.3" fill="url(#g_blue)"/><circle cx="2000" cy="767" r="8.3" fill="url(#g_blue)"/><circle cx="2035" cy="759" r="8.3" fill="url(#g_blue)"/><circle cx="2070" cy="749" r="8.3" fill="url(#g_blue)"/><circle cx="2105" cy="735" r="8.3" fill="url(#g_blue)"/><circle cx="2140" cy="710" r="8.3" fill="url(#g_blue)"/><circle cx="2153.4" cy="695.8" r="8.3" fill="url(#g_blue)"/><circle cx="2170" cy="665" r="8.3" fill="url(#g_blue)"/><circle cx="2177.7" cy="652.2" r="8.3" fill="url(#g_blue)"/><circle cx="2182.5" cy="579.4" r="8.3" fill="url(#g_blue)"/><circle cx="2186" cy="500" r="8.3" fill="url(#g_blue)"/><circle cx="2189" cy="430" r="8.3" fill="url(#g_blue)"/>
<polyline fill="none" stroke="#00FF00" stroke-width="2.6" stroke-linejoin="round" points="1363,820.6 1404.3,818.1 1438.4,816.4 1471.7,814.6 1504,812.9 1535.4,811.2 1565.2,809.5 1573.2,808.6 1596.6,808.3 1618.1,806 1626.6,806 1653.4,803.4 1688.7,800.3 1720,797.3 1752.4,794.9 1786.7,792.2 1818,789.2 1853.4,785.2 1882.7,781.1 1896.8,780.1 1914,777.1 1930,774 1958.2,767.4 1992.1,758.9 2026.1,751.6 2061.3,741.9 2095.2,728.6 2125.5,709.2 2159.5,678.8 2172,640 2180,603.7 2184,560 2186.7,510 2187,460 2187.3,403.7 2188.2,333.6"/>
<polyline fill="none" stroke="#00FF00" stroke-width="2.6" stroke-linejoin="round" points="1914,777.1 1950,772 1990,764 2025,757 2060,748 2098,735 2135,712 2158,672 2170,625 2178,580 2182,530 2185,470 2186.5,403.6 2188.2,333.6"/>
<circle cx="1363" cy="820.6" r="8.3" fill="url(#g_green)"/><circle cx="1404.3" cy="818.1" r="8.3" fill="url(#g_green)"/><circle cx="1438.4" cy="816.4" r="8.3" fill="url(#g_green)"/><circle cx="1471.7" cy="814.6" r="8.3" fill="url(#g_green)"/><circle cx="1504" cy="812.9" r="8.3" fill="url(#g_green)"/><circle cx="1535.4" cy="811.2" r="8.3" fill="url(#g_green)"/><circle cx="1565.2" cy="809.5" r="8.3" fill="url(#g_green)"/><circle cx="1573.2" cy="808.6" r="8.3" fill="url(#g_green)"/><circle cx="1596.6" cy="808.3" r="8.3" fill="url(#g_green)"/><circle cx="1618.1" cy="806" r="8.3" fill="url(#g_green)"/><circle cx="1626.6" cy="806" r="8.3" fill="url(#g_green)"/><circle cx="1653.4" cy="803.4" r="8.3" fill="url(#g_green)"/><circle cx="1688.7" cy="800.3" r="8.3" fill="url(#g_green)"/><circle cx="1720" cy="797.3" r="8.3" fill="url(#g_green)"/><circle cx="1752.4" cy="794.9" r="8.3" fill="url(#g_green)"/><circle cx="1786.7" cy="792.2" r="8.3" fill="url(#g_green)"/><circle cx="1818" cy="789.2" r="8.3" fill="url(#g_green)"/><circle cx="1853.4" cy="785.2" r="8.3" fill="url(#g_green)"/><circle cx="1882.7" cy="781.1" r="8.3" fill="url(#g_green)"/><circle cx="1896.8" cy="780.1" r="8.3" fill="url(#g_green)"/><circle cx="1914" cy="777.1" r="8.3" fill="url(#g_green)"/><circle cx="1930" cy="774" r="8.3" fill="url(#g_green)"/><circle cx="1958.2" cy="767.4" r="8.3" fill="url(#g_green)"/><circle cx="1992.1" cy="758.9" r="8.3" fill="url(#g_green)"/><circle cx="2026.1" cy="751.6" r="8.3" fill="url(#g_green)"/><circle cx="2061.3" cy="741.9" r="8.3" fill="url(#g_green)"/><circle cx="2095.2" cy="728.6" r="8.3" fill="url(#g_green)"/><circle cx="2125.5" cy="709.2" r="8.3" fill="url(#g_green)"/><circle cx="2159.5" cy="678.8" r="8.3" fill="url(#g_green)"/><circle cx="2172" cy="640" r="8.3" fill="url(#g_green)"/><circle cx="2180" cy="603.7" r="8.3" fill="url(#g_green)"/><circle cx="2184" cy="560" r="8.3" fill="url(#g_green)"/><circle cx="2186.7" cy="510" r="8.3" fill="url(#g_green)"/><circle cx="2187" cy="460" r="8.3" fill="url(#g_green)"/><circle cx="2187.3" cy="403.7" r="8.3" fill="url(#g_green)"/><circle cx="2188.2" cy="333.6" r="8.3" fill="url(#g_green)"/><circle cx="1950" cy="772" r="8.3" fill="url(#g_green)"/><circle cx="1990" cy="764" r="8.3" fill="url(#g_green)"/><circle cx="2025" cy="757" r="8.3" fill="url(#g_green)"/><circle cx="2060" cy="748" r="8.3" fill="url(#g_green)"/><circle cx="2098" cy="735" r="8.3" fill="url(#g_green)"/><circle cx="2135" cy="712" r="8.3" fill="url(#g_green)"/><circle cx="2158" cy="672" r="8.3" fill="url(#g_green)"/><circle cx="2170" cy="625" r="8.3" fill="url(#g_green)"/><circle cx="2178" cy="580" r="8.3" fill="url(#g_green)"/><circle cx="2182" cy="530" r="8.3" fill="url(#g_green)"/><circle cx="2185" cy="470" r="8.3" fill="url(#g_green)"/><circle cx="2186.5" cy="403.6" r="8.3" fill="url(#g_green)"/>
<polyline fill="none" stroke="#FFE600" stroke-width="2.6" stroke-linejoin="round" points="1359.2,823.1 1398.7,820.6 1431.3,818.9 1463.1,817.1 1494,815.4 1524,813.7 1552.4,812 1560.1,811.1 1582.4,810.8 1603.1,808.5 1611.6,808.5 1638.4,805.9 1673.7,802.8 1705,799.8 1737.4,797.4 1771.7,794.7 1803,791.7 1838.4,787.7 1867.7,783.6 1881.8,782.6 1899,779.6 1947.3,774.7 1977.6,769.8 2015.2,763.7 2054,756 2090.4,746.3 2123.1,731.7 2153.4,706 2174,659.4 2183.3,596.4 2185.5,519 2187.5,440 2190,374.5"/>
<polyline fill="none" stroke="#FFE600" stroke-width="2.6" stroke-linejoin="round" points="1966.7,771 2004.3,762.5 2037,755.2 2072.2,745.5 2107.4,731 2139.5,706 2162,659.4 2172.3,596 2179,519 2184,440 2190,374.5"/>
<circle cx="1359.2" cy="823.1" r="8.3" fill="url(#g_yellow)"/><circle cx="1398.7" cy="820.6" r="8.3" fill="url(#g_yellow)"/><circle cx="1431.3" cy="818.9" r="8.3" fill="url(#g_yellow)"/><circle cx="1463.1" cy="817.1" r="8.3" fill="url(#g_yellow)"/><circle cx="1494" cy="815.4" r="8.3" fill="url(#g_yellow)"/><circle cx="1524" cy="813.7" r="8.3" fill="url(#g_yellow)"/><circle cx="1552.4" cy="812" r="8.3" fill="url(#g_yellow)"/><circle cx="1560.1" cy="811.1" r="8.3" fill="url(#g_yellow)"/><circle cx="1582.4" cy="810.8" r="8.3" fill="url(#g_yellow)"/><circle cx="1603.1" cy="808.5" r="8.3" fill="url(#g_yellow)"/><circle cx="1611.6" cy="808.5" r="8.3" fill="url(#g_yellow)"/><circle cx="1638.4" cy="805.9" r="8.3" fill="url(#g_yellow)"/><circle cx="1673.7" cy="802.8" r="8.3" fill="url(#g_yellow)"/><circle cx="1705" cy="799.8" r="8.3" fill="url(#g_yellow)"/><circle cx="1737.4" cy="797.4" r="8.3" fill="url(#g_yellow)"/><circle cx="1771.7" cy="794.7" r="8.3" fill="url(#g_yellow)"/><circle cx="1803" cy="791.7" r="8.3" fill="url(#g_yellow)"/><circle cx="1838.4" cy="787.7" r="8.3" fill="url(#g_yellow)"/><circle cx="1867.7" cy="783.6" r="8.3" fill="url(#g_yellow)"/><circle cx="1881.8" cy="782.6" r="8.3" fill="url(#g_yellow)"/><circle cx="1899" cy="779.6" r="8.3" fill="url(#g_yellow)"/><circle cx="1947.3" cy="774.7" r="8.3" fill="url(#g_yellow)"/><circle cx="1977.6" cy="769.8" r="8.3" fill="url(#g_yellow)"/><circle cx="2015.2" cy="763.7" r="8.3" fill="url(#g_yellow)"/><circle cx="2054" cy="756" r="8.3" fill="url(#g_yellow)"/><circle cx="2090.4" cy="746.3" r="8.3" fill="url(#g_yellow)"/><circle cx="2123.1" cy="731.7" r="8.3" fill="url(#g_yellow)"/><circle cx="2153.4" cy="706" r="8.3" fill="url(#g_yellow)"/><circle cx="2174" cy="659.4" r="8.3" fill="url(#g_yellow)"/><circle cx="2183.3" cy="596.4" r="8.3" fill="url(#g_yellow)"/><circle cx="2185.5" cy="519" r="8.3" fill="url(#g_yellow)"/><circle cx="2187.5" cy="440" r="8.3" fill="url(#g_yellow)"/><circle cx="2190" cy="374.5" r="8.3" fill="url(#g_yellow)"/><circle cx="1966.7" cy="771" r="8.3" fill="url(#g_yellow)"/><circle cx="2004.3" cy="762.5" r="8.3" fill="url(#g_yellow)"/><circle cx="2037" cy="755.2" r="8.3" fill="url(#g_yellow)"/><circle cx="2072.2" cy="745.5" r="8.3" fill="url(#g_yellow)"/><circle cx="2107.4" cy="731" r="8.3" fill="url(#g_yellow)"/><circle cx="2139.5" cy="706" r="8.3" fill="url(#g_yellow)"/><circle cx="2162" cy="659.4" r="8.3" fill="url(#g_yellow)"/><circle cx="2172.3" cy="596" r="8.3" fill="url(#g_yellow)"/><circle cx="2179" cy="519" r="8.3" fill="url(#g_yellow)"/><circle cx="2184" cy="440" r="8.3" fill="url(#g_yellow)"/>
<polyline fill="none" stroke="#FF6400" stroke-width="2.6" stroke-linejoin="round" points="1355.8,808.5 1385,803.4 1415.9,800.5 1446.8,797.4 1474.3,793.1 1484.6,793.1 1504.3,791.9 1514.6,791.4 1535.2,790.2 1549,788.8 1563.6,788 1588.5,785 1620.2,781.9 1646.5,779.6 1656.6,777.6 1675.8,775.6 1686.9,774.5 1706.1,772.5 1719.2,770.5 1740.4,769.5 1764.6,764.4 1804,758.5 1844,753.3 1877.8,749.3 1910,741.5 1943,734 1977.6,727.4 2011.5,718.9 2047.9,705.5 2081.9,688.1 2112.2,659.4 2131.6,632.8 2142,607 2150.6,580.6 2160,545 2168,505 2174,462 2179,418 2182,372 2184,330 2185.6,286.4 2186.5,240 2186.9,193.7 2187.3,145 2187.6,100"/>
<polyline fill="none" stroke="#FF6400" stroke-width="2.6" stroke-linejoin="round" points="1706.1,772.5 1719.2,770.5 1740.4,769.5 1745.5,762.4 1776.8,754.3 1808.1,748.3 1840.4,743.2 1871.7,735.2 1899,728.1 1942.4,718.9 1967.9,710.4 2000.6,699.5 2034.6,683.7 2064.9,663.1 2094,635.7 2120.7,597.6 2139.5,552.7 2151,512 2159,470 2165,428 2169,384 2172,340 2174.5,295 2175.7,255 2176.5,225.8 2178,190 2179.5,161.5 2180.5,120 2181.5,80"/>
<circle cx="1355.8" cy="808.5" r="8.3" fill="url(#g_orange)"/><circle cx="1385" cy="803.4" r="8.3" fill="url(#g_orange)"/><circle cx="1415.9" cy="800.5" r="8.3" fill="url(#g_orange)"/><circle cx="1446.8" cy="797.4" r="8.3" fill="url(#g_orange)"/><circle cx="1474.3" cy="793.1" r="8.3" fill="url(#g_orange)"/><circle cx="1484.6" cy="793.1" r="8.3" fill="url(#g_orange)"/><circle cx="1504.3" cy="791.9" r="8.3" fill="url(#g_orange)"/><circle cx="1514.6" cy="791.4" r="8.3" fill="url(#g_orange)"/><circle cx="1535.2" cy="790.2" r="8.3" fill="url(#g_orange)"/><circle cx="1549" cy="788.8" r="8.3" fill="url(#g_orange)"/><circle cx="1563.6" cy="788" r="8.3" fill="url(#g_orange)"/><circle cx="1588.5" cy="785" r="8.3" fill="url(#g_orange)"/><circle cx="1620.2" cy="781.9" r="8.3" fill="url(#g_orange)"/><circle cx="1646.5" cy="779.6" r="8.3" fill="url(#g_orange)"/><circle cx="1656.6" cy="777.6" r="8.3" fill="url(#g_orange)"/><circle cx="1675.8" cy="775.6" r="8.3" fill="url(#g_orange)"/><circle cx="1686.9" cy="774.5" r="8.3" fill="url(#g_orange)"/><circle cx="1706.1" cy="772.5" r="8.3" fill="url(#g_orange)"/><circle cx="1719.2" cy="770.5" r="8.3" fill="url(#g_orange)"/><circle cx="1740.4" cy="769.5" r="8.3" fill="url(#g_orange)"/><circle cx="1764.6" cy="764.4" r="8.3" fill="url(#g_orange)"/><circle cx="1804" cy="758.5" r="8.3" fill="url(#g_orange)"/><circle cx="1844" cy="753.3" r="8.3" fill="url(#g_orange)"/><circle cx="1877.8" cy="749.3" r="8.3" fill="url(#g_orange)"/><circle cx="1910" cy="741.5" r="8.3" fill="url(#g_orange)"/><circle cx="1943" cy="734" r="8.3" fill="url(#g_orange)"/><circle cx="1977.6" cy="727.4" r="8.3" fill="url(#g_orange)"/><circle cx="2011.5" cy="718.9" r="8.3" fill="url(#g_orange)"/><circle cx="2047.9" cy="705.5" r="8.3" fill="url(#g_orange)"/><circle cx="2081.9" cy="688.1" r="8.3" fill="url(#g_orange)"/><circle cx="2112.2" cy="659.4" r="8.3" fill="url(#g_orange)"/><circle cx="2131.6" cy="632.8" r="8.3" fill="url(#g_orange)"/><circle cx="2142" cy="607" r="8.3" fill="url(#g_orange)"/><circle cx="2150.6" cy="580.6" r="8.3" fill="url(#g_orange)"/><circle cx="2160" cy="545" r="8.3" fill="url(#g_orange)"/><circle cx="2168" cy="505" r="8.3" fill="url(#g_orange)"/><circle cx="2174" cy="462" r="8.3" fill="url(#g_orange)"/><circle cx="2179" cy="418" r="8.3" fill="url(#g_orange)"/><circle cx="2182" cy="372" r="8.3" fill="url(#g_orange)"/><circle cx="2184" cy="330" r="8.3" fill="url(#g_orange)"/><circle cx="2185.6" cy="286.4" r="8.3" fill="url(#g_orange)"/><circle cx="2186.5" cy="240" r="8.3" fill="url(#g_orange)"/><circle cx="2186.9" cy="193.7" r="8.3" fill="url(#g_orange)"/><circle cx="2187.3" cy="145" r="8.3" fill="url(#g_orange)"/><circle cx="2187.6" cy="100" r="8.3" fill="url(#g_orange)"/><circle cx="1745.5" cy="762.4" r="8.3" fill="url(#g_orange)"/><circle cx="1776.8" cy="754.3" r="8.3" fill="url(#g_orange)"/><circle cx="1808.1" cy="748.3" r="8.3" fill="url(#g_orange)"/><circle cx="1840.4" cy="743.2" r="8.3" fill="url(#g_orange)"/><circle cx="1871.7" cy="735.2" r="8.3" fill="url(#g_orange)"/><circle cx="1899" cy="728.1" r="8.3" fill="url(#g_orange)"/><circle cx="1942.4" cy="718.9" r="8.3" fill="url(#g_orange)"/><circle cx="1967.9" cy="710.4" r="8.3" fill="url(#g_orange)"/><circle cx="2000.6" cy="699.5" r="8.3" fill="url(#g_orange)"/><circle cx="2034.6" cy="683.7" r="8.3" fill="url(#g_orange)"/><circle cx="2064.9" cy="663.1" r="8.3" fill="url(#g_orange)"/><circle cx="2094" cy="635.7" r="8.3" fill="url(#g_orange)"/><circle cx="2120.7" cy="597.6" r="8.3" fill="url(#g_orange)"/><circle cx="2139.5" cy="552.7" r="8.3" fill="url(#g_orange)"/><circle cx="2151" cy="512" r="8.3" fill="url(#g_orange)"/><circle cx="2159" cy="470" r="8.3" fill="url(#g_orange)"/><circle cx="2165" cy="428" r="8.3" fill="url(#g_orange)"/><circle cx="2169" cy="384" r="8.3" fill="url(#g_orange)"/><circle cx="2172" cy="340" r="8.3" fill="url(#g_orange)"/><circle cx="2174.5" cy="295" r="8.3" fill="url(#g_orange)"/><circle cx="2175.7" cy="255" r="8.3" fill="url(#g_orange)"/><circle cx="2176.5" cy="225.8" r="8.3" fill="url(#g_orange)"/><circle cx="2178" cy="190" r="8.3" fill="url(#g_orange)"/><circle cx="2179.5" cy="161.5" r="8.3" fill="url(#g_orange)"/><circle cx="2180.5" cy="120" r="8.3" fill="url(#g_orange)"/><circle cx="2181.5" cy="80" r="8.3" fill="url(#g_orange)"/>
<polyline fill="none" stroke="#FF0000" stroke-width="2.6" stroke-dasharray="12 6" stroke-linejoin="round" points="1345.5,813.7 1376.7,809.8 1408.1,807.3 1439,805.1 1470,802.9 1477.7,802.5 1497.4,801.2 1508.6,800 1527.2,798.8 1543,797.4 1556.7,797 1582.1,794.8 1609.9,792.2 1621.1,792.2 1643.4,789.7 1658.6,789.3 1675.8,787.7 1687.9,786.7 1708.1,784.6 1719.2,783.6 1737.4,782.6 1765.7,779.6 1804,776 1829.3,772.5 1866.7,768.5 1889.9,765 1926.1,758.7 1960.6,754 1994.6,746.8 2029.7,737.8 2060.8,726.9 2088.4,712.3 2111.7,692.2 2129.7,664.8 2143,634 2154.7,600 2163.1,566.1 2170.1,530.6 2174.8,489.6 2179.3,447 2180.1,405 2180.9,362.5 2183.5,317 2184.5,272.5 2184.9,228.3 2184.9,185.5 2185.6,139.8 2186.9,94.3 2187.5,50"/>
<polyline fill="none" stroke="#FF0000" stroke-width="2.6" stroke-dasharray="12 6" stroke-linejoin="round" points="1708.1,784.6 1719.2,783.6 1737.4,782.6 1743.8,775.6 1770.7,768.5 1802,762.4 1831.9,758.4 1861.6,754.3 1892.9,748.3 1921.2,743.5 1949.7,736.6 1977.6,729.3 2009.1,719.6 2038.2,706.7 2062.5,692.2 2084.8,675.9 2104.9,655.8 2123.1,629.1 2136.5,598.8 2147.4,564.9 2153.8,531 2158.3,491.7 2162.2,451.8 2164.3,411.6 2167.8,368.8 2168.8,325 2170.8,281.5 2172,237 2173.3,190 2174.5,148 2175.7,108.4 2176.5,65"/>
<circle cx="1345.5" cy="813.7" r="8.3" fill="url(#g_red)"/><circle cx="1376.7" cy="809.8" r="8.3" fill="url(#g_red)"/><circle cx="1408.1" cy="807.3" r="8.3" fill="url(#g_red)"/><circle cx="1439" cy="805.1" r="8.3" fill="url(#g_red)"/><circle cx="1470" cy="802.9" r="8.3" fill="url(#g_red)"/><circle cx="1477.7" cy="802.5" r="8.3" fill="url(#g_red)"/><circle cx="1497.4" cy="801.2" r="8.3" fill="url(#g_red)"/><circle cx="1508.6" cy="800" r="8.3" fill="url(#g_red)"/><circle cx="1527.2" cy="798.8" r="8.3" fill="url(#g_red)"/><circle cx="1543" cy="797.4" r="8.3" fill="url(#g_red)"/><circle cx="1556.7" cy="797" r="8.3" fill="url(#g_red)"/><circle cx="1582.1" cy="794.8" r="8.3" fill="url(#g_red)"/><circle cx="1609.9" cy="792.2" r="8.3" fill="url(#g_red)"/><circle cx="1621.1" cy="792.2" r="8.3" fill="url(#g_red)"/><circle cx="1643.4" cy="789.7" r="8.3" fill="url(#g_red)"/><circle cx="1658.6" cy="789.3" r="8.3" fill="url(#g_red)"/><circle cx="1675.8" cy="787.7" r="8.3" fill="url(#g_red)"/><circle cx="1687.9" cy="786.7" r="8.3" fill="url(#g_red)"/><circle cx="1708.1" cy="784.6" r="8.3" fill="url(#g_red)"/><circle cx="1719.2" cy="783.6" r="8.3" fill="url(#g_red)"/><circle cx="1737.4" cy="782.6" r="8.3" fill="url(#g_red)"/><circle cx="1765.7" cy="779.6" r="8.3" fill="url(#g_red)"/><circle cx="1804" cy="776" r="8.3" fill="url(#g_red)"/><circle cx="1829.3" cy="772.5" r="8.3" fill="url(#g_red)"/><circle cx="1866.7" cy="768.5" r="8.3" fill="url(#g_red)"/><circle cx="1889.9" cy="765" r="8.3" fill="url(#g_red)"/><circle cx="1926.1" cy="758.7" r="8.3" fill="url(#g_red)"/><circle cx="1960.6" cy="754" r="8.3" fill="url(#g_red)"/><circle cx="1994.6" cy="746.8" r="8.3" fill="url(#g_red)"/><circle cx="2029.7" cy="737.8" r="8.3" fill="url(#g_red)"/><circle cx="2060.8" cy="726.9" r="8.3" fill="url(#g_red)"/><circle cx="2088.4" cy="712.3" r="8.3" fill="url(#g_red)"/><circle cx="2111.7" cy="692.2" r="8.3" fill="url(#g_red)"/><circle cx="2129.7" cy="664.8" r="8.3" fill="url(#g_red)"/><circle cx="2143" cy="634" r="8.3" fill="url(#g_red)"/><circle cx="2154.7" cy="600" r="8.3" fill="url(#g_red)"/><circle cx="2163.1" cy="566.1" r="8.3" fill="url(#g_red)"/><circle cx="2170.1" cy="530.6" r="8.3" fill="url(#g_red)"/><circle cx="2174.8" cy="489.6" r="8.3" fill="url(#g_red)"/><circle cx="2179.3" cy="447" r="8.3" fill="url(#g_red)"/><circle cx="2180.1" cy="405" r="8.3" fill="url(#g_red)"/><circle cx="2180.9" cy="362.5" r="8.3" fill="url(#g_red)"/><circle cx="2183.5" cy="317" r="8.3" fill="url(#g_red)"/><circle cx="2184.5" cy="272.5" r="8.3" fill="url(#g_red)"/><circle cx="2184.9" cy="228.3" r="8.3" fill="url(#g_red)"/><circle cx="2184.9" cy="185.5" r="8.3" fill="url(#g_red)"/><circle cx="2185.6" cy="139.8" r="8.3" fill="url(#g_red)"/><circle cx="2186.9" cy="94.3" r="8.3" fill="url(#g_red)"/><circle cx="2187.5" cy="50" r="8.3" fill="url(#g_red)"/><circle cx="1743.8" cy="775.6" r="8.3" fill="url(#g_red)"/><circle cx="1770.7" cy="768.5" r="8.3" fill="url(#g_red)"/><circle cx="1802" cy="762.4" r="8.3" fill="url(#g_red)"/><circle cx="1831.9" cy="758.4" r="8.3" fill="url(#g_red)"/><circle cx="1861.6" cy="754.3" r="8.3" fill="url(#g_red)"/><circle cx="1892.9" cy="748.3" r="8.3" fill="url(#g_red)"/><circle cx="1921.2" cy="743.5" r="8.3" fill="url(#g_red)"/><circle cx="1949.7" cy="736.6" r="8.3" fill="url(#g_red)"/><circle cx="1977.6" cy="729.3" r="8.3" fill="url(#g_red)"/><circle cx="2009.1" cy="719.6" r="8.3" fill="url(#g_red)"/><circle cx="2038.2" cy="706.7" r="8.3" fill="url(#g_red)"/><circle cx="2062.5" cy="692.2" r="8.3" fill="url(#g_red)"/><circle cx="2084.8" cy="675.9" r="8.3" fill="url(#g_red)"/><circle cx="2104.9" cy="655.8" r="8.3" fill="url(#g_red)"/><circle cx="2123.1" cy="629.1" r="8.3" fill="url(#g_red)"/><circle cx="2136.5" cy="598.8" r="8.3" fill="url(#g_red)"/><circle cx="2147.4" cy="564.9" r="8.3" fill="url(#g_red)"/><circle cx="2153.8" cy="531" r="8.3" fill="url(#g_red)"/><circle cx="2158.3" cy="491.7" r="8.3" fill="url(#g_red)"/><circle cx="2162.2" cy="451.8" r="8.3" fill="url(#g_red)"/><circle cx="2164.3" cy="411.6" r="8.3" fill="url(#g_red)"/><circle cx="2167.8" cy="368.8" r="8.3" fill="url(#g_red)"/><circle cx="2168.8" cy="325" r="8.3" fill="url(#g_red)"/><circle cx="2170.8" cy="281.5" r="8.3" fill="url(#g_red)"/><circle cx="2172" cy="237" r="8.3" fill="url(#g_red)"/><circle cx="2173.3" cy="190" r="8.3" fill="url(#g_red)"/><circle cx="2174.5" cy="148" r="8.3" fill="url(#g_red)"/><circle cx="2175.7" cy="108.4" r="8.3" fill="url(#g_red)"/><circle cx="2176.5" cy="65" r="8.3" fill="url(#g_red)"/>
</g>
<line x1="1423.4" y1="128.8" x2="1423.4" y2="554.1" stroke="#000" stroke-width="2.6"/>
<line x1="1418.2" y1="552.8" x2="1949.4" y2="552.8" stroke="#000" stroke-width="2.6"/>
<line x1="1414.9" y1="505.5" x2="1423.4" y2="505.5" stroke="#000" stroke-width="2.4"/>
<text x="1409.5" y="511.7" font-size="22" text-anchor="end" fill="#000">0.00</text>
<line x1="1418.6" y1="458.4" x2="1423.4" y2="458.4" stroke="#000" stroke-width="2.4"/>
<line x1="1414.9" y1="411.3" x2="1423.4" y2="411.3" stroke="#000" stroke-width="2.4"/>
<text x="1409.5" y="417.5" font-size="22" text-anchor="end" fill="#000">0.0<tspan font-family="Noto Sans CJK SC" font-size="20.7">1</tspan></text>
<line x1="1418.6" y1="364.2" x2="1423.4" y2="364.2" stroke="#000" stroke-width="2.4"/>
<line x1="1414.9" y1="317.1" x2="1423.4" y2="317.1" stroke="#000" stroke-width="2.4"/>
<text x="1409.5" y="323.3" font-size="22" text-anchor="end" fill="#000">0.02</text>
<line x1="1418.6" y1="270.1" x2="1423.4" y2="270.1" stroke="#000" stroke-width="2.4"/>
<line x1="1414.9" y1="223" x2="1423.4" y2="223" stroke="#000" stroke-width="2.4"/>
<text x="1409.5" y="229.2" font-size="22" text-anchor="end" fill="#000">0.03</text>
<line x1="1418.6" y1="175.9" x2="1423.4" y2="175.9" stroke="#000" stroke-width="2.4"/>
<line x1="1414.9" y1="128.8" x2="1423.4" y2="128.8" stroke="#000" stroke-width="2.4"/>
<text x="1409.5" y="135" font-size="22" text-anchor="end" fill="#000">0.04</text>
<line x1="1422.9" y1="552.8" x2="1422.9" y2="561.3" stroke="#000" stroke-width="2.4"/>
<line x1="1463.5" y1="552.8" x2="1463.5" y2="557.4" stroke="#000" stroke-width="2.4"/>
<line x1="1487.2" y1="552.8" x2="1487.2" y2="557.4" stroke="#000" stroke-width="2.4"/>
<line x1="1504.1" y1="552.8" x2="1504.1" y2="557.4" stroke="#000" stroke-width="2.4"/>
<line x1="1517.1" y1="552.8" x2="1517.1" y2="557.4" stroke="#000" stroke-width="2.4"/>
<line x1="1527.8" y1="552.8" x2="1527.8" y2="557.4" stroke="#000" stroke-width="2.4"/>
<line x1="1536.8" y1="552.8" x2="1536.8" y2="557.4" stroke="#000" stroke-width="2.4"/>
<line x1="1544.6" y1="552.8" x2="1544.6" y2="557.4" stroke="#000" stroke-width="2.4"/>
<line x1="1551.5" y1="552.8" x2="1551.5" y2="557.4" stroke="#000" stroke-width="2.4"/>
<text x="1422.9" y="582.6" font-size="22" text-anchor="middle" fill="#000"><tspan font-family="Noto Sans CJK SC" font-size="20.7">1</tspan></text>
<line x1="1557.7" y1="552.8" x2="1557.7" y2="561.3" stroke="#000" stroke-width="2.4"/>
<line x1="1598.3" y1="552.8" x2="1598.3" y2="557.4" stroke="#000" stroke-width="2.4"/>
<line x1="1622" y1="552.8" x2="1622" y2="557.4" stroke="#000" stroke-width="2.4"/>
<line x1="1638.9" y1="552.8" x2="1638.9" y2="557.4" stroke="#000" stroke-width="2.4"/>
<line x1="1651.9" y1="552.8" x2="1651.9" y2="557.4" stroke="#000" stroke-width="2.4"/>
<line x1="1662.6" y1="552.8" x2="1662.6" y2="557.4" stroke="#000" stroke-width="2.4"/>
<line x1="1671.6" y1="552.8" x2="1671.6" y2="557.4" stroke="#000" stroke-width="2.4"/>
<line x1="1679.4" y1="552.8" x2="1679.4" y2="557.4" stroke="#000" stroke-width="2.4"/>
<line x1="1686.3" y1="552.8" x2="1686.3" y2="557.4" stroke="#000" stroke-width="2.4"/>
<text x="1557.7" y="582.6" font-size="22" text-anchor="middle" fill="#000"><tspan font-family="Noto Sans CJK SC" font-size="20.7">1</tspan>0</text>
<line x1="1692.5" y1="552.8" x2="1692.5" y2="561.3" stroke="#000" stroke-width="2.4"/>
<line x1="1733.1" y1="552.8" x2="1733.1" y2="557.4" stroke="#000" stroke-width="2.4"/>
<line x1="1756.8" y1="552.8" x2="1756.8" y2="557.4" stroke="#000" stroke-width="2.4"/>
<line x1="1773.7" y1="552.8" x2="1773.7" y2="557.4" stroke="#000" stroke-width="2.4"/>
<line x1="1786.7" y1="552.8" x2="1786.7" y2="557.4" stroke="#000" stroke-width="2.4"/>
<line x1="1797.4" y1="552.8" x2="1797.4" y2="557.4" stroke="#000" stroke-width="2.4"/>
<line x1="1806.4" y1="552.8" x2="1806.4" y2="557.4" stroke="#000" stroke-width="2.4"/>
<line x1="1814.2" y1="552.8" x2="1814.2" y2="557.4" stroke="#000" stroke-width="2.4"/>
<line x1="1821.1" y1="552.8" x2="1821.1" y2="557.4" stroke="#000" stroke-width="2.4"/>
<text x="1692.5" y="582.6" font-size="22" text-anchor="middle" fill="#000"><tspan font-family="Noto Sans CJK SC" font-size="20.7">1</tspan>00</text>
<line x1="1827.3" y1="552.8" x2="1827.3" y2="561.3" stroke="#000" stroke-width="2.4"/>
<line x1="1867.9" y1="552.8" x2="1867.9" y2="557.4" stroke="#000" stroke-width="2.4"/>
<line x1="1891.6" y1="552.8" x2="1891.6" y2="557.4" stroke="#000" stroke-width="2.4"/>
<line x1="1908.5" y1="552.8" x2="1908.5" y2="557.4" stroke="#000" stroke-width="2.4"/>
<line x1="1921.5" y1="552.8" x2="1921.5" y2="557.4" stroke="#000" stroke-width="2.4"/>
<line x1="1932.2" y1="552.8" x2="1932.2" y2="557.4" stroke="#000" stroke-width="2.4"/>
<line x1="1941.2" y1="552.8" x2="1941.2" y2="557.4" stroke="#000" stroke-width="2.4"/>
<line x1="1949" y1="552.8" x2="1949" y2="557.4" stroke="#000" stroke-width="2.4"/>
<text x="1827.3" y="582.6" font-size="22" text-anchor="middle" fill="#000"><tspan font-family="Noto Sans CJK SC" font-size="20.7">1</tspan>000</text>
<text x="1356.5" y="341" font-size="26" text-anchor="middle" fill="#000" transform="rotate(-90 1356.5 341)">dV/dD</text>
<text x="1566.5" y="623.7" font-size="26.2" text-anchor="start" fill="#000">Pore diameter (nm)</text>
<polyline fill="none" stroke="#808080" stroke-width="2" stroke-linejoin="round" points="1467.6,514.1 1472.2,506.5 1477.2,501.5 1482.8,496.4 1489.1,493.9 1493.4,496.4 1497.9,499 1500.8,302.8 1505.9,292.1 1509.3,459.6 1514.8,465.4 1520.1,471.7 1526.2,478 1532,481.8 1538.8,486.3 1545.3,491.1 1553.9,492.4 1563.5,495.7 1573.6,491.9 1584.2,497.7 1609.4,503.2 1623.4,502.7 1635.4,504.4 1646.8,501.6 1664.6,497.5 1671.5,498.6 1678.4,503.4 1689.2,507.8 1696.5,506.6 1707.1,506.6 1713.9,514.4 1723.6,515.8 1732.1,519.2 1737.7,519.9 1744.9,519.9 1751.5,523.1 1764.3,523.1 1794.4,524.1 1860.5,524.8"/>
<circle cx="1467.6" cy="514.1" r="4.7" fill="url(#g_gray)"/><circle cx="1472.2" cy="506.5" r="4.7" fill="url(#g_gray)"/><circle cx="1477.2" cy="501.5" r="4.7" fill="url(#g_gray)"/><circle cx="1482.8" cy="496.4" r="4.7" fill="url(#g_gray)"/><circle cx="1489.1" cy="493.9" r="4.7" fill="url(#g_gray)"/><circle cx="1493.4" cy="496.4" r="4.7" fill="url(#g_gray)"/><circle cx="1497.9" cy="499" r="4.7" fill="url(#g_gray)"/><circle cx="1500.8" cy="302.8" r="4.7" fill="url(#g_gray)"/><circle cx="1505.9" cy="292.1" r="4.7" fill="url(#g_gray)"/><circle cx="1509.3" cy="459.6" r="4.7" fill="url(#g_gray)"/><circle cx="1514.8" cy="465.4" r="4.7" fill="url(#g_gray)"/><circle cx="1520.1" cy="471.7" r="4.7" fill="url(#g_gray)"/><circle cx="1526.2" cy="478" r="4.7" fill="url(#g_gray)"/><circle cx="1532" cy="481.8" r="4.7" fill="url(#g_gray)"/><circle cx="1538.8" cy="486.3" r="4.7" fill="url(#g_gray)"/><circle cx="1545.3" cy="491.1" r="4.7" fill="url(#g_gray)"/><circle cx="1553.9" cy="492.4" r="4.7" fill="url(#g_gray)"/><circle cx="1563.5" cy="495.7" r="4.7" fill="url(#g_gray)"/><circle cx="1573.6" cy="491.9" r="4.7" fill="url(#g_gray)"/><circle cx="1584.2" cy="497.7" r="4.7" fill="url(#g_gray)"/><circle cx="1609.4" cy="503.2" r="4.7" fill="url(#g_gray)"/><circle cx="1623.4" cy="502.7" r="4.7" fill="url(#g_gray)"/><circle cx="1635.4" cy="504.4" r="4.7" fill="url(#g_gray)"/><circle cx="1646.8" cy="501.6" r="4.7" fill="url(#g_gray)"/><circle cx="1664.6" cy="497.5" r="4.7" fill="url(#g_gray)"/><circle cx="1671.5" cy="498.6" r="4.7" fill="url(#g_gray)"/><circle cx="1678.4" cy="503.4" r="4.7" fill="url(#g_gray)"/><circle cx="1689.2" cy="507.8" r="4.7" fill="url(#g_gray)"/><circle cx="1696.5" cy="506.6" r="4.7" fill="url(#g_gray)"/><circle cx="1707.1" cy="506.6" r="4.7" fill="url(#g_gray)"/><circle cx="1713.9" cy="514.4" r="4.7" fill="url(#g_gray)"/><circle cx="1723.6" cy="515.8" r="4.7" fill="url(#g_gray)"/><circle cx="1732.1" cy="519.2" r="4.7" fill="url(#g_gray)"/><circle cx="1737.7" cy="519.9" r="4.7" fill="url(#g_gray)"/><circle cx="1744.9" cy="519.9" r="4.7" fill="url(#g_gray)"/><circle cx="1751.5" cy="523.1" r="4.7" fill="url(#g_gray)"/><circle cx="1764.3" cy="523.1" r="4.7" fill="url(#g_gray)"/><circle cx="1794.4" cy="524.1" r="4.7" fill="url(#g_gray)"/><circle cx="1860.5" cy="524.8" r="4.7" fill="url(#g_gray)"/>
<polyline fill="none" stroke="#FFE600" stroke-width="2" stroke-linejoin="round" points="1469.9,355 1474,348 1479.1,334.4 1484.3,331.6 1490.5,334.4 1493.6,340.5 1498,349.1 1503.6,128.8 1508.3,314.4 1513.5,326.8 1518.6,335 1525.5,342.9 1530.7,348.1 1538.2,357.7 1546.1,362.9 1554.7,370.4 1565,374.9 1577,383.5 1590.1,386.6 1605.2,397.2 1623.7,405.8 1643,410.6 1664.6,414.4 1682.4,414.5 1697.4,417.4 1715.1,419.9 1733.8,422.3 1810.1,425.4"/>
<circle cx="1469.9" cy="355" r="4.7" fill="url(#g_yellow)"/><circle cx="1474" cy="348" r="4.7" fill="url(#g_yellow)"/><circle cx="1479.1" cy="334.4" r="4.7" fill="url(#g_yellow)"/><circle cx="1484.3" cy="331.6" r="4.7" fill="url(#g_yellow)"/><circle cx="1490.5" cy="334.4" r="4.7" fill="url(#g_yellow)"/><circle cx="1493.6" cy="340.5" r="4.7" fill="url(#g_yellow)"/><circle cx="1498" cy="349.1" r="4.7" fill="url(#g_yellow)"/><circle cx="1508.3" cy="314.4" r="4.7" fill="url(#g_yellow)"/><circle cx="1513.5" cy="326.8" r="4.7" fill="url(#g_yellow)"/><circle cx="1518.6" cy="335" r="4.7" fill="url(#g_yellow)"/><circle cx="1525.5" cy="342.9" r="4.7" fill="url(#g_yellow)"/><circle cx="1530.7" cy="348.1" r="4.7" fill="url(#g_yellow)"/><circle cx="1538.2" cy="357.7" r="4.7" fill="url(#g_yellow)"/><circle cx="1546.1" cy="362.9" r="4.7" fill="url(#g_yellow)"/><circle cx="1554.7" cy="370.4" r="4.7" fill="url(#g_yellow)"/><circle cx="1565" cy="374.9" r="4.7" fill="url(#g_yellow)"/><circle cx="1577" cy="383.5" r="4.7" fill="url(#g_yellow)"/><circle cx="1590.1" cy="386.6" r="4.7" fill="url(#g_yellow)"/><circle cx="1605.2" cy="397.2" r="4.7" fill="url(#g_yellow)"/><circle cx="1623.7" cy="405.8" r="4.7" fill="url(#g_yellow)"/><circle cx="1643" cy="410.6" r="4.7" fill="url(#g_yellow)"/><circle cx="1664.6" cy="414.4" r="4.7" fill="url(#g_yellow)"/><circle cx="1682.4" cy="414.5" r="4.7" fill="url(#g_yellow)"/><circle cx="1697.4" cy="417.4" r="4.7" fill="url(#g_yellow)"/><circle cx="1715.1" cy="419.9" r="4.7" fill="url(#g_yellow)"/><circle cx="1733.8" cy="422.3" r="4.7" fill="url(#g_yellow)"/><circle cx="1810.1" cy="425.4" r="4.7" fill="url(#g_yellow)"/>
<polyline fill="none" stroke="#0080FF" stroke-width="2" stroke-linejoin="round" points="1468.9,436.9 1473.9,427.5 1478.2,415.4 1483.3,410.6 1487.8,408.6 1492.9,406.6 1497.9,413.2 1502,225 1506.3,316 1510.5,383.9 1516.1,393 1521.9,401 1528.2,412.4 1535.3,420 1542.1,428.8 1551.4,435.1 1562.3,440.9 1574.1,442.2 1588.2,447.7 1606.4,455.3 1625.1,459.7 1645.7,462.1 1667,466.6 1684.8,464.2 1700.6,469.1 1711.5,465.9 1727.2,474.6 1753.9,477.5 1852.5,480"/>
<circle cx="1468.9" cy="436.9" r="5.2" fill="url(#g_blue)"/><circle cx="1473.9" cy="427.5" r="5.2" fill="url(#g_blue)"/><circle cx="1478.2" cy="415.4" r="5.2" fill="url(#g_blue)"/><circle cx="1483.3" cy="410.6" r="5.2" fill="url(#g_blue)"/><circle cx="1487.8" cy="408.6" r="5.2" fill="url(#g_blue)"/><circle cx="1492.9" cy="406.6" r="5.2" fill="url(#g_blue)"/><circle cx="1497.9" cy="413.2" r="5.2" fill="url(#g_blue)"/><circle cx="1502" cy="225" r="5.2" fill="url(#g_blue)"/><circle cx="1506.3" cy="316" r="5.2" fill="url(#g_blue)"/><circle cx="1510.5" cy="383.9" r="5.2" fill="url(#g_blue)"/><circle cx="1516.1" cy="393" r="5.2" fill="url(#g_blue)"/><circle cx="1521.9" cy="401" r="5.2" fill="url(#g_blue)"/><circle cx="1528.2" cy="412.4" r="5.2" fill="url(#g_blue)"/><circle cx="1535.3" cy="420" r="5.2" fill="url(#g_blue)"/><circle cx="1542.1" cy="428.8" r="5.2" fill="url(#g_blue)"/><circle cx="1551.4" cy="435.1" r="5.2" fill="url(#g_blue)"/><circle cx="1562.3" cy="440.9" r="5.2" fill="url(#g_blue)"/><circle cx="1574.1" cy="442.2" r="5.2" fill="url(#g_blue)"/><circle cx="1588.2" cy="447.7" r="5.2" fill="url(#g_blue)"/><circle cx="1606.4" cy="455.3" r="5.2" fill="url(#g_blue)"/><circle cx="1625.1" cy="459.7" r="5.2" fill="url(#g_blue)"/><circle cx="1645.7" cy="462.1" r="5.2" fill="url(#g_blue)"/><circle cx="1667" cy="466.6" r="5.2" fill="url(#g_blue)"/><circle cx="1684.8" cy="464.2" r="5.2" fill="url(#g_blue)"/><circle cx="1700.6" cy="469.1" r="5.2" fill="url(#g_blue)"/><circle cx="1711.5" cy="465.9" r="5.2" fill="url(#g_blue)"/><circle cx="1727.2" cy="474.6" r="5.2" fill="url(#g_blue)"/><circle cx="1753.9" cy="477.5" r="5.2" fill="url(#g_blue)"/><circle cx="1852.5" cy="480" r="5.2" fill="url(#g_blue)"/>
<line x1="1532.3" y1="129.9" x2="1621.9" y2="129.9" stroke="#808080" stroke-width="3" stroke-linecap="round"/><circle cx="1576.7" cy="129.9" r="8.8" fill="url(#g_gray)"/><text x="1631.5" y="143.7" font-size="40">g-C<tspan font-size="23" dy="13">3</tspan><tspan dy="-13">N</tspan><tspan font-size="23" dy="13">4</tspan></text>
<line x1="1532.3" y1="191.6" x2="1621.9" y2="191.6" stroke="#AA00FF" stroke-width="3" stroke-linecap="round"/><circle cx="1576.7" cy="191.6" r="8.8" fill="url(#g_purple)"/><text x="1631.5" y="205.4" font-size="40">Ag<tspan font-size="23" dy="13">0.5%</tspan><tspan dy="-12" font-size="42.3" stroke="#000" stroke-width="0.85">@</tspan><tspan dy="-1" dx="-2">CN</tspan></text>
<line x1="1532.3" y1="253" x2="1621.9" y2="253" stroke="#0080FF" stroke-width="3" stroke-linecap="round"/><circle cx="1576.7" cy="253" r="8.8" fill="url(#g_blue)"/><text x="1631.5" y="266.8" font-size="40">Ag<tspan font-size="23" dy="13"><tspan font-family="Noto Sans CJK SC" font-size="21.7">1</tspan>.0%</tspan><tspan dy="-12" font-size="42.3" stroke="#000" stroke-width="0.85">@</tspan><tspan dy="-1" dx="-2">CN</tspan></text>
<line x1="1850.9" y1="129.8" x2="1941.3" y2="129.8" stroke="#00FF00" stroke-width="3" stroke-linecap="round"/><circle cx="1895.8" cy="129.8" r="8.8" fill="url(#g_green)"/><text x="1950.5" y="143.6" font-size="40">Ag<tspan font-size="23" dy="13">2.0%</tspan><tspan dy="-12" font-size="42.3" stroke="#000" stroke-width="0.85">@</tspan><tspan dy="-1" dx="-2">CN</tspan></text>
<line x1="1850.9" y1="191.6" x2="1941.3" y2="191.6" stroke="#FFE600" stroke-width="3" stroke-linecap="round"/><circle cx="1895.8" cy="191.6" r="8.8" fill="url(#g_yellow)"/><text x="1950.5" y="205.4" font-size="40">Ag<tspan font-size="23" dy="13">3.0%</tspan><tspan dy="-12" font-size="42.3" stroke="#000" stroke-width="0.85">@</tspan><tspan dy="-1" dx="-2">CN</tspan></text>
<line x1="1850.9" y1="252.7" x2="1941.3" y2="252.7" stroke="#FF6400" stroke-width="3" stroke-linecap="round"/><circle cx="1895.8" cy="252.7" r="8.8" fill="url(#g_orange)"/><text x="1950.5" y="266.5" font-size="40">Ag<tspan font-size="23" dy="13">4.0%</tspan><tspan dy="-12" font-size="42.3" stroke="#000" stroke-width="0.85">@</tspan><tspan dy="-1" dx="-2">CN</tspan></text>
<line x1="1850.9" y1="314.1" x2="1941.3" y2="314.1" stroke="#FF0000" stroke-width="3" stroke-linecap="round"/><circle cx="1895.8" cy="314.1" r="8.0" fill="url(#g_red)"/><text x="1950.5" y="327.9" font-size="40">Ag<tspan font-size="23" dy="13">5.0%</tspan><tspan dy="-12" font-size="42.3" stroke="#000" stroke-width="0.85">@</tspan><tspan dy="-1" dx="-2">CN</tspan></text>
<rect x="1331.8" y="80.7" width="942.2" height="758.4" fill="none" stroke="#000" stroke-width="3.5" stroke-linejoin="round"/>
<line x1="1317.8" y1="838.6" x2="1331.8" y2="838.6" stroke="#000" stroke-width="3.3" stroke-linecap="round"/>
<text x="1306" y="848.8" font-size="32" text-anchor="end" fill="#000">0</text>
<line x1="1324.3" y1="759.6" x2="1331.8" y2="759.6" stroke="#000" stroke-width="3.3" stroke-linecap="round"/>
<line x1="1317.8" y1="680.7" x2="1331.8" y2="680.7" stroke="#000" stroke-width="3.3" stroke-linecap="round"/>
<text x="1306" y="690.9" font-size="32" text-anchor="end" fill="#000">50</text>
<line x1="1324.3" y1="601.8" x2="1331.8" y2="601.8" stroke="#000" stroke-width="3.3" stroke-linecap="round"/>
<line x1="1317.8" y1="522.8" x2="1331.8" y2="522.8" stroke="#000" stroke-width="3.3" stroke-linecap="round"/>
<text x="1306" y="533" font-size="32" text-anchor="end" fill="#000"><tspan font-family="Noto Sans CJK SC" font-size="30.2">1</tspan>00</text>
<line x1="1324.3" y1="443.9" x2="1331.8" y2="443.9" stroke="#000" stroke-width="3.3" stroke-linecap="round"/>
<line x1="1317.8" y1="364.9" x2="1331.8" y2="364.9" stroke="#000" stroke-width="3.3" stroke-linecap="round"/>
<text x="1306" y="375.1" font-size="32" text-anchor="end" fill="#000"><tspan font-family="Noto Sans CJK SC" font-size="30.2">1</tspan>50</text>
<line x1="1324.3" y1="286" x2="1331.8" y2="286" stroke="#000" stroke-width="3.3" stroke-linecap="round"/>
<line x1="1317.8" y1="207" x2="1331.8" y2="207" stroke="#000" stroke-width="3.3" stroke-linecap="round"/>
<text x="1306" y="217.2" font-size="32" text-anchor="end" fill="#000">200</text>
<line x1="1324.3" y1="128.1" x2="1331.8" y2="128.1" stroke="#000" stroke-width="3.3" stroke-linecap="round"/>
<line x1="1331.8" y1="839.1" x2="1331.8" y2="853.1" stroke="#000" stroke-width="3.3" stroke-linecap="round"/>
<text x="1331.8" y="889" font-size="32" text-anchor="middle" fill="#000">0.0</text>
<line x1="1417.4" y1="839.1" x2="1417.4" y2="846.1" stroke="#000" stroke-width="3.3" stroke-linecap="round"/>
<line x1="1503" y1="839.1" x2="1503" y2="853.1" stroke="#000" stroke-width="3.3" stroke-linecap="round"/>
<text x="1503" y="889" font-size="32" text-anchor="middle" fill="#000">0.2</text>
<line x1="1588.6" y1="839.1" x2="1588.6" y2="846.1" stroke="#000" stroke-width="3.3" stroke-linecap="round"/>
<line x1="1674.2" y1="839.1" x2="1674.2" y2="853.1" stroke="#000" stroke-width="3.3" stroke-linecap="round"/>
<text x="1674.2" y="889" font-size="32" text-anchor="middle" fill="#000">0.4</text>
<line x1="1759.8" y1="839.1" x2="1759.8" y2="846.1" stroke="#000" stroke-width="3.3" stroke-linecap="round"/>
<line x1="1845.4" y1="839.1" x2="1845.4" y2="853.1" stroke="#000" stroke-width="3.3" stroke-linecap="round"/>
<text x="1845.4" y="889" font-size="32" text-anchor="middle" fill="#000">0.6</text>
<line x1="1931" y1="839.1" x2="1931" y2="846.1" stroke="#000" stroke-width="3.3" stroke-linecap="round"/>
<line x1="2016.6" y1="839.1" x2="2016.6" y2="853.1" stroke="#000" stroke-width="3.3" stroke-linecap="round"/>
<text x="2016.6" y="889" font-size="32" text-anchor="middle" fill="#000">0.8</text>
<line x1="2102.2" y1="839.1" x2="2102.2" y2="846.1" stroke="#000" stroke-width="3.3" stroke-linecap="round"/>
<line x1="2187.8" y1="839.1" x2="2187.8" y2="853.1" stroke="#000" stroke-width="3.3" stroke-linecap="round"/>
<text x="2187.8" y="889" font-size="32" text-anchor="middle" fill="#000"><tspan font-family="Noto Sans CJK SC" font-size="30.2">1</tspan>.0</text>
<line x1="2273.4" y1="839.1" x2="2273.4" y2="846.1" stroke="#000" stroke-width="3.3" stroke-linecap="round"/>
<text x="1580.5" y="953.6" font-size="39.6">Relative Pressure (P/P<tspan font-size="22" dy="13.7">0</tspan><tspan dy="-13.7">)</tspan></text>
<text x="1236.5" y="460" font-size="39.6" text-anchor="middle" transform="rotate(-90 1236.5 460)">Quantity Adsorbed (cm<tspan font-size="23" dy="-14">3</tspan><tspan dy="14">/g STP)</tspan></text>
<text x="0" y="0" font-size="160" transform="translate(1210.8 139.2) scale(1.05 1)">b</text>
</svg></body></html>
